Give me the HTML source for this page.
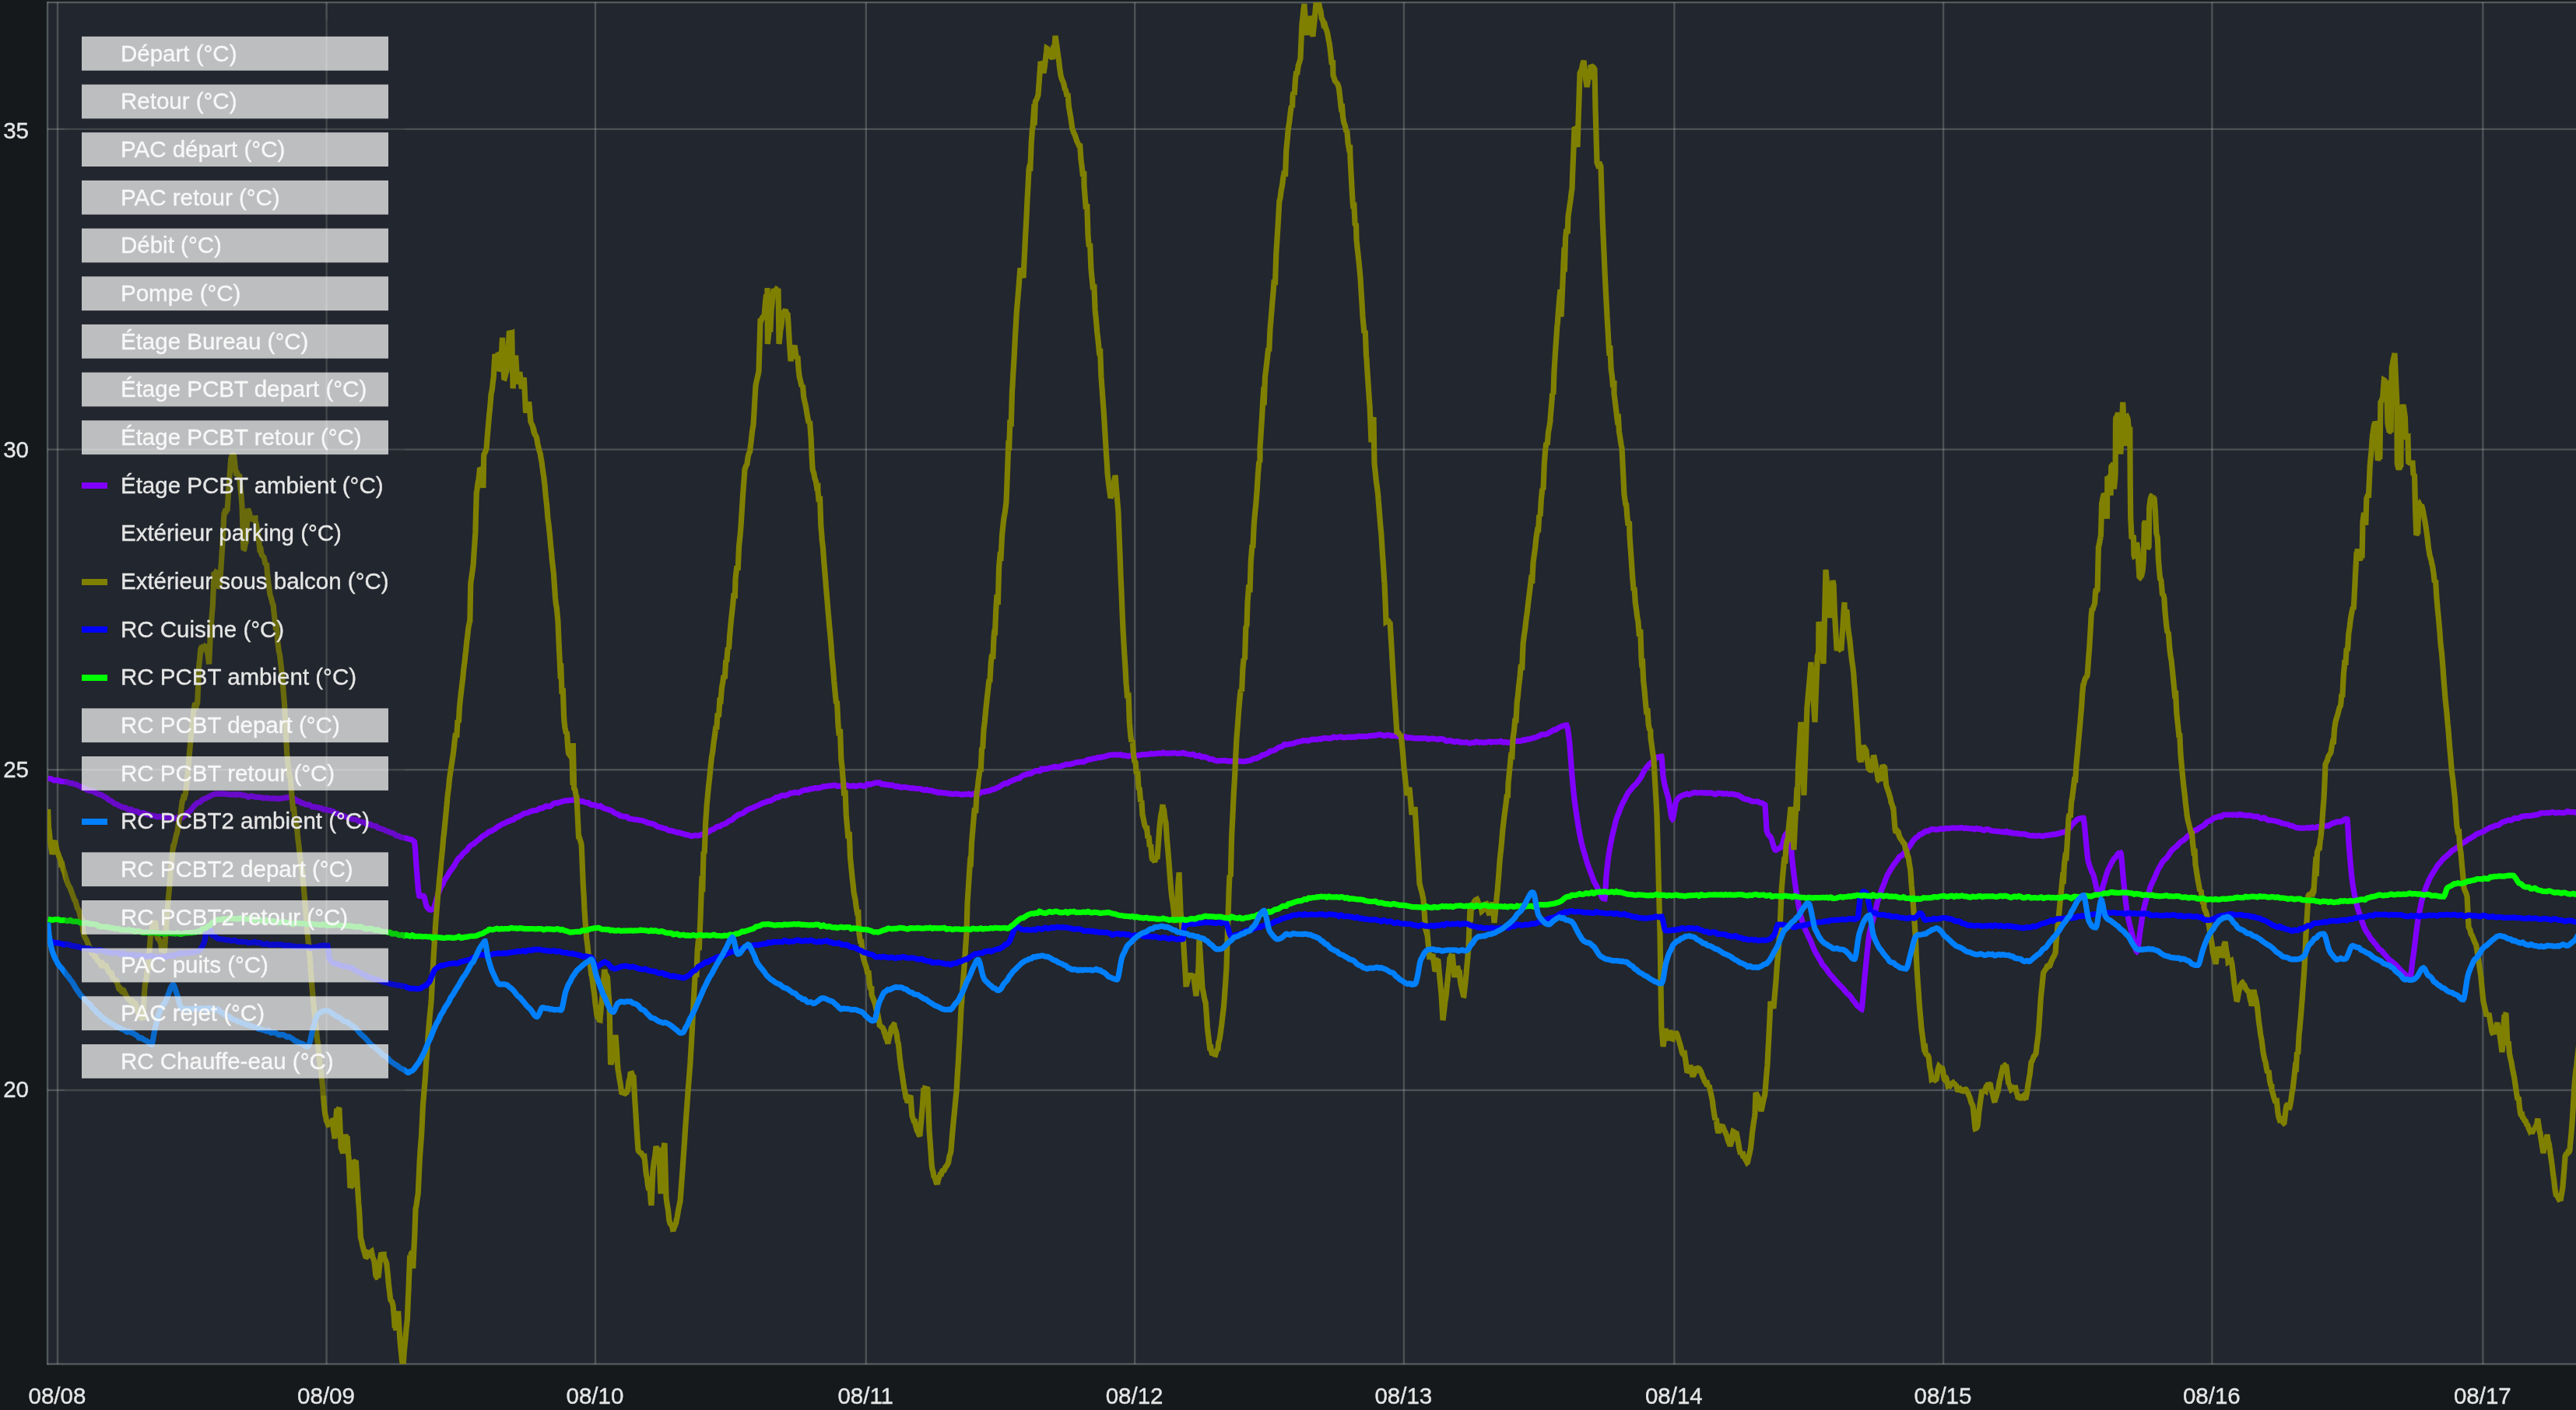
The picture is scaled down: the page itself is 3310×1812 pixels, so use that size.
<!DOCTYPE html><html><head><meta charset="utf-8"><title>chart</title><style>
html,body{margin:0;padding:0;background:#15191c;}
body{width:3310px;height:1812px;overflow:hidden;position:relative;font-family:"Liberation Sans",sans-serif;}
svg{position:absolute;left:0;top:0;display:block;will-change:transform}
text{font-family:"Liberation Sans",sans-serif;font-size:29.5px;fill:#e6e6e6;stroke:#e6e6e6;stroke-width:0.35px}
.c{fill:none;stroke-width:7.2;stroke-linejoin:miter;stroke-miterlimit:2;stroke-linecap:butt}
.g{stroke:rgba(200,212,205,0.25);stroke-width:2.4;fill:none}
.b{stroke:rgba(200,212,205,0.31);stroke-width:2.4;fill:none}
</style></head><body>
<svg width="3310" height="1812" viewBox="0 0 3310 1812">
<defs><clipPath id="cp"><rect x="61" y="3" width="3249" height="1750"/></clipPath></defs>
<rect x="61" y="3" width="3249" height="1750" fill="#22262e"/>
<path class="g" d="M74.0 3 V1753"/>
<path class="g" d="M419.6 3 V1753"/>
<path class="g" d="M765.0 3 V1753"/>
<path class="g" d="M1112.8 3 V1753"/>
<path class="g" d="M1458.2 3 V1753"/>
<path class="g" d="M1803.9 3 V1753"/>
<path class="g" d="M2151.4 3 V1753"/>
<path class="g" d="M2497.1 3 V1753"/>
<path class="g" d="M2842.4 3 V1753"/>
<path class="g" d="M3190.4 3 V1753"/>
<path class="g" d="M61 165.9 H3310"/>
<path class="g" d="M61 577.6 H3310"/>
<path class="g" d="M61 989.3 H3310"/>
<path class="g" d="M61 1401.0 H3310"/>
<path class="b" d="M61 2 V1754"/>
<path class="b" d="M61 3 H3310"/>
<path class="b" d="M61 1753 H3310"/>
<g clip-path="url(#cp)">
<path class="c" stroke="#8000ff" d="M61.6 1000.2 L62.9 1000.4 L64.2 1000.5 L65.5 1000.9 L66.8 1001.5 L68.1 1002.1 L69.4 1002.8 L70.7 1002.8 L72.0 1002.5 L73.3 1002.5 L74.0 1002.7 L74.6 1002.8 L75.9 1003.2 L77.2 1003.8 L78.5 1004.1 L79.8 1004.3 L81.1 1004.5 L82.4 1004.7 L83.7 1004.7 L85.0 1004.6 L86.3 1005.0 L87.6 1005.5 L88.9 1006.1 L90.2 1006.6 L91.0 1006.7 L91.5 1006.6 L92.8 1006.4 L94.1 1006.9 L95.4 1007.7 L96.7 1008.0 L98.0 1008.1 L99.3 1008.7 L100.6 1009.5 L101.9 1010.0 L103.2 1010.5 L104.5 1011.3 L105.5 1012.1 L105.8 1012.3 L107.1 1012.8 L108.4 1013.0 L109.7 1013.7 L111.0 1014.7 L112.3 1015.3 L113.6 1015.7 L114.9 1016.1 L116.2 1016.5 L117.5 1016.5 L118.8 1016.3 L120.1 1016.9 L121.4 1018.0 L122.7 1018.8 L124.0 1019.5 L125.3 1020.1 L126.6 1020.7 L127.9 1021.0 L129.2 1021.1 L129.6 1021.1 L130.5 1021.7 L131.8 1022.7 L133.1 1023.4 L134.4 1023.9 L135.7 1024.7 L137.0 1025.5 L138.3 1026.7 L139.6 1028.0 L140.9 1028.6 L142.2 1028.9 L143.5 1029.7 L144.8 1030.7 L146.1 1031.8 L147.4 1032.8 L148.7 1033.4 L150.0 1033.6 L151.3 1034.3 L152.6 1035.1 L153.9 1035.8 L155.2 1036.4 L156.0 1036.8 L156.5 1037.0 L157.8 1037.4 L159.1 1037.6 L160.4 1037.7 L161.7 1038.3 L163.0 1039.1 L164.3 1039.9 L165.6 1040.7 L166.9 1040.6 L168.2 1040.1 L169.5 1040.7 L170.8 1041.8 L172.1 1042.2 L173.4 1042.4 L174.7 1042.5 L176.0 1042.6 L177.3 1043.4 L178.6 1044.6 L179.9 1044.9 L180.0 1044.9 L181.2 1044.9 L182.5 1044.7 L183.8 1044.5 L185.1 1044.9 L186.4 1045.7 L187.7 1046.2 L189.0 1046.7 L190.3 1047.0 L191.6 1047.0 L192.9 1047.5 L194.2 1048.0 L195.5 1048.2 L196.8 1048.3 L198.1 1048.6 L199.4 1049.0 L199.5 1049.0 L200.7 1049.4 L202.0 1049.9 L203.3 1049.7 L204.6 1049.2 L205.9 1049.4 L207.2 1049.8 L208.5 1049.9 L209.8 1049.9 L211.1 1050.0 L212.4 1050.3 L213.7 1050.2 L214.0 1050.1 L215.0 1049.9 L216.3 1049.9 L217.6 1050.2 L218.9 1050.4 L220.2 1050.5 L221.5 1050.9 L222.8 1051.2 L224.1 1051.4 L225.4 1051.5 L226.7 1051.1 L228.0 1050.4 L229.3 1050.3 L230.6 1050.5 L231.9 1050.8 L233.0 1051.2 L233.2 1051.2 L234.5 1050.5 L235.8 1049.0 L237.1 1048.0 L238.4 1047.2 L239.7 1046.0 L241.0 1044.6 L242.3 1043.6 L243.0 1043.1 L243.6 1042.8 L244.9 1041.4 L246.2 1039.9 L247.5 1038.1 L248.8 1036.4 L250.1 1034.9 L251.4 1033.7 L252.5 1032.8 L252.7 1032.7 L254.0 1031.7 L255.3 1031.2 L256.6 1030.9 L257.9 1029.8 L259.2 1028.4 L260.5 1027.5 L261.8 1026.9 L263.1 1026.4 L264.4 1025.9 L265.7 1025.3 L267.0 1024.6 L267.0 1024.6 L268.3 1023.9 L269.6 1023.3 L270.9 1022.6 L272.2 1021.7 L273.5 1021.3 L274.8 1021.1 L276.1 1020.7 L277.4 1020.2 L278.7 1020.2 L280.0 1020.4 L281.3 1020.4 L281.5 1020.4 L282.6 1020.2 L283.9 1020.1 L285.2 1019.9 L286.5 1020.1 L287.8 1020.4 L289.1 1020.3 L290.4 1020.1 L291.7 1020.4 L293.0 1021.0 L294.3 1021.0 L295.6 1020.8 L296.9 1021.0 L298.2 1021.3 L299.5 1021.1 L300.8 1020.7 L302.1 1021.0 L303.0 1021.4 L303.4 1021.6 L304.7 1021.4 L306.0 1020.9 L307.3 1020.8 L308.6 1020.8 L309.9 1021.3 L311.2 1021.9 L312.5 1022.1 L313.8 1022.1 L315.1 1022.4 L316.4 1022.8 L317.7 1023.5 L319.0 1024.3 L320.3 1023.9 L321.6 1023.2 L322.9 1023.0 L324.2 1023.2 L325.5 1023.6 L326.8 1023.9 L327.0 1024.0 L328.1 1024.2 L329.4 1024.4 L330.7 1024.4 L332.0 1024.4 L333.3 1024.5 L334.6 1024.6 L335.9 1025.0 L337.2 1025.4 L338.5 1025.6 L339.8 1025.7 L341.1 1025.5 L342.4 1025.2 L343.7 1025.3 L345.0 1025.7 L346.3 1026.0 L347.6 1026.1 L348.9 1026.0 L350.2 1025.7 L351.5 1025.9 L352.8 1026.3 L353.8 1026.3 L354.1 1026.2 L355.4 1025.9 L356.7 1026.1 L358.0 1026.6 L359.3 1026.5 L360.6 1026.1 L361.9 1025.9 L363.2 1025.8 L364.5 1025.5 L365.8 1025.2 L367.1 1025.2 L368.4 1025.2 L369.7 1024.8 L370.7 1024.4 L371.0 1024.3 L372.3 1024.4 L373.6 1024.9 L374.9 1025.7 L376.2 1026.6 L377.5 1026.8 L378.8 1026.7 L380.1 1027.7 L381.4 1029.3 L382.7 1029.7 L384.0 1029.5 L385.3 1030.4 L386.6 1031.7 L387.5 1032.1 L387.9 1032.1 L389.2 1032.0 L390.5 1032.6 L391.8 1033.5 L393.1 1033.9 L394.4 1034.1 L395.7 1034.0 L397.0 1033.9 L398.3 1034.7 L399.6 1035.9 L400.9 1036.6 L402.2 1037.0 L403.5 1037.0 L404.8 1036.9 L406.1 1037.1 L406.8 1037.3 L407.4 1037.4 L408.7 1037.8 L410.0 1038.2 L411.3 1038.4 L412.6 1038.5 L413.9 1039.2 L415.2 1040.1 L416.5 1040.3 L417.8 1040.2 L419.1 1040.5 L420.4 1041.0 L421.7 1041.2 L423.0 1041.4 L424.3 1041.7 L425.6 1042.2 L426.0 1042.3 L426.9 1042.5 L428.2 1042.7 L429.5 1043.7 L430.8 1044.9 L432.1 1045.4 L433.4 1045.5 L434.7 1046.1 L436.0 1047.0 L437.3 1047.4 L438.6 1047.7 L439.9 1048.0 L441.2 1048.3 L442.5 1048.9 L443.8 1049.5 L445.1 1050.0 L446.4 1050.4 L447.7 1051.0 L449.0 1051.6 L450.0 1052.0 L450.3 1052.0 L451.6 1052.3 L452.9 1052.6 L454.2 1053.0 L455.5 1053.2 L456.8 1053.2 L457.0 1053.2 L458.1 1053.6 L459.4 1054.2 L460.7 1055.2 L462.0 1056.3 L463.3 1056.5 L464.6 1056.2 L465.9 1056.3 L467.2 1056.6 L468.5 1057.3 L469.8 1058.1 L471.1 1058.9 L472.4 1059.6 L473.7 1059.6 L475.0 1059.1 L476.3 1059.6 L477.6 1060.4 L478.9 1060.9 L480.2 1061.2 L481.5 1061.4 L482.8 1061.5 L484.1 1062.4 L485.4 1063.6 L486.7 1064.2 L487.0 1064.2 L488.0 1064.4 L489.3 1064.9 L490.6 1065.4 L491.9 1065.8 L493.2 1066.1 L494.5 1066.8 L495.8 1067.7 L497.1 1068.1 L498.4 1068.4 L499.7 1069.0 L501.0 1069.6 L502.3 1070.0 L503.6 1070.3 L504.9 1070.8 L506.2 1071.3 L507.5 1072.4 L508.8 1073.7 L510.1 1074.1 L511.4 1074.1 L512.7 1074.6 L514.0 1075.3 L515.3 1075.8 L516.0 1076.1 L516.6 1076.2 L517.9 1076.5 L519.2 1076.7 L520.5 1076.9 L521.8 1077.1 L523.1 1077.6 L524.4 1078.1 L525.7 1078.4 L527.0 1078.5 L528.3 1078.9 L529.6 1079.6 L530.9 1080.5 L532.2 1081.5 L532.5 1081.8 L533.5 1090.3 L534.8 1110.2 L535.0 1112.7 L536.1 1126.9 L537.4 1143.3 L538.7 1151.1 L538.7 1151.1 L540.0 1151.5 L541.3 1151.4 L542.6 1151.3 L543.9 1151.3 L544.3 1151.4 L545.2 1153.0 L546.5 1158.5 L547.8 1163.8 L548.0 1164.3 L549.1 1166.1 L550.4 1167.8 L551.7 1168.9 L553.0 1169.3 L553.5 1169.2 L554.3 1169.2 L555.6 1168.6 L556.9 1167.4 L557.2 1167.1 L558.2 1165.2 L559.5 1161.0 L560.8 1156.0 L562.1 1151.2 L562.7 1149.5 L563.4 1147.8 L564.7 1144.5 L566.0 1141.2 L567.3 1138.8 L568.6 1136.9 L569.9 1134.1 L571.2 1130.9 L572.5 1128.8 L573.8 1127.2 L573.8 1127.2 L575.1 1125.1 L576.4 1122.8 L577.7 1120.7 L579.0 1118.8 L580.3 1117.0 L581.6 1115.3 L582.9 1113.4 L584.2 1111.4 L585.5 1109.0 L586.8 1106.5 L588.1 1104.5 L588.6 1103.8 L589.4 1102.8 L590.7 1101.7 L592.0 1101.0 L593.3 1099.3 L594.6 1097.4 L595.9 1096.0 L597.2 1095.0 L598.5 1093.9 L599.8 1092.9 L601.1 1091.1 L602.4 1089.2 L603.7 1087.6 L605.0 1086.3 L606.3 1085.6 L607.6 1085.2 L608.9 1084.2 L610.2 1083.1 L610.7 1082.6 L611.5 1081.9 L612.8 1080.8 L614.1 1079.8 L615.4 1078.9 L616.7 1077.7 L618.0 1076.5 L619.3 1075.3 L620.6 1074.2 L621.9 1073.5 L623.2 1073.0 L624.5 1072.1 L625.8 1070.9 L627.1 1069.9 L628.4 1068.8 L629.7 1068.4 L631.0 1068.2 L632.3 1067.5 L632.8 1067.1 L633.6 1066.5 L634.9 1065.8 L636.2 1065.1 L637.5 1064.1 L638.8 1063.0 L640.1 1062.2 L641.4 1061.5 L642.7 1060.8 L644.0 1059.9 L645.3 1059.2 L646.6 1058.6 L647.9 1058.1 L649.2 1057.7 L650.5 1057.0 L651.8 1056.0 L653.1 1055.5 L654.4 1055.2 L655.7 1054.7 L657.0 1054.0 L658.3 1053.7 L658.7 1053.7 L659.6 1053.6 L660.9 1052.5 L662.2 1050.8 L663.5 1050.3 L664.8 1050.4 L666.1 1049.8 L667.4 1048.9 L668.7 1048.2 L670.0 1047.6 L671.3 1046.8 L672.6 1045.7 L673.9 1045.3 L675.2 1045.0 L676.5 1044.8 L677.8 1044.7 L679.1 1044.1 L680.4 1043.4 L681.7 1042.9 L683.0 1042.5 L684.3 1042.0 L684.5 1042.0 L685.6 1041.5 L686.9 1041.5 L688.2 1041.6 L689.5 1041.2 L690.8 1040.6 L692.1 1039.7 L693.4 1038.8 L694.7 1038.6 L696.0 1038.8 L697.3 1038.4 L698.6 1037.6 L699.9 1036.9 L700.0 1036.8 L701.2 1036.1 L702.5 1036.0 L703.8 1036.3 L705.1 1036.3 L706.4 1036.3 L707.7 1035.5 L709.0 1034.5 L710.3 1033.5 L711.6 1032.6 L712.9 1032.0 L714.2 1031.7 L715.0 1031.6 L715.5 1031.7 L716.8 1032.0 L718.1 1031.6 L719.4 1031.0 L720.7 1030.5 L722.0 1030.1 L723.3 1029.7 L724.6 1029.4 L725.9 1029.1 L727.2 1028.9 L728.5 1028.8 L729.8 1028.8 L731.1 1028.7 L732.4 1028.5 L733.7 1028.3 L735.0 1028.2 L735.0 1028.2 L736.3 1027.9 L737.6 1027.6 L738.9 1027.9 L740.2 1028.6 L741.5 1028.7 L742.8 1028.6 L744.1 1029.1 L745.4 1030.0 L746.7 1030.0 L748.0 1029.6 L749.3 1030.0 L750.6 1030.7 L751.9 1031.1 L753.2 1031.5 L754.5 1031.6 L755.0 1031.6 L755.8 1031.5 L757.1 1032.4 L758.4 1033.6 L759.7 1034.2 L761.0 1034.5 L762.3 1034.5 L763.6 1034.3 L764.9 1034.8 L766.2 1035.5 L767.5 1036.0 L768.8 1036.3 L770.1 1036.1 L771.4 1035.6 L772.7 1036.4 L774.0 1037.7 L775.3 1038.4 L776.6 1038.8 L777.9 1039.3 L779.2 1039.8 L780.5 1040.1 L781.8 1040.2 L783.1 1040.8 L784.4 1041.5 L785.0 1041.8 L785.7 1042.1 L787.0 1042.7 L788.3 1043.7 L789.6 1044.7 L790.9 1045.3 L792.2 1045.8 L793.5 1046.3 L794.8 1046.8 L796.1 1047.7 L797.4 1048.8 L798.7 1049.0 L800.0 1048.9 L800.0 1048.9 L801.3 1049.1 L802.6 1049.5 L803.9 1049.6 L805.2 1049.5 L806.5 1050.4 L807.8 1051.8 L809.1 1052.2 L810.4 1052.3 L811.7 1052.5 L813.0 1052.8 L814.3 1053.0 L815.6 1053.2 L816.9 1053.3 L818.2 1053.4 L819.5 1053.6 L820.8 1053.9 L822.1 1054.1 L823.4 1054.2 L824.7 1054.5 L826.0 1054.8 L827.3 1055.2 L828.6 1055.6 L829.9 1056.3 L830.0 1056.4 L831.2 1057.1 L832.5 1057.5 L833.8 1057.6 L835.1 1057.9 L836.4 1058.2 L837.7 1058.5 L839.0 1058.8 L840.3 1059.3 L841.6 1059.8 L842.9 1060.8 L844.2 1062.0 L845.5 1062.5 L846.8 1062.7 L848.1 1063.1 L849.4 1063.4 L850.7 1063.8 L852.0 1064.2 L853.3 1064.5 L854.6 1064.7 L855.9 1065.3 L857.2 1066.1 L858.5 1066.7 L859.8 1067.4 L860.0 1067.5 L861.1 1067.6 L862.4 1067.5 L863.7 1067.8 L865.0 1068.2 L866.3 1068.6 L867.6 1069.0 L868.9 1069.4 L870.2 1069.9 L871.5 1069.9 L872.8 1069.8 L874.1 1070.2 L875.4 1071.0 L876.7 1071.3 L878.0 1071.4 L879.3 1072.0 L880.6 1072.8 L881.9 1072.9 L883.2 1072.6 L884.5 1073.0 L885.8 1073.6 L887.1 1074.1 L888.4 1074.5 L889.7 1074.4 L891.0 1073.9 L892.3 1073.7 L893.6 1073.7 L894.0 1073.6 L894.9 1073.8 L896.2 1073.9 L897.5 1073.8 L898.8 1073.5 L900.1 1073.0 L901.4 1072.3 L902.7 1072.1 L904.0 1072.1 L905.3 1072.0 L906.6 1071.9 L907.9 1071.0 L909.2 1069.7 L910.5 1068.9 L911.8 1068.2 L913.1 1067.4 L914.4 1066.4 L915.7 1065.9 L917.0 1065.6 L918.3 1064.8 L919.6 1063.6 L920.9 1062.8 L922.2 1062.2 L923.5 1062.1 L924.0 1062.1 L924.8 1062.2 L926.1 1061.3 L927.4 1060.0 L928.7 1059.5 L930.0 1059.4 L931.3 1058.9 L932.6 1058.3 L933.9 1057.4 L935.2 1056.2 L936.5 1055.4 L937.8 1054.7 L939.1 1054.2 L940.4 1053.8 L941.7 1052.7 L943.0 1051.2 L944.3 1050.2 L945.6 1049.2 L946.9 1048.3 L948.2 1047.2 L949.5 1046.7 L950.8 1046.3 L952.1 1046.0 L953.4 1045.7 L954.7 1045.0 L956.0 1044.2 L957.3 1043.0 L958.6 1041.8 L959.0 1041.4 L959.9 1041.0 L961.2 1040.4 L962.5 1039.9 L963.8 1039.3 L965.1 1038.9 L966.4 1038.5 L967.7 1037.9 L969.0 1037.1 L970.3 1036.5 L971.6 1036.1 L972.9 1035.5 L974.2 1035.0 L975.5 1034.3 L976.8 1033.5 L978.1 1032.9 L979.4 1032.4 L980.7 1031.9 L982.0 1031.5 L983.3 1030.9 L984.6 1030.3 L985.9 1029.8 L987.2 1029.5 L988.5 1029.3 L989.8 1029.2 L991.1 1028.6 L992.4 1027.7 L993.7 1027.0 L995.0 1026.4 L996.3 1025.6 L997.6 1024.6 L998.9 1024.5 L999.0 1024.5 L1000.2 1024.7 L1001.5 1024.0 L1002.8 1022.9 L1004.1 1022.4 L1005.4 1022.1 L1006.7 1022.3 L1008.0 1022.6 L1009.3 1022.4 L1010.6 1022.0 L1011.9 1021.4 L1013.2 1020.8 L1014.5 1020.0 L1015.8 1019.2 L1017.1 1019.0 L1018.4 1019.1 L1019.7 1018.8 L1021.0 1018.4 L1022.3 1018.3 L1023.6 1018.4 L1024.9 1018.6 L1026.2 1018.8 L1027.5 1018.2 L1028.8 1017.3 L1030.1 1016.6 L1031.4 1016.0 L1032.7 1015.5 L1034.0 1015.2 L1035.3 1015.1 L1036.6 1015.1 L1037.9 1015.0 L1038.0 1014.9 L1039.2 1014.7 L1040.5 1014.2 L1041.8 1013.6 L1043.1 1013.5 L1044.4 1013.6 L1045.7 1013.1 L1047.0 1012.5 L1048.3 1012.5 L1049.6 1012.9 L1050.9 1012.8 L1052.2 1012.6 L1053.5 1012.3 L1054.8 1012.0 L1056.1 1011.5 L1057.4 1010.8 L1058.7 1010.7 L1060.0 1010.8 L1061.3 1010.6 L1062.6 1010.2 L1063.9 1010.0 L1065.2 1009.9 L1066.5 1009.8 L1067.8 1009.8 L1068.0 1009.8 L1069.1 1009.6 L1070.4 1009.3 L1071.7 1009.2 L1073.0 1009.1 L1074.3 1009.6 L1075.6 1010.3 L1076.9 1010.3 L1078.2 1010.0 L1079.5 1010.0 L1080.8 1010.1 L1082.1 1010.3 L1083.4 1010.5 L1084.7 1010.0 L1086.0 1009.2 L1087.3 1009.2 L1088.6 1009.4 L1089.9 1009.7 L1091.2 1010.0 L1092.5 1010.2 L1093.8 1010.2 L1095.1 1010.1 L1096.4 1009.8 L1097.7 1010.1 L1099.0 1010.5 L1100.3 1010.4 L1101.6 1010.2 L1102.9 1009.8 L1104.2 1009.4 L1105.5 1009.3 L1106.8 1009.4 L1108.0 1009.8 L1108.1 1009.8 L1109.4 1010.2 L1110.7 1010.1 L1112.0 1009.7 L1113.3 1008.9 L1114.6 1007.7 L1115.9 1007.7 L1117.2 1008.3 L1118.5 1008.0 L1119.8 1007.3 L1121.1 1007.0 L1122.4 1007.0 L1123.7 1006.5 L1125.0 1005.9 L1125.0 1005.9 L1126.3 1005.8 L1127.6 1005.9 L1128.9 1005.9 L1130.2 1005.8 L1131.5 1006.7 L1132.8 1008.0 L1134.1 1008.0 L1135.4 1007.5 L1136.7 1007.9 L1138.0 1008.7 L1139.3 1008.7 L1140.6 1008.3 L1141.9 1008.6 L1143.2 1009.1 L1144.5 1009.1 L1145.8 1008.8 L1147.1 1009.1 L1148.0 1009.5 L1148.4 1009.7 L1149.7 1010.3 L1151.0 1010.9 L1152.3 1010.7 L1153.6 1010.3 L1154.9 1010.7 L1156.2 1011.6 L1157.5 1011.8 L1158.8 1011.8 L1160.1 1011.6 L1161.4 1011.3 L1162.7 1011.5 L1164.0 1011.8 L1165.3 1012.0 L1166.6 1012.2 L1167.9 1012.4 L1169.2 1012.7 L1170.5 1012.8 L1171.8 1012.8 L1173.1 1012.9 L1174.4 1012.9 L1175.7 1013.2 L1177.0 1013.5 L1178.3 1013.5 L1179.6 1013.5 L1180.9 1013.5 L1182.2 1013.6 L1183.5 1014.0 L1184.8 1014.6 L1186.1 1015.0 L1187.0 1015.4 L1187.4 1015.5 L1188.7 1015.3 L1190.0 1014.7 L1191.3 1015.0 L1192.6 1015.7 L1193.9 1015.9 L1195.2 1015.9 L1196.5 1016.0 L1197.8 1016.1 L1199.1 1016.7 L1200.4 1017.5 L1201.7 1017.6 L1203.0 1017.4 L1204.3 1017.9 L1205.6 1018.7 L1206.9 1018.6 L1208.2 1018.2 L1209.5 1018.4 L1210.8 1018.9 L1212.1 1019.1 L1213.4 1019.1 L1214.7 1019.1 L1216.0 1019.1 L1217.3 1019.4 L1218.6 1020.0 L1219.9 1020.1 L1221.2 1019.9 L1222.0 1020.0 L1222.5 1020.1 L1223.8 1020.4 L1225.1 1020.4 L1226.4 1020.3 L1227.7 1020.1 L1229.0 1019.9 L1230.3 1020.0 L1231.6 1020.4 L1232.9 1020.6 L1234.2 1020.7 L1235.5 1021.0 L1236.8 1021.3 L1238.1 1021.0 L1239.4 1020.5 L1240.7 1020.5 L1242.0 1020.8 L1243.3 1020.6 L1244.6 1020.1 L1245.9 1020.5 L1247.0 1021.1 L1247.2 1021.2 L1248.5 1021.0 L1249.8 1020.4 L1251.1 1020.0 L1252.4 1019.6 L1253.7 1019.8 L1255.0 1020.1 L1256.3 1020.2 L1257.6 1020.3 L1258.9 1019.6 L1260.2 1018.5 L1261.5 1018.0 L1262.8 1017.8 L1264.1 1017.6 L1265.4 1017.4 L1266.7 1017.0 L1268.0 1016.5 L1269.3 1016.4 L1270.6 1016.5 L1271.9 1016.0 L1272.0 1016.0 L1273.2 1015.3 L1274.5 1014.8 L1275.8 1014.3 L1277.1 1014.1 L1278.4 1014.0 L1279.7 1013.3 L1281.0 1012.3 L1282.3 1011.8 L1283.6 1011.6 L1284.9 1010.7 L1286.2 1009.7 L1287.5 1008.8 L1288.8 1008.1 L1290.1 1007.3 L1291.4 1006.5 L1292.7 1006.5 L1294.0 1007.0 L1295.3 1006.2 L1296.6 1005.0 L1297.9 1004.3 L1299.2 1003.9 L1300.5 1003.3 L1301.0 1003.1 L1301.8 1002.7 L1303.1 1002.2 L1304.4 1001.7 L1305.7 1001.1 L1307.0 1000.6 L1308.3 1000.4 L1309.6 1000.4 L1310.9 999.4 L1312.2 998.0 L1313.5 997.1 L1314.8 996.4 L1316.1 996.0 L1317.4 995.6 L1318.7 995.1 L1320.0 994.5 L1321.3 994.4 L1322.6 994.6 L1323.9 994.3 L1325.2 993.8 L1326.5 993.0 L1327.8 992.0 L1329.1 991.4 L1330.4 990.8 L1331.7 990.6 L1333.0 990.5 L1334.3 990.6 L1335.6 990.8 L1336.0 990.8 L1336.9 989.7 L1338.2 988.1 L1339.5 988.1 L1340.8 988.8 L1342.1 988.5 L1343.4 987.8 L1344.7 987.8 L1346.0 988.1 L1347.3 987.6 L1348.6 986.8 L1349.9 986.5 L1351.2 986.5 L1352.5 986.1 L1353.8 985.5 L1355.1 985.2 L1356.4 985.1 L1357.7 985.4 L1359.0 985.9 L1360.3 985.8 L1361.6 985.4 L1362.9 984.8 L1364.2 984.2 L1365.5 983.8 L1366.8 983.4 L1368.1 982.9 L1369.4 982.3 L1370.7 982.2 L1371.0 982.3 L1372.0 982.4 L1373.3 982.3 L1374.6 982.2 L1375.9 981.9 L1377.2 981.6 L1378.5 981.3 L1379.8 980.9 L1381.1 980.4 L1382.4 979.8 L1383.7 979.6 L1385.0 979.6 L1386.3 979.4 L1387.6 979.1 L1388.9 979.1 L1390.2 979.1 L1391.5 979.1 L1392.8 978.9 L1394.1 978.3 L1395.4 977.4 L1396.7 976.8 L1398.0 976.3 L1399.3 976.1 L1400.6 976.0 L1401.9 975.7 L1403.2 975.2 L1404.5 974.9 L1405.8 974.6 L1406.0 974.6 L1407.1 974.5 L1408.4 974.4 L1409.7 974.0 L1411.0 973.4 L1412.3 973.4 L1413.6 973.6 L1414.9 973.3 L1416.2 972.8 L1417.5 972.5 L1418.8 972.4 L1420.1 972.0 L1421.4 971.6 L1422.7 971.2 L1424.0 970.8 L1425.3 970.5 L1426.6 970.2 L1427.9 970.2 L1429.2 970.2 L1430.5 970.1 L1431.8 969.9 L1433.1 969.9 L1434.4 970.1 L1435.7 970.1 L1436.0 970.1 L1437.0 970.0 L1438.3 969.9 L1439.6 969.6 L1440.9 970.0 L1442.2 970.7 L1443.5 970.9 L1444.8 970.7 L1446.1 971.0 L1447.4 971.4 L1448.7 971.6 L1450.0 971.8 L1450.0 971.8 L1451.3 971.4 L1452.6 970.9 L1453.9 971.1 L1455.2 971.6 L1456.5 971.7 L1457.8 971.6 L1459.1 971.4 L1460.4 971.1 L1461.7 970.9 L1463.0 970.6 L1464.3 970.4 L1465.6 970.3 L1466.9 970.0 L1468.2 969.6 L1469.5 969.6 L1470.0 969.6 L1470.8 969.7 L1472.1 969.6 L1473.4 969.4 L1474.7 969.3 L1476.0 969.4 L1477.3 969.0 L1478.6 968.5 L1479.9 968.6 L1481.2 968.9 L1482.5 968.8 L1483.8 968.7 L1485.1 968.5 L1486.4 968.3 L1487.7 968.1 L1489.0 968.0 L1490.3 968.1 L1491.6 968.3 L1492.9 967.9 L1494.2 967.2 L1495.0 967.2 L1495.5 967.4 L1496.8 968.1 L1498.1 968.2 L1499.4 968.2 L1500.7 968.2 L1502.0 968.2 L1503.3 968.2 L1504.6 968.2 L1505.9 968.0 L1507.2 967.7 L1508.5 967.7 L1509.8 967.8 L1511.1 968.0 L1512.4 968.3 L1513.7 968.3 L1515.0 968.3 L1516.3 968.2 L1517.6 968.1 L1518.9 967.8 L1520.0 967.3 L1520.2 967.3 L1521.5 967.6 L1522.8 968.3 L1524.1 968.7 L1525.4 969.1 L1526.7 969.3 L1528.0 969.5 L1529.3 969.6 L1530.6 969.7 L1531.9 969.5 L1533.2 969.3 L1534.5 970.0 L1535.8 971.1 L1537.1 971.5 L1538.4 971.5 L1539.7 971.2 L1541.0 970.8 L1542.3 971.5 L1543.6 972.7 L1544.9 972.8 L1545.0 972.8 L1546.2 972.5 L1547.5 972.6 L1548.8 973.0 L1550.1 973.4 L1551.4 973.9 L1552.7 974.6 L1554.0 975.5 L1555.3 975.6 L1556.6 975.4 L1557.9 975.7 L1559.2 976.1 L1560.5 976.8 L1561.8 977.5 L1563.1 977.8 L1564.4 978.0 L1565.7 977.8 L1567.0 977.5 L1568.3 977.5 L1569.6 977.6 L1570.9 977.5 L1572.2 977.3 L1573.5 977.3 L1574.8 977.5 L1575.0 977.6 L1576.1 977.8 L1577.4 978.2 L1578.7 978.2 L1580.0 978.2 L1581.3 978.2 L1582.6 978.1 L1583.9 978.2 L1585.2 978.5 L1586.5 978.2 L1587.8 977.7 L1589.1 977.7 L1590.4 977.9 L1591.7 978.1 L1593.0 978.4 L1594.3 978.4 L1595.6 978.4 L1596.9 978.5 L1598.2 978.6 L1599.5 978.5 L1600.0 978.4 L1600.8 978.3 L1602.1 978.0 L1603.4 977.6 L1604.7 977.5 L1606.0 977.4 L1607.3 976.9 L1608.6 976.1 L1609.9 975.4 L1611.2 974.8 L1612.5 974.7 L1613.8 974.8 L1615.1 974.4 L1616.4 973.6 L1617.7 973.1 L1619.0 972.6 L1620.3 971.7 L1621.6 970.5 L1622.9 970.1 L1624.2 970.0 L1625.0 969.8 L1625.5 969.5 L1626.8 968.9 L1628.1 968.3 L1629.4 967.6 L1630.7 966.6 L1632.0 965.5 L1633.3 965.1 L1634.6 965.0 L1635.9 964.7 L1637.2 964.4 L1638.5 963.7 L1639.8 962.9 L1641.1 961.9 L1642.4 961.0 L1643.7 960.4 L1645.0 959.9 L1646.3 959.6 L1647.6 959.3 L1648.9 958.1 L1650.0 956.8 L1650.2 956.6 L1651.5 956.4 L1652.8 956.8 L1654.1 956.8 L1655.4 956.6 L1656.7 956.3 L1658.0 955.9 L1659.3 955.8 L1660.6 955.8 L1661.9 955.4 L1663.2 954.9 L1664.5 954.4 L1665.8 953.8 L1667.1 953.4 L1668.4 953.2 L1669.7 953.0 L1671.0 952.9 L1672.3 952.5 L1673.6 951.9 L1674.0 951.7 L1674.9 951.6 L1676.2 951.6 L1677.5 951.7 L1678.8 951.8 L1680.1 951.9 L1681.4 952.1 L1682.7 951.6 L1684.0 950.8 L1685.3 950.4 L1686.6 950.3 L1687.9 950.2 L1689.2 950.2 L1690.5 950.3 L1691.8 950.5 L1693.1 950.2 L1694.4 949.6 L1695.7 949.7 L1697.0 950.0 L1698.3 949.5 L1699.6 948.7 L1700.9 948.5 L1702.2 948.7 L1703.5 948.6 L1704.8 948.5 L1706.1 948.6 L1707.4 948.8 L1708.7 948.9 L1710.0 948.9 L1711.3 948.3 L1712.6 947.4 L1713.9 947.2 L1714.0 947.2 L1715.2 947.3 L1716.5 947.6 L1717.8 947.9 L1719.1 947.7 L1720.4 947.3 L1721.7 947.0 L1723.0 946.7 L1724.3 947.1 L1725.6 947.8 L1726.9 947.9 L1728.2 947.7 L1729.5 947.6 L1730.8 947.5 L1732.1 947.3 L1733.4 946.9 L1734.7 947.1 L1736.0 947.5 L1737.3 947.4 L1738.6 946.9 L1739.9 947.1 L1741.2 947.4 L1742.5 947.1 L1743.8 946.4 L1745.1 946.2 L1746.4 946.2 L1747.7 946.3 L1749.0 946.6 L1750.3 946.4 L1751.6 946.1 L1752.9 946.2 L1754.2 946.6 L1755.5 946.5 L1756.8 946.3 L1758.1 946.0 L1759.0 945.7 L1759.4 945.5 L1760.7 945.5 L1762.0 945.6 L1763.3 945.5 L1764.6 945.1 L1765.9 945.2 L1767.2 945.3 L1768.5 944.9 L1769.8 944.3 L1771.1 944.0 L1772.4 943.9 L1773.7 944.2 L1775.0 944.6 L1776.0 944.9 L1776.3 944.9 L1777.6 945.3 L1778.9 945.4 L1780.2 945.4 L1781.5 945.0 L1782.8 944.6 L1784.1 944.6 L1785.4 944.8 L1786.7 945.2 L1788.0 945.8 L1789.3 945.8 L1790.6 945.5 L1791.9 945.3 L1793.2 945.3 L1794.5 945.7 L1795.8 946.2 L1797.1 946.6 L1798.4 946.9 L1799.7 946.9 L1801.0 946.7 L1802.3 946.6 L1803.6 946.5 L1804.9 946.7 L1806.2 946.9 L1807.5 947.5 L1808.8 948.2 L1809.0 948.3 L1810.1 948.2 L1811.4 947.8 L1812.7 947.9 L1814.0 948.2 L1815.3 948.4 L1816.6 948.6 L1817.9 948.8 L1819.2 948.9 L1820.5 948.8 L1821.8 948.6 L1823.1 948.8 L1824.4 949.1 L1825.7 948.9 L1827.0 948.6 L1828.3 948.6 L1829.6 948.8 L1830.9 948.8 L1832.2 948.6 L1833.5 949.1 L1834.8 949.8 L1836.1 949.8 L1837.4 949.5 L1838.7 949.3 L1840.0 949.2 L1841.3 949.2 L1842.6 949.4 L1843.9 949.6 L1845.2 949.7 L1846.5 950.0 L1847.8 950.3 L1848.0 950.4 L1849.1 950.0 L1850.4 949.4 L1851.7 949.5 L1853.0 949.8 L1854.3 950.1 L1855.6 950.4 L1856.9 951.2 L1858.2 952.3 L1859.5 952.4 L1860.8 952.1 L1862.1 951.9 L1863.4 951.7 L1864.7 952.0 L1866.0 952.4 L1867.3 953.0 L1868.6 953.5 L1869.9 953.3 L1871.2 952.8 L1872.5 952.7 L1873.8 952.9 L1875.1 953.3 L1876.4 953.9 L1877.7 954.1 L1879.0 954.0 L1880.3 954.0 L1881.6 954.2 L1882.9 954.0 L1884.2 953.7 L1885.5 954.2 L1886.8 954.9 L1888.0 955.1 L1888.1 955.1 L1889.4 955.0 L1890.7 954.8 L1892.0 954.4 L1893.3 954.4 L1894.6 954.4 L1895.9 953.8 L1897.2 953.0 L1898.5 953.3 L1899.8 954.1 L1901.1 954.2 L1902.4 953.9 L1903.7 954.0 L1905.0 954.1 L1906.3 954.2 L1907.6 954.3 L1908.9 954.1 L1910.2 953.8 L1911.5 953.4 L1912.8 953.0 L1914.1 953.2 L1915.4 953.8 L1916.7 953.8 L1918.0 953.4 L1919.3 953.4 L1920.6 953.5 L1921.9 953.4 L1923.2 953.3 L1924.5 953.3 L1925.8 953.4 L1927.1 953.0 L1928.4 952.4 L1929.7 952.9 L1931.0 953.9 L1932.3 954.0 L1933.6 953.7 L1934.9 953.7 L1936.2 954.0 L1937.5 954.2 L1938.8 954.4 L1940.1 954.0 L1941.4 953.4 L1942.7 952.8 L1944.0 952.2 L1945.3 952.2 L1946.6 952.4 L1947.9 952.4 L1948.0 952.4 L1949.2 952.2 L1950.5 952.3 L1951.8 952.3 L1953.1 952.4 L1954.4 952.3 L1955.7 951.7 L1957.0 950.9 L1958.3 950.9 L1959.6 951.3 L1960.9 950.8 L1962.2 949.9 L1963.5 949.8 L1964.8 950.0 L1966.1 949.7 L1967.4 949.2 L1968.7 948.8 L1970.0 948.4 L1971.3 948.1 L1972.0 947.9 L1972.6 947.8 L1973.9 947.3 L1975.2 946.7 L1976.5 946.2 L1977.8 945.7 L1979.1 945.0 L1980.4 944.2 L1981.7 943.9 L1983.0 943.8 L1984.3 943.8 L1985.6 943.8 L1986.9 943.4 L1988.2 942.9 L1989.5 942.2 L1990.8 941.4 L1992.1 940.7 L1993.4 939.9 L1994.7 939.1 L1996.0 938.1 L1997.0 937.9 L1997.3 937.9 L1998.6 938.0 L1999.9 937.3 L2001.2 936.2 L2002.5 935.4 L2003.8 934.8 L2005.1 934.1 L2006.4 933.4 L2007.7 933.0 L2009.0 932.7 L2010.3 932.3 L2011.6 931.9 L2012.9 931.8 L2013.0 931.8 L2014.2 935.4 L2015.5 944.0 L2016.0 947.6 L2016.8 954.9 L2018.1 971.8 L2019.4 989.8 L2020.0 996.9 L2020.7 1004.5 L2022.0 1018.1 L2023.3 1029.6 L2024.6 1039.3 L2025.0 1042.0 L2025.9 1048.1 L2027.2 1056.5 L2028.5 1064.4 L2029.8 1071.8 L2031.1 1078.3 L2032.0 1082.4 L2032.4 1084.1 L2033.7 1089.1 L2035.0 1093.5 L2036.3 1098.1 L2037.6 1102.7 L2038.9 1107.1 L2040.2 1111.3 L2041.5 1115.0 L2042.0 1116.3 L2042.8 1118.4 L2044.1 1121.8 L2045.4 1125.2 L2046.7 1128.7 L2048.0 1132.3 L2049.3 1134.9 L2050.6 1137.1 L2051.9 1139.7 L2053.2 1142.5 L2054.0 1144.0 L2054.5 1144.9 L2055.8 1147.2 L2057.1 1150.2 L2058.4 1153.2 L2059.7 1154.6 L2061.0 1154.8 L2062.0 1155.0 L2062.3 1153.7 L2063.6 1131.4 L2064.0 1125.6 L2064.9 1116.5 L2066.2 1105.2 L2067.5 1096.0 L2068.8 1088.4 L2069.0 1087.3 L2070.1 1081.6 L2071.4 1075.2 L2072.7 1069.5 L2074.0 1064.4 L2075.3 1058.9 L2076.6 1053.6 L2077.9 1049.7 L2079.0 1047.1 L2079.2 1046.7 L2080.5 1043.2 L2081.8 1039.7 L2083.1 1036.4 L2084.4 1033.5 L2085.7 1031.0 L2087.0 1028.8 L2088.3 1026.2 L2089.6 1023.5 L2090.9 1021.0 L2092.0 1018.9 L2092.2 1018.6 L2093.5 1016.9 L2094.8 1015.7 L2096.1 1014.0 L2097.4 1012.1 L2098.7 1010.7 L2100.0 1009.4 L2101.3 1008.2 L2102.6 1006.9 L2103.9 1005.3 L2104.0 1005.2 L2105.2 1003.5 L2106.5 1001.8 L2107.8 1000.1 L2109.1 997.8 L2110.4 995.1 L2111.7 992.5 L2113.0 990.0 L2114.3 988.1 L2115.6 986.5 L2116.9 984.8 L2118.2 983.3 L2119.0 982.4 L2119.5 981.9 L2120.8 980.6 L2122.1 979.6 L2123.4 978.9 L2124.7 977.6 L2126.0 976.2 L2127.3 974.7 L2128.6 973.4 L2129.9 973.0 L2131.2 973.1 L2132.5 972.7 L2133.8 972.1 L2135.0 972.0 L2135.1 972.2 L2136.4 989.7 L2137.0 997.2 L2137.7 1001.7 L2139.0 1008.3 L2140.3 1013.5 L2141.6 1018.2 L2142.9 1022.7 L2144.0 1027.1 L2144.2 1028.0 L2145.5 1036.1 L2146.8 1044.9 L2148.1 1051.1 L2149.0 1052.4 L2149.4 1052.0 L2150.7 1046.6 L2152.0 1038.3 L2153.3 1031.1 L2154.0 1029.2 L2154.6 1028.5 L2155.9 1026.6 L2157.2 1024.8 L2158.5 1023.8 L2159.8 1023.2 L2161.1 1022.6 L2162.4 1021.9 L2163.7 1021.5 L2165.0 1021.3 L2166.0 1020.9 L2166.3 1020.7 L2167.6 1020.0 L2168.9 1020.3 L2170.2 1021.0 L2171.5 1020.8 L2172.8 1020.1 L2174.1 1019.5 L2175.4 1019.0 L2176.7 1018.6 L2178.0 1018.4 L2179.3 1018.5 L2180.6 1018.9 L2181.9 1019.0 L2183.2 1019.0 L2184.5 1018.8 L2185.8 1018.6 L2186.0 1018.6 L2187.1 1018.7 L2188.4 1019.0 L2189.7 1018.9 L2191.0 1018.7 L2192.3 1018.9 L2193.6 1019.3 L2194.9 1019.2 L2196.2 1018.8 L2197.5 1018.9 L2198.8 1019.1 L2200.1 1019.4 L2201.4 1019.8 L2202.7 1020.3 L2204.0 1020.8 L2205.3 1020.3 L2206.6 1019.3 L2207.9 1019.1 L2209.2 1019.4 L2210.5 1019.4 L2211.8 1019.4 L2213.1 1019.8 L2214.4 1020.3 L2215.7 1020.2 L2217.0 1019.7 L2218.3 1019.8 L2219.6 1020.1 L2220.9 1020.3 L2222.2 1020.6 L2223.5 1020.5 L2224.8 1020.4 L2226.0 1020.4 L2226.1 1020.4 L2227.4 1020.6 L2228.7 1021.0 L2230.0 1021.5 L2231.3 1021.6 L2232.6 1021.6 L2233.9 1022.1 L2235.2 1022.9 L2236.5 1023.7 L2237.8 1024.6 L2239.1 1025.4 L2240.4 1026.2 L2241.7 1026.8 L2243.0 1027.2 L2244.3 1027.3 L2245.0 1027.3 L2245.6 1027.3 L2246.9 1027.8 L2248.2 1028.4 L2249.5 1029.1 L2250.8 1029.7 L2252.1 1029.9 L2253.4 1030.0 L2254.7 1030.0 L2256.0 1030.0 L2257.3 1030.0 L2258.6 1030.1 L2259.9 1030.6 L2261.2 1031.5 L2262.5 1031.8 L2263.8 1032.1 L2265.1 1032.5 L2266.4 1033.2 L2267.7 1034.1 L2268.0 1034.4 L2269.0 1049.8 L2270.0 1066.8 L2270.3 1068.0 L2271.6 1071.7 L2272.9 1073.5 L2274.2 1074.5 L2275.5 1076.4 L2276.0 1077.4 L2276.8 1079.9 L2278.1 1084.6 L2279.4 1089.0 L2280.7 1091.9 L2281.0 1092.1 L2282.0 1092.4 L2283.3 1091.9 L2284.6 1090.9 L2285.9 1090.1 L2287.2 1089.4 L2288.0 1089.1 L2288.5 1088.9 L2289.8 1086.7 L2291.1 1082.4 L2292.4 1077.5 L2293.7 1073.6 L2295.0 1071.8 L2295.0 1071.8 L2296.3 1072.1 L2297.6 1073.3 L2298.9 1075.1 L2300.0 1077.1 L2300.2 1077.8 L2301.5 1089.3 L2302.8 1104.8 L2303.0 1106.7 L2304.1 1116.1 L2305.4 1126.7 L2306.7 1136.5 L2308.0 1145.1 L2308.0 1145.1 L2309.3 1153.1 L2310.6 1160.9 L2311.9 1167.9 L2313.2 1174.0 L2314.5 1179.3 L2315.0 1181.0 L2315.8 1183.7 L2317.1 1187.8 L2318.4 1191.7 L2319.7 1194.8 L2321.0 1197.5 L2322.3 1200.4 L2323.6 1203.4 L2324.9 1205.9 L2325.0 1206.0 L2326.2 1208.2 L2327.5 1211.3 L2328.8 1214.7 L2330.1 1218.0 L2331.4 1221.1 L2332.7 1223.6 L2334.0 1225.8 L2335.3 1228.1 L2336.6 1230.4 L2337.9 1232.6 L2339.2 1234.8 L2340.0 1236.2 L2340.5 1237.2 L2341.8 1239.7 L2343.1 1241.2 L2344.4 1242.3 L2345.7 1244.0 L2347.0 1245.9 L2348.3 1247.8 L2349.6 1249.6 L2350.9 1251.4 L2352.2 1253.0 L2353.5 1254.4 L2354.8 1255.6 L2355.0 1255.8 L2356.1 1257.2 L2357.4 1259.0 L2358.7 1260.4 L2360.0 1261.7 L2361.3 1263.2 L2362.6 1264.7 L2363.9 1266.1 L2365.2 1267.4 L2366.5 1268.6 L2367.8 1269.7 L2369.1 1271.2 L2370.4 1272.9 L2371.7 1274.5 L2373.0 1276.2 L2374.3 1277.3 L2375.6 1278.1 L2376.9 1279.5 L2377.0 1279.6 L2378.2 1281.2 L2379.5 1283.1 L2380.8 1285.2 L2382.1 1286.7 L2383.4 1288.0 L2384.7 1289.9 L2386.0 1291.9 L2387.3 1293.2 L2388.6 1294.0 L2389.9 1295.2 L2391.2 1296.4 L2392.0 1296.8 L2392.5 1295.3 L2393.8 1281.5 L2395.0 1266.3 L2395.1 1265.3 L2396.4 1252.2 L2397.7 1239.0 L2399.0 1226.1 L2399.0 1226.1 L2400.3 1213.6 L2401.6 1202.8 L2402.0 1200.4 L2402.9 1195.9 L2404.2 1190.6 L2405.5 1186.2 L2406.8 1181.8 L2407.0 1181.1 L2408.1 1177.1 L2409.4 1172.4 L2410.7 1166.7 L2412.0 1160.8 L2413.3 1156.2 L2414.6 1152.6 L2415.0 1151.6 L2415.9 1148.8 L2417.2 1144.8 L2418.5 1141.4 L2419.8 1138.4 L2421.1 1135.0 L2422.4 1131.5 L2423.7 1128.2 L2425.0 1125.1 L2426.3 1122.5 L2427.6 1120.3 L2428.9 1118.1 L2430.0 1116.4 L2430.2 1116.1 L2431.5 1114.0 L2432.8 1111.9 L2434.1 1110.1 L2435.4 1108.6 L2436.7 1106.8 L2438.0 1105.0 L2439.3 1103.1 L2440.6 1101.2 L2441.9 1100.3 L2443.2 1099.8 L2444.5 1098.6 L2445.8 1097.2 L2447.1 1095.6 L2448.4 1094.0 L2449.7 1092.4 L2450.0 1092.1 L2451.0 1090.8 L2452.3 1089.3 L2453.6 1087.8 L2454.9 1085.8 L2456.2 1083.6 L2457.5 1081.6 L2458.8 1079.8 L2460.1 1078.3 L2461.4 1077.0 L2462.7 1076.0 L2464.0 1075.3 L2465.0 1074.4 L2465.3 1074.0 L2466.6 1072.4 L2467.9 1071.9 L2469.2 1071.9 L2470.5 1071.1 L2471.8 1069.8 L2473.1 1068.9 L2474.4 1068.2 L2475.7 1068.0 L2477.0 1068.2 L2478.3 1067.7 L2479.6 1066.9 L2480.9 1066.2 L2482.2 1065.6 L2483.5 1065.5 L2484.0 1065.5 L2484.8 1065.6 L2486.1 1065.9 L2487.4 1066.1 L2488.7 1066.2 L2490.0 1066.1 L2491.3 1065.7 L2492.6 1065.1 L2493.9 1065.1 L2495.2 1065.2 L2496.5 1065.3 L2497.8 1065.3 L2499.1 1064.9 L2500.4 1064.4 L2501.7 1064.5 L2503.0 1064.7 L2504.3 1064.6 L2505.6 1064.4 L2506.9 1064.2 L2508.2 1064.0 L2509.5 1064.0 L2510.8 1063.9 L2512.1 1064.0 L2513.4 1064.1 L2514.7 1064.1 L2516.0 1064.1 L2517.3 1064.0 L2518.6 1063.8 L2519.9 1063.7 L2521.2 1063.7 L2522.5 1064.1 L2523.8 1064.5 L2524.0 1064.6 L2525.1 1064.5 L2526.4 1064.2 L2527.7 1064.3 L2529.0 1064.6 L2530.3 1064.7 L2531.6 1064.9 L2532.9 1064.9 L2534.2 1064.8 L2535.5 1065.2 L2536.8 1065.8 L2538.1 1065.4 L2539.4 1064.6 L2540.7 1064.8 L2542.0 1065.4 L2543.3 1065.4 L2544.6 1065.2 L2545.9 1065.7 L2547.2 1066.5 L2548.5 1066.9 L2549.8 1067.0 L2551.1 1066.4 L2552.4 1065.5 L2553.7 1065.5 L2555.0 1066.0 L2556.3 1066.6 L2557.6 1067.2 L2558.9 1067.6 L2560.2 1067.8 L2561.5 1068.0 L2562.8 1068.1 L2564.1 1068.1 L2565.4 1068.0 L2566.7 1068.2 L2568.0 1068.5 L2569.3 1068.8 L2570.6 1069.0 L2571.9 1069.0 L2573.2 1068.9 L2574.0 1069.1 L2574.5 1069.2 L2575.8 1069.7 L2577.1 1069.3 L2578.4 1068.4 L2579.7 1068.9 L2581.0 1069.9 L2582.3 1070.0 L2583.6 1069.7 L2584.9 1070.1 L2586.2 1070.9 L2587.5 1071.0 L2588.8 1070.9 L2590.1 1070.8 L2591.4 1070.8 L2592.7 1071.2 L2594.0 1071.7 L2595.3 1071.8 L2596.6 1071.6 L2597.9 1071.6 L2599.2 1071.8 L2600.5 1071.8 L2601.8 1071.8 L2603.1 1072.2 L2604.4 1072.8 L2605.7 1073.2 L2607.0 1073.5 L2608.3 1073.8 L2609.6 1074.0 L2610.9 1074.0 L2612.2 1073.7 L2613.5 1073.9 L2614.8 1074.4 L2616.1 1074.3 L2617.4 1074.0 L2618.7 1074.0 L2620.0 1073.9 L2621.0 1074.0 L2621.3 1074.1 L2622.6 1074.3 L2623.9 1074.4 L2625.2 1074.5 L2626.5 1074.2 L2627.8 1073.7 L2629.1 1073.5 L2630.4 1073.4 L2631.7 1073.3 L2633.0 1073.1 L2634.3 1073.0 L2635.6 1072.9 L2636.9 1072.5 L2638.2 1072.0 L2639.5 1072.1 L2640.8 1072.4 L2642.1 1072.1 L2643.4 1071.4 L2644.7 1071.1 L2646.0 1071.1 L2647.3 1070.6 L2648.6 1069.9 L2649.9 1069.6 L2651.2 1069.6 L2652.5 1069.4 L2653.0 1069.2 L2653.8 1068.9 L2655.1 1067.9 L2656.4 1066.5 L2657.7 1065.6 L2659.0 1064.8 L2660.3 1063.0 L2661.6 1060.8 L2662.9 1059.3 L2664.2 1058.1 L2665.5 1056.7 L2666.8 1055.4 L2668.0 1054.3 L2668.1 1054.2 L2669.4 1053.1 L2670.7 1052.4 L2672.0 1051.9 L2673.3 1051.6 L2674.6 1051.5 L2675.9 1051.3 L2677.0 1051.1 L2677.2 1051.3 L2678.5 1060.6 L2679.8 1075.1 L2680.0 1077.0 L2681.1 1088.6 L2682.4 1101.9 L2683.0 1105.8 L2683.7 1108.6 L2685.0 1112.7 L2686.3 1116.3 L2687.6 1119.8 L2688.9 1122.5 L2690.0 1124.9 L2690.2 1125.5 L2691.5 1130.5 L2692.8 1136.6 L2694.1 1141.9 L2695.4 1146.2 L2696.7 1149.3 L2698.0 1150.6 L2698.0 1150.6 L2699.3 1148.9 L2700.6 1144.8 L2701.9 1139.8 L2703.0 1136.1 L2703.2 1135.5 L2704.5 1131.2 L2705.8 1126.6 L2707.1 1122.4 L2708.4 1118.6 L2709.7 1115.7 L2710.0 1115.1 L2711.0 1113.4 L2712.3 1110.8 L2713.6 1108.0 L2714.9 1105.8 L2716.2 1103.8 L2717.5 1102.4 L2718.8 1101.3 L2720.1 1099.4 L2721.4 1097.3 L2722.7 1096.4 L2724.0 1096.4 L2725.0 1096.1 L2725.3 1096.6 L2726.6 1108.1 L2727.9 1124.5 L2728.0 1125.6 L2729.2 1137.9 L2730.5 1150.8 L2731.8 1162.3 L2733.0 1170.9 L2733.1 1171.5 L2734.4 1178.5 L2735.7 1184.6 L2737.0 1190.0 L2738.3 1195.1 L2739.6 1200.4 L2740.0 1202.1 L2740.9 1205.6 L2742.2 1211.4 L2743.5 1217.2 L2744.8 1221.6 L2746.0 1222.9 L2746.1 1222.8 L2747.4 1216.9 L2748.7 1206.2 L2750.0 1196.2 L2750.0 1196.2 L2751.3 1187.7 L2752.6 1178.9 L2753.9 1171.4 L2755.0 1166.3 L2755.2 1165.6 L2756.5 1160.5 L2757.8 1155.7 L2759.1 1151.9 L2760.4 1148.7 L2761.7 1144.5 L2763.0 1140.1 L2764.3 1136.9 L2765.0 1135.4 L2765.6 1134.2 L2766.9 1131.5 L2768.2 1128.8 L2769.5 1125.7 L2770.8 1122.5 L2772.1 1119.5 L2773.4 1116.8 L2774.7 1114.5 L2776.0 1112.4 L2777.0 1110.7 L2777.3 1110.1 L2778.6 1107.8 L2779.9 1106.2 L2781.2 1104.8 L2782.5 1103.7 L2783.8 1102.7 L2785.1 1101.0 L2786.4 1099.0 L2787.7 1096.9 L2789.0 1094.8 L2790.3 1093.2 L2791.6 1091.9 L2792.9 1090.7 L2794.2 1089.5 L2795.5 1088.5 L2796.8 1087.7 L2797.0 1087.5 L2798.1 1086.2 L2799.4 1084.4 L2800.7 1083.1 L2802.0 1082.0 L2803.3 1081.2 L2804.6 1080.5 L2805.9 1079.6 L2807.2 1078.5 L2808.5 1077.2 L2809.8 1075.9 L2811.1 1074.6 L2812.4 1073.4 L2813.7 1072.2 L2815.0 1071.2 L2816.3 1070.3 L2817.6 1069.6 L2818.9 1068.5 L2820.2 1067.1 L2821.5 1066.6 L2822.0 1066.6 L2822.8 1066.6 L2824.1 1065.6 L2825.4 1064.3 L2826.7 1063.4 L2828.0 1062.7 L2829.3 1062.1 L2830.6 1061.6 L2831.9 1060.6 L2833.2 1059.4 L2834.5 1057.9 L2835.8 1056.3 L2837.1 1055.7 L2838.4 1055.4 L2839.7 1054.9 L2841.0 1054.2 L2842.3 1053.2 L2843.6 1052.0 L2844.9 1051.2 L2846.2 1050.7 L2847.0 1050.5 L2847.5 1050.5 L2848.8 1050.3 L2850.1 1049.7 L2851.4 1048.9 L2852.7 1049.0 L2854.0 1049.6 L2855.3 1048.7 L2856.6 1047.3 L2857.9 1046.9 L2859.2 1047.0 L2860.5 1047.1 L2861.8 1047.1 L2863.1 1047.1 L2864.4 1047.0 L2865.7 1047.0 L2867.0 1047.1 L2867.0 1047.1 L2868.3 1047.1 L2869.6 1047.2 L2870.9 1047.1 L2872.2 1047.0 L2873.5 1047.3 L2874.8 1047.7 L2876.1 1047.2 L2877.4 1046.3 L2878.7 1046.5 L2880.0 1047.3 L2881.3 1047.4 L2882.6 1047.3 L2883.9 1047.5 L2885.2 1047.9 L2886.5 1048.1 L2887.8 1048.2 L2889.1 1048.1 L2890.4 1047.9 L2891.7 1048.0 L2893.0 1048.2 L2894.3 1048.6 L2895.6 1049.2 L2896.9 1049.4 L2897.0 1049.4 L2898.2 1049.4 L2899.5 1049.3 L2900.8 1049.2 L2902.1 1049.9 L2903.4 1051.0 L2904.7 1051.6 L2906.0 1051.9 L2907.3 1051.5 L2908.6 1050.7 L2909.9 1051.1 L2911.2 1051.9 L2912.5 1052.9 L2913.8 1053.9 L2915.1 1054.2 L2916.4 1054.0 L2917.7 1054.1 L2919.0 1054.3 L2920.3 1054.5 L2921.6 1054.8 L2922.9 1055.0 L2924.2 1055.3 L2925.5 1055.6 L2926.0 1055.8 L2926.8 1056.0 L2928.1 1056.3 L2929.4 1056.6 L2930.7 1057.2 L2932.0 1058.0 L2933.3 1058.3 L2934.6 1058.4 L2935.9 1058.7 L2937.2 1059.1 L2938.5 1059.3 L2939.8 1059.5 L2941.1 1060.1 L2942.4 1060.8 L2943.7 1061.2 L2945.0 1061.3 L2946.3 1061.7 L2947.6 1062.2 L2948.9 1062.9 L2950.2 1063.5 L2951.5 1063.8 L2952.8 1063.8 L2954.1 1063.9 L2955.4 1064.1 L2956.7 1064.2 L2958.0 1064.2 L2959.0 1064.2 L2959.3 1064.2 L2960.6 1064.1 L2961.9 1064.0 L2963.2 1063.9 L2964.5 1063.8 L2965.8 1063.7 L2967.1 1063.8 L2968.4 1064.1 L2969.7 1063.7 L2971.0 1063.0 L2972.3 1063.3 L2973.6 1063.9 L2974.9 1063.7 L2976.2 1063.2 L2977.5 1062.8 L2978.8 1062.4 L2980.1 1062.3 L2981.4 1062.2 L2982.7 1062.1 L2984.0 1061.9 L2985.3 1061.9 L2986.0 1061.9 L2986.6 1061.9 L2987.9 1061.6 L2989.2 1061.1 L2990.5 1061.1 L2991.8 1061.3 L2993.1 1060.7 L2994.4 1059.7 L2995.7 1058.8 L2997.0 1057.9 L2998.3 1057.6 L2999.6 1057.6 L3000.9 1057.0 L3002.2 1056.2 L3003.5 1056.0 L3004.8 1056.2 L3006.0 1056.2 L3006.1 1056.2 L3007.4 1056.1 L3008.7 1055.6 L3010.0 1054.9 L3011.3 1054.0 L3012.6 1053.0 L3013.9 1052.6 L3015.2 1052.5 L3016.0 1052.8 L3016.5 1056.4 L3017.8 1080.0 L3018.0 1082.9 L3019.1 1096.7 L3020.4 1112.1 L3021.7 1125.7 L3023.0 1136.0 L3023.0 1136.0 L3024.3 1144.0 L3025.6 1150.9 L3026.9 1157.0 L3028.2 1162.5 L3029.5 1167.1 L3030.8 1171.2 L3031.0 1171.8 L3032.1 1175.2 L3033.4 1179.1 L3034.7 1183.0 L3036.0 1186.8 L3037.3 1190.3 L3038.6 1193.5 L3039.9 1195.9 L3040.0 1196.1 L3041.2 1197.9 L3042.5 1199.9 L3043.8 1201.8 L3045.1 1204.0 L3046.4 1206.1 L3047.7 1207.8 L3049.0 1209.1 L3050.3 1210.8 L3051.6 1212.6 L3052.9 1214.2 L3054.2 1215.7 L3055.5 1217.6 L3056.8 1219.7 L3058.1 1220.6 L3059.4 1221.1 L3060.0 1221.5 L3060.7 1222.4 L3062.0 1224.1 L3063.3 1225.6 L3064.6 1227.0 L3065.9 1228.5 L3067.2 1230.0 L3068.5 1231.5 L3069.8 1233.0 L3071.1 1234.0 L3072.4 1234.8 L3073.7 1235.9 L3075.0 1237.0 L3076.3 1238.0 L3077.6 1239.0 L3078.9 1240.3 L3080.2 1241.7 L3081.0 1242.6 L3081.5 1243.2 L3082.8 1244.9 L3084.1 1246.3 L3085.4 1247.5 L3086.7 1248.7 L3088.0 1249.8 L3089.3 1251.1 L3090.6 1252.5 L3091.9 1253.7 L3093.2 1254.7 L3094.5 1255.6 L3095.8 1256.1 L3097.0 1256.1 L3097.1 1256.0 L3098.4 1248.7 L3099.7 1237.0 L3100.0 1234.7 L3101.0 1227.9 L3102.0 1220.6 L3102.3 1218.3 L3103.6 1207.6 L3104.9 1196.9 L3106.2 1186.9 L3107.5 1178.7 L3108.0 1176.2 L3108.8 1172.6 L3110.1 1165.9 L3111.4 1159.0 L3112.7 1153.9 L3114.0 1149.7 L3115.3 1145.8 L3116.6 1142.2 L3117.0 1141.1 L3117.9 1138.7 L3119.2 1135.4 L3120.5 1132.3 L3121.8 1129.4 L3123.1 1127.0 L3124.4 1124.8 L3125.7 1122.6 L3127.0 1120.5 L3128.3 1118.5 L3129.6 1116.5 L3130.0 1116.0 L3130.9 1114.3 L3132.2 1112.0 L3133.5 1110.5 L3134.8 1109.3 L3136.1 1107.8 L3137.4 1106.0 L3138.7 1104.5 L3140.0 1103.2 L3141.3 1102.0 L3142.6 1100.9 L3143.9 1099.8 L3145.2 1098.6 L3146.5 1097.5 L3147.8 1096.4 L3149.1 1095.0 L3150.0 1094.0 L3150.4 1093.5 L3151.7 1092.6 L3153.0 1092.0 L3154.3 1091.1 L3155.6 1090.2 L3156.9 1089.3 L3158.2 1088.3 L3159.5 1087.5 L3160.8 1086.6 L3162.1 1085.5 L3163.4 1084.2 L3164.7 1083.2 L3166.0 1082.3 L3167.3 1081.7 L3168.6 1081.2 L3169.9 1080.1 L3171.2 1078.6 L3172.5 1078.0 L3173.8 1077.7 L3175.0 1077.0 L3175.1 1076.9 L3176.4 1075.9 L3177.7 1075.1 L3179.0 1074.4 L3180.3 1073.4 L3181.6 1072.3 L3182.9 1071.6 L3184.2 1071.1 L3185.5 1070.6 L3186.8 1070.2 L3188.1 1069.7 L3189.4 1069.3 L3190.7 1068.8 L3192.0 1068.1 L3193.3 1067.2 L3194.6 1066.3 L3195.9 1065.5 L3197.2 1064.9 L3198.5 1064.1 L3199.8 1063.3 L3201.1 1063.0 L3202.4 1062.8 L3203.7 1062.2 L3204.0 1062.1 L3205.0 1061.5 L3206.3 1061.1 L3207.6 1060.8 L3208.9 1060.6 L3210.2 1060.5 L3211.5 1059.7 L3212.8 1058.6 L3214.1 1057.7 L3215.4 1056.7 L3216.7 1056.2 L3218.0 1055.9 L3219.3 1055.4 L3220.6 1054.8 L3221.9 1054.3 L3223.2 1053.9 L3224.5 1054.0 L3225.8 1054.3 L3227.1 1053.9 L3228.4 1053.2 L3229.7 1052.3 L3231.0 1051.4 L3232.3 1051.3 L3233.6 1051.6 L3234.9 1051.6 L3236.2 1051.4 L3237.5 1050.8 L3238.8 1050.0 L3240.1 1049.5 L3241.4 1049.1 L3242.7 1048.9 L3244.0 1048.8 L3244.0 1048.8 L3245.3 1048.7 L3246.6 1048.6 L3247.9 1048.5 L3249.2 1048.4 L3250.5 1048.3 L3251.8 1048.3 L3253.1 1048.1 L3254.4 1047.9 L3255.7 1047.6 L3257.0 1047.4 L3258.3 1047.2 L3259.6 1047.1 L3260.9 1046.7 L3262.2 1046.3 L3263.5 1045.6 L3264.8 1044.8 L3266.1 1044.7 L3267.4 1044.9 L3268.7 1045.0 L3270.0 1045.0 L3271.3 1044.7 L3272.6 1044.4 L3273.9 1044.5 L3275.2 1044.8 L3276.5 1044.5 L3277.8 1044.1 L3279.1 1043.8 L3280.4 1043.6 L3281.7 1044.0 L3283.0 1044.7 L3284.0 1044.8 L3284.3 1044.7 L3285.6 1044.5 L3286.9 1044.3 L3288.2 1044.2 L3289.5 1044.3 L3290.8 1044.5 L3292.1 1044.6 L3293.4 1044.6 L3294.7 1044.5 L3296.0 1044.3 L3297.3 1043.6 L3298.6 1042.8 L3299.9 1042.9 L3301.2 1043.4 L3302.5 1043.6 L3303.8 1043.7 L3305.1 1043.6 L3306.4 1043.5 L3307.7 1043.7 L3309.0 1044.0 L3310.3 1044.3 L3311.6 1044.6 L3312.9 1044.4 L3314.0 1043.9"/>
<path class="c" stroke="#808000" d="M61.6 1040.0 L61.6 1040.0 L62.5 1064.0 L62.9 1065.9 L64.2 1078.7 L64.5 1081.0 L65.5 1088.3 L66.8 1095.8 L67.0 1098.0 L68.1 1093.6 L69.4 1085.8 L70.5 1081.0 L70.7 1080.7 L72.0 1087.6 L73.3 1093.9 L74.0 1096.0 L74.6 1096.7 L75.9 1101.0 L77.2 1103.7 L77.7 1105.0 L78.5 1110.8 L79.8 1110.5 L81.0 1115.0 L81.1 1117.0 L82.4 1119.8 L83.7 1124.3 L85.0 1129.9 L85.0 1129.0 L86.3 1133.3 L87.6 1137.0 L88.9 1139.1 L90.2 1141.3 L91.0 1144.0 L91.5 1144.5 L92.8 1148.8 L94.1 1151.9 L95.4 1155.9 L96.7 1157.8 L97.0 1158.0 L98.0 1162.3 L99.3 1166.7 L100.6 1169.0 L101.9 1170.9 L102.0 1173.0 L103.2 1177.4 L104.5 1184.7 L105.8 1184.2 L106.7 1197.0 L107.1 1198.0 L108.4 1203.3 L109.7 1205.7 L111.0 1207.6 L111.5 1209.0 L112.3 1210.7 L113.6 1214.2 L114.9 1217.4 L116.2 1219.7 L117.5 1223.5 L117.5 1223.5 L118.8 1227.1 L120.1 1224.8 L121.4 1228.8 L122.7 1229.0 L124.0 1232.0 L125.3 1234.4 L126.6 1235.0 L127.0 1235.6 L127.9 1237.2 L129.2 1235.4 L130.5 1239.6 L131.8 1238.5 L133.1 1241.0 L134.4 1241.4 L135.7 1239.1 L136.8 1243.0 L137.0 1242.4 L138.3 1245.5 L139.6 1248.9 L140.9 1249.3 L142.2 1251.2 L143.5 1251.1 L144.8 1256.4 L146.1 1258.7 L146.4 1257.0 L147.4 1258.6 L148.7 1260.3 L150.0 1260.7 L151.3 1265.7 L152.6 1269.9 L153.9 1269.6 L155.2 1272.3 L156.0 1272.0 L156.5 1273.3 L157.8 1273.0 L159.1 1277.4 L160.4 1276.0 L161.7 1278.8 L163.0 1281.0 L164.3 1283.3 L165.6 1284.4 L165.7 1284.0 L166.9 1285.5 L168.2 1285.2 L169.5 1285.7 L170.8 1288.4 L172.1 1288.5 L173.4 1288.9 L174.0 1291.0 L174.7 1291.9 L176.0 1297.2 L177.3 1300.0 L178.6 1305.0 L179.0 1308.0 L179.9 1306.0 L181.2 1308.2 L182.5 1308.5 L183.8 1310.4 L183.8 1308.0 L185.1 1283.2 L186.0 1269.0 L186.4 1265.8 L187.7 1259.9 L189.0 1250.7 L190.0 1245.0 L190.3 1240.9 L191.6 1227.4 L192.9 1209.0 L193.5 1202.0 L194.2 1197.6 L195.5 1191.8 L196.8 1188.3 L197.0 1187.0 L198.1 1186.5 L199.4 1183.4 L199.5 1185.0 L200.7 1192.9 L202.0 1204.6 L202.0 1204.0 L203.3 1206.8 L204.6 1207.4 L205.9 1211.0 L206.7 1211.5 L207.2 1216.8 L208.0 1223.5 L208.5 1221.0 L209.8 1221.8 L211.1 1221.8 L211.5 1221.0 L212.4 1207.4 L213.7 1186.8 L214.0 1185.0 L215.0 1171.6 L216.3 1155.8 L216.4 1153.6 L217.6 1141.0 L218.8 1124.7 L218.9 1121.1 L220.2 1113.8 L221.5 1096.2 L222.4 1088.5 L222.8 1088.6 L224.1 1083.7 L225.4 1078.1 L226.7 1072.0 L227.2 1071.6 L228.0 1068.0 L229.3 1059.3 L230.6 1050.1 L230.8 1052.0 L231.9 1048.1 L233.2 1036.8 L234.4 1028.0 L234.5 1030.0 L235.8 1024.2 L237.1 1024.5 L238.0 1021.0 L238.4 1019.7 L239.7 1009.1 L240.6 1000.0 L241.0 995.5 L242.3 979.7 L243.6 966.6 L243.7 965.7 L244.9 951.0 L246.2 938.5 L246.8 934.5 L247.5 928.4 L248.8 915.5 L250.0 906.0 L250.1 905.7 L251.4 904.7 L252.7 906.1 L253.7 903.0 L254.0 897.2 L255.3 863.8 L255.6 856.5 L256.6 847.6 L257.7 834.7 L257.9 834.2 L259.2 835.2 L260.5 832.1 L261.8 832.7 L263.1 830.9 L264.4 832.1 L265.5 831.5 L265.7 834.8 L267.0 840.9 L268.3 850.9 L268.7 853.4 L269.6 831.7 L270.2 819.0 L270.9 808.5 L272.2 791.4 L273.3 778.5 L273.5 775.2 L274.8 743.4 L274.9 738.0 L276.1 737.8 L277.4 735.4 L278.7 736.3 L279.6 734.8 L280.0 738.4 L281.3 752.6 L281.8 756.6 L282.6 747.3 L283.6 734.8 L283.9 730.4 L285.2 710.5 L285.8 700.4 L286.5 686.9 L287.8 663.2 L288.0 660.0 L289.1 657.1 L290.4 657.5 L291.7 655.3 L292.0 656.8 L293.0 641.7 L294.3 621.3 L294.3 622.4 L295.6 604.6 L296.8 588.0 L296.9 588.5 L298.2 585.2 L299.5 584.8 L300.5 585.0 L300.8 586.5 L302.1 599.8 L303.0 606.8 L303.4 608.2 L304.7 608.1 L306.0 611.6 L307.3 609.3 L307.7 611.5 L308.6 623.7 L309.9 636.2 L310.8 647.4 L311.2 654.8 L312.5 696.4 L313.0 706.7 L313.8 706.1 L315.1 698.9 L316.0 697.3 L316.4 690.8 L317.7 668.5 L318.6 653.6 L319.0 655.3 L320.3 658.6 L321.6 664.8 L321.7 666.0 L322.9 666.6 L324.2 666.3 L325.5 667.4 L326.8 666.1 L328.0 666.0 L328.1 669.4 L329.4 673.9 L330.7 683.2 L331.0 684.8 L332.0 690.3 L333.3 701.3 L334.2 709.8 L334.6 702.4 L335.9 712.0 L337.2 714.4 L338.5 715.4 L338.9 716.0 L339.8 719.0 L341.1 725.7 L342.4 723.6 L343.6 738.0 L343.7 738.8 L345.0 750.0 L346.3 759.0 L346.7 762.9 L347.6 766.2 L348.9 770.1 L350.2 775.8 L351.4 778.5 L351.5 782.7 L352.8 793.6 L354.1 805.6 L354.5 809.7 L355.4 800.9 L356.7 824.3 L358.0 834.7 L359.2 840.9 L359.3 840.6 L360.6 851.0 L361.9 862.2 L362.3 865.9 L363.2 876.2 L364.5 893.1 L365.4 903.0 L365.8 910.4 L367.0 934.5 L367.1 936.3 L368.4 962.2 L368.5 965.7 L369.7 979.7 L371.0 991.3 L371.0 990.7 L372.3 998.3 L373.2 1000.0 L373.6 1005.8 L374.9 1022.5 L376.2 1036.3 L376.7 1042.7 L377.5 1036.7 L378.8 1052.0 L380.1 1052.3 L381.4 1063.6 L381.5 1064.0 L382.7 1076.9 L384.0 1087.1 L385.0 1095.7 L385.3 1098.9 L386.6 1109.4 L387.9 1117.0 L388.8 1124.7 L389.2 1129.9 L390.5 1143.4 L391.8 1158.8 L391.9 1160.8 L393.1 1175.0 L394.4 1191.8 L394.8 1197.0 L395.7 1206.2 L397.0 1219.6 L397.2 1221.0 L398.3 1232.6 L399.6 1252.4 L399.6 1250.0 L400.9 1268.2 L402.0 1281.0 L402.2 1283.9 L403.5 1295.9 L404.4 1305.5 L404.8 1309.0 L406.0 1320.0 L406.1 1321.8 L406.3 1323.3 L407.4 1333.7 L408.7 1342.9 L410.0 1357.6 L410.0 1356.7 L411.3 1371.1 L412.6 1376.1 L413.9 1390.4 L414.0 1390.0 L415.2 1405.3 L416.5 1420.7 L416.7 1423.3 L417.8 1432.1 L419.1 1437.3 L419.3 1440.0 L420.4 1442.0 L421.7 1445.8 L423.0 1446.0 L423.3 1446.7 L424.3 1444.5 L425.6 1443.0 L426.9 1440.1 L427.3 1440.0 L428.2 1449.7 L429.5 1457.9 L430.0 1463.3 L430.8 1453.0 L432.1 1432.0 L432.7 1425.0 L433.4 1426.2 L434.7 1425.9 L436.0 1423.5 L436.0 1426.7 L437.3 1455.0 L438.3 1476.7 L438.6 1476.0 L439.9 1479.5 L440.7 1481.7 L441.2 1479.4 L442.5 1465.3 L443.3 1460.0 L443.8 1458.7 L445.1 1461.8 L446.0 1460.0 L446.4 1465.4 L447.7 1484.1 L448.3 1490.0 L449.0 1505.5 L450.0 1526.7 L450.3 1525.2 L451.6 1524.6 L452.7 1523.3 L452.9 1522.2 L454.2 1504.9 L455.0 1493.3 L455.5 1493.0 L456.8 1492.1 L457.3 1491.7 L458.1 1504.2 L459.3 1523.3 L459.4 1524.0 L460.7 1545.2 L461.7 1556.7 L462.0 1563.0 L463.3 1588.6 L463.3 1590.0 L464.6 1594.5 L465.9 1601.1 L466.7 1603.3 L467.2 1606.1 L468.5 1610.4 L469.8 1615.1 L470.0 1616.7 L471.1 1615.6 L472.4 1612.2 L473.3 1613.3 L473.7 1611.2 L475.0 1612.2 L476.3 1609.0 L477.3 1608.3 L477.6 1609.8 L478.9 1615.3 L480.2 1619.1 L480.7 1620.0 L481.5 1626.2 L482.8 1638.8 L483.3 1640.0 L484.1 1641.3 L485.4 1640.9 L486.0 1641.7 L486.7 1636.0 L488.0 1623.3 L488.3 1620.0 L489.3 1613.1 L490.0 1610.0 L490.6 1611.0 L491.9 1612.7 L493.2 1612.4 L493.3 1615.0 L494.5 1617.7 L495.8 1620.8 L496.7 1623.3 L497.1 1626.9 L498.4 1638.7 L499.3 1650.0 L499.7 1652.9 L501.0 1664.1 L501.7 1670.0 L502.3 1671.3 L503.6 1672.5 L504.9 1677.3 L505.0 1676.7 L506.2 1690.9 L507.3 1706.7 L507.5 1706.4 L508.8 1708.3 L509.3 1706.7 L510.1 1698.6 L511.4 1687.1 L511.7 1685.0 L512.7 1703.0 L514.0 1722.8 L514.0 1723.3 L515.3 1735.8 L516.6 1749.3 L516.7 1750.0 L517.9 1752.6 L518.3 1751.7 L519.2 1738.3 L520.5 1724.6 L520.7 1723.3 L521.8 1710.8 L523.1 1697.4 L523.3 1696.7 L524.4 1669.8 L525.0 1656.7 L525.7 1637.8 L526.7 1613.3 L527.0 1613.5 L528.3 1611.2 L529.3 1611.7 L529.6 1615.8 L530.7 1630.0 L530.9 1626.5 L532.2 1599.1 L532.7 1590.0 L533.5 1567.6 L534.0 1553.3 L534.8 1550.5 L536.1 1541.0 L537.3 1533.3 L537.4 1530.4 L538.7 1502.9 L539.3 1490.0 L540.0 1479.2 L541.3 1462.6 L541.7 1456.7 L542.6 1439.0 L543.3 1423.3 L543.9 1414.9 L545.2 1399.6 L546.0 1390.0 L546.5 1384.1 L547.8 1363.3 L548.3 1356.7 L549.1 1345.8 L550.4 1326.2 L550.7 1323.3 L551.7 1311.6 L553.0 1298.0 L553.8 1290.0 L554.3 1283.5 L555.6 1256.8 L556.5 1241.0 L556.9 1233.7 L558.2 1212.0 L559.5 1190.8 L559.8 1186.0 L560.8 1174.0 L562.1 1156.9 L562.7 1149.0 L563.4 1144.5 L564.7 1129.3 L566.0 1117.7 L566.4 1112.0 L567.3 1103.3 L568.6 1090.7 L569.9 1075.3 L570.1 1075.0 L571.2 1063.8 L572.5 1050.9 L573.8 1037.7 L573.8 1038.0 L575.1 1022.6 L576.4 1013.3 L577.5 1001.4 L577.7 999.6 L579.0 990.8 L580.3 982.3 L581.6 973.6 L581.9 971.9 L582.9 964.4 L584.2 952.0 L585.5 942.1 L585.6 942.4 L586.8 947.8 L588.1 925.1 L589.4 928.6 L590.4 909.2 L590.7 906.5 L592.0 893.8 L593.3 883.1 L594.1 876.0 L594.6 872.9 L595.9 858.5 L597.2 849.9 L597.8 842.7 L598.5 837.4 L599.8 824.2 L601.1 814.0 L601.5 809.5 L602.4 804.0 L603.7 798.3 L603.8 800.0 L604.7 751.8 L605.0 748.0 L606.3 739.3 L607.6 729.6 L608.1 726.2 L608.9 713.4 L610.2 694.4 L610.9 683.7 L611.5 659.2 L612.3 632.6 L612.8 630.3 L614.1 620.3 L615.2 615.6 L615.4 612.8 L616.6 601.4 L616.7 601.5 L618.0 608.3 L619.3 615.8 L620.6 624.0 L620.9 627.0 L621.7 584.4 L621.9 583.9 L623.2 581.4 L624.5 578.1 L625.1 575.9 L625.8 566.2 L627.1 550.6 L627.9 541.8 L628.4 535.3 L629.7 523.0 L630.8 510.6 L631.0 506.7 L632.3 500.8 L633.6 489.0 L634.2 485.1 L634.9 471.9 L635.9 455.3 L636.2 455.9 L637.5 457.3 L638.7 456.7 L638.8 458.1 L640.1 471.9 L640.7 476.6 L641.4 475.3 L642.7 474.0 L643.5 470.9 L644.0 463.2 L645.3 437.6 L645.5 434.0 L646.6 461.5 L647.8 487.9 L647.9 487.8 L649.2 483.4 L650.5 477.8 L651.2 476.6 L651.8 466.7 L653.1 447.1 L654.3 427.0 L654.4 425.4 L655.7 428.1 L657.0 428.1 L657.7 427.8 L658.3 458.8 L659.1 499.3 L659.6 490.6 L660.9 477.3 L662.2 462.3 L662.6 456.7 L663.5 470.9 L664.8 493.7 L664.8 493.6 L666.1 483.8 L667.4 480.4 L667.7 478.0 L668.7 484.8 L670.0 496.5 L670.5 499.3 L671.3 493.0 L672.6 489.5 L673.3 485.1 L673.9 496.7 L675.2 523.6 L675.6 530.5 L676.5 526.2 L677.8 521.9 L679.1 520.8 L679.6 516.3 L680.4 524.6 L681.7 539.8 L681.8 541.8 L683.0 544.6 L684.3 547.2 L685.6 553.3 L686.1 553.2 L686.9 557.9 L688.2 559.3 L689.5 562.4 L690.4 567.4 L690.8 570.4 L692.1 575.6 L693.4 580.5 L694.6 584.4 L694.7 586.5 L696.0 593.3 L697.3 603.4 L697.4 604.3 L698.6 612.0 L699.9 622.2 L700.3 627.0 L701.2 637.3 L702.5 648.4 L703.1 655.3 L703.8 664.9 L705.1 675.0 L706.0 683.7 L706.4 687.0 L707.7 701.9 L708.8 712.1 L709.0 716.3 L710.3 727.8 L711.6 738.9 L711.6 740.4 L712.9 759.3 L713.6 768.8 L714.2 774.9 L715.5 782.4 L715.5 783.0 L716.8 796.8 L717.0 800.0 L717.7 816.9 L718.1 826.6 L719.4 853.3 L720.3 872.3 L720.7 852.3 L722.0 891.9 L723.3 884.0 L724.6 921.8 L725.1 927.6 L725.9 934.9 L727.2 941.2 L728.5 942.3 L729.8 962.3 L730.6 968.2 L731.1 969.2 L732.4 970.9 L733.7 970.1 L735.0 970.8 L735.0 971.9 L736.1 1008.8 L736.3 955.1 L737.6 1013.4 L738.9 1014.8 L740.2 1022.6 L740.9 1023.5 L741.5 1034.6 L742.8 1060.9 L743.5 1075.2 L744.1 1075.3 L745.4 1079.3 L746.7 1083.4 L747.2 1086.3 L748.0 1105.6 L749.0 1130.6 L749.3 1136.9 L750.6 1158.9 L750.9 1167.5 L751.9 1182.6 L753.2 1198.7 L753.5 1204.4 L754.5 1211.1 L755.8 1223.6 L757.1 1233.0 L757.2 1233.9 L758.4 1239.7 L759.7 1252.1 L760.1 1252.4 L761.0 1257.6 L762.3 1268.0 L763.6 1277.0 L763.8 1278.2 L764.9 1289.4 L766.2 1298.3 L766.8 1304.0 L767.5 1306.4 L768.8 1306.4 L770.1 1310.8 L771.0 1311.0 L771.4 1305.7 L772.7 1291.9 L774.0 1280.3 L774.0 1278.0 L775.3 1263.0 L776.6 1247.3 L776.7 1246.0 L777.9 1251.9 L779.2 1253.2 L780.4 1256.0 L780.5 1256.3 L781.8 1275.2 L783.0 1290.0 L783.1 1293.6 L784.4 1361.4 L784.5 1365.0 L785.7 1365.1 L787.0 1361.5 L788.0 1361.0 L788.3 1357.1 L789.6 1344.7 L790.9 1331.1 L791.0 1330.0 L792.2 1346.4 L793.5 1367.3 L794.0 1374.0 L794.8 1378.6 L796.1 1387.1 L797.4 1394.3 L798.7 1403.9 L799.0 1406.0 L800.0 1404.9 L801.3 1403.6 L802.6 1403.4 L803.9 1404.8 L805.0 1404.0 L805.2 1401.9 L806.5 1402.9 L807.8 1390.6 L809.1 1386.2 L810.0 1380.0 L810.4 1379.8 L811.7 1379.5 L813.0 1382.7 L814.0 1382.0 L814.3 1387.6 L815.6 1411.3 L816.0 1417.0 L816.9 1430.7 L818.2 1452.0 L819.5 1471.4 L820.0 1478.0 L820.8 1479.7 L822.1 1480.7 L823.4 1481.9 L824.0 1482.0 L824.7 1483.2 L826.0 1484.8 L827.3 1487.3 L828.0 1487.0 L828.6 1491.6 L829.9 1505.5 L831.0 1513.0 L831.2 1512.3 L832.5 1523.2 L833.8 1529.5 L835.1 1528.1 L836.4 1545.4 L837.0 1549.0 L837.7 1531.7 L839.0 1503.1 L839.0 1504.0 L840.3 1493.5 L841.6 1486.4 L842.9 1474.0 L843.0 1473.0 L844.2 1476.8 L845.5 1477.4 L846.8 1482.0 L847.0 1482.0 L848.1 1511.4 L849.0 1534.0 L849.4 1528.7 L850.7 1501.4 L852.0 1478.7 L852.0 1478.0 L853.3 1472.5 L854.0 1469.0 L854.6 1488.8 L855.9 1535.5 L856.0 1539.0 L857.2 1547.7 L858.5 1555.0 L859.8 1568.2 L860.0 1569.0 L861.1 1572.3 L862.4 1574.2 L863.7 1576.3 L865.0 1582.8 L865.0 1581.0 L866.3 1577.4 L867.6 1574.4 L868.9 1571.0 L869.0 1569.0 L870.2 1563.7 L871.5 1555.9 L872.8 1549.2 L874.0 1543.0 L874.1 1543.0 L875.4 1524.9 L876.7 1507.7 L877.0 1504.0 L878.0 1489.0 L879.3 1470.7 L880.0 1460.0 L880.6 1450.3 L881.9 1432.2 L883.0 1417.0 L883.2 1414.3 L884.5 1396.8 L885.8 1380.5 L887.0 1365.0 L887.1 1362.4 L888.4 1341.3 L889.7 1316.2 L890.0 1309.0 L891.0 1291.9 L892.3 1268.3 L893.0 1256.0 L893.6 1249.7 L894.9 1255.7 L896.2 1220.2 L897.5 1207.3 L898.0 1200.0 L898.3 1221.0 L898.8 1208.1 L900.1 1177.3 L901.4 1140.3 L902.0 1126.0 L902.7 1146.5 L904.0 1096.3 L905.3 1095.0 L906.6 1057.8 L907.9 1039.6 L908.0 1037.0 L909.2 1023.7 L910.5 1010.3 L911.8 998.9 L913.1 985.2 L914.0 977.0 L914.4 973.2 L915.7 966.3 L917.0 954.7 L918.3 945.9 L919.6 935.5 L920.9 935.1 L922.0 918.0 L922.2 916.8 L923.5 921.3 L924.8 900.5 L926.1 900.8 L927.4 884.3 L928.7 876.8 L930.0 867.8 L930.0 868.0 L931.3 872.3 L932.6 850.1 L933.9 848.8 L935.2 832.3 L936.5 834.0 L937.8 814.4 L938.0 813.0 L939.1 800.7 L940.4 788.7 L941.7 776.6 L943.0 762.3 L944.3 769.2 L945.0 744.0 L945.6 738.5 L946.9 727.3 L948.2 732.8 L949.5 702.8 L950.8 689.8 L951.0 689.0 L952.1 675.0 L953.4 654.6 L954.0 645.0 L954.7 633.9 L956.0 617.0 L957.0 603.0 L957.3 602.4 L958.6 598.5 L959.9 596.4 L961.2 586.8 L962.5 582.1 L963.8 580.0 L964.0 576.0 L965.1 567.9 L966.4 555.5 L967.7 547.4 L968.0 546.0 L969.0 529.5 L970.3 506.2 L971.0 496.0 L971.6 492.1 L972.9 486.5 L974.2 481.2 L975.0 477.0 L975.5 460.6 L976.8 417.4 L977.0 412.0 L978.1 411.6 L979.4 408.4 L980.7 406.8 L981.0 407.0 L982.0 407.0 L983.3 390.0 L984.6 378.4 L985.9 384.5 L986.0 370.0 L986.3 442.0 L987.2 433.8 L988.5 422.3 L989.8 426.6 L991.1 398.4 L992.4 386.8 L993.7 373.5 L994.0 372.0 L995.0 373.0 L996.3 373.7 L997.6 371.8 L998.9 372.7 L1000.0 371.0 L1000.2 384.5 L1001.0 442.0 L1001.5 437.8 L1002.8 425.0 L1004.1 417.5 L1005.4 403.4 L1006.0 400.0 L1006.7 400.7 L1008.0 399.9 L1009.3 398.3 L1010.6 402.5 L1011.9 402.2 L1012.0 402.0 L1013.2 420.0 L1014.5 443.3 L1015.8 461.1 L1016.0 464.0 L1017.1 458.7 L1018.4 453.2 L1019.7 449.7 L1021.0 443.5 L1021.0 444.0 L1022.3 453.0 L1023.6 460.6 L1024.9 457.6 L1026.2 475.9 L1027.5 486.2 L1028.0 487.0 L1028.8 490.6 L1030.1 496.8 L1031.4 494.7 L1032.7 509.9 L1034.0 516.3 L1035.3 521.7 L1036.0 526.0 L1036.6 529.6 L1037.9 537.2 L1039.2 543.9 L1040.5 541.0 L1041.8 559.8 L1042.0 561.0 L1043.1 585.2 L1044.0 601.0 L1044.4 604.6 L1045.7 607.8 L1047.0 615.1 L1048.3 618.3 L1049.6 626.3 L1050.9 625.7 L1051.0 631.0 L1052.2 644.9 L1053.5 637.6 L1054.8 675.1 L1056.0 689.0 L1056.1 692.7 L1057.4 703.2 L1058.7 721.2 L1060.0 736.6 L1061.0 749.0 L1061.3 753.3 L1062.6 767.8 L1063.9 783.8 L1065.2 798.7 L1066.0 808.0 L1066.5 812.7 L1067.8 827.3 L1069.1 845.3 L1070.4 858.4 L1071.7 875.1 L1072.0 878.0 L1073.0 889.2 L1074.3 902.2 L1075.6 903.0 L1076.9 931.1 L1078.0 943.0 L1078.2 945.5 L1079.5 936.8 L1080.8 975.2 L1082.1 986.8 L1083.4 1003.4 L1084.0 1012.0 L1084.7 1022.6 L1086.0 1015.3 L1087.3 1047.7 L1088.6 1062.3 L1089.9 1077.5 L1090.0 1077.0 L1091.2 1068.8 L1092.5 1101.6 L1093.8 1114.8 L1095.1 1128.1 L1096.4 1139.2 L1097.0 1146.0 L1097.7 1150.0 L1099.0 1156.1 L1100.3 1166.0 L1101.6 1173.4 L1102.9 1173.2 L1103.0 1181.0 L1104.0 1200.0 L1104.2 1201.2 L1105.5 1209.7 L1106.8 1209.9 L1108.1 1224.6 L1109.0 1230.0 L1109.4 1231.2 L1110.7 1235.9 L1112.0 1239.8 L1113.3 1243.5 L1114.6 1250.1 L1115.0 1252.0 L1115.9 1247.3 L1117.2 1263.4 L1118.5 1271.9 L1119.8 1267.4 L1120.0 1278.0 L1121.1 1281.3 L1122.4 1284.3 L1123.7 1288.2 L1125.0 1291.6 L1125.0 1293.0 L1126.3 1298.7 L1127.6 1302.7 L1128.9 1309.1 L1130.0 1315.0 L1130.2 1317.6 L1131.5 1318.5 L1132.8 1319.8 L1134.1 1320.6 L1135.4 1323.2 L1136.0 1326.0 L1136.7 1326.1 L1138.0 1332.9 L1139.3 1335.0 L1140.6 1339.9 L1141.0 1341.0 L1141.9 1336.0 L1143.2 1330.7 L1144.5 1326.1 L1145.0 1322.0 L1145.8 1320.2 L1147.1 1319.0 L1148.4 1316.8 L1149.0 1317.0 L1149.7 1321.1 L1151.0 1324.4 L1152.3 1329.8 L1153.6 1340.3 L1154.0 1339.0 L1154.9 1345.7 L1156.2 1359.4 L1157.5 1369.9 L1158.0 1374.0 L1158.8 1377.9 L1160.1 1387.3 L1161.4 1395.8 L1162.0 1400.0 L1162.7 1402.1 L1164.0 1410.8 L1165.3 1411.7 L1166.0 1417.0 L1166.6 1416.1 L1167.9 1413.1 L1169.2 1409.1 L1170.0 1408.0 L1170.5 1414.7 L1171.8 1432.5 L1172.0 1434.0 L1173.1 1437.4 L1174.4 1441.1 L1175.7 1441.2 L1177.0 1448.8 L1177.0 1447.0 L1178.3 1453.1 L1179.6 1454.9 L1180.9 1458.4 L1182.0 1460.0 L1182.2 1456.0 L1183.5 1442.9 L1184.8 1427.3 L1185.0 1426.0 L1186.1 1409.9 L1187.0 1398.0 L1187.4 1408.9 L1188.7 1398.7 L1190.0 1399.0 L1191.3 1397.4 L1192.0 1400.0 L1192.6 1415.4 L1193.9 1449.5 L1194.0 1452.0 L1195.2 1468.4 L1196.5 1487.0 L1197.0 1495.0 L1197.8 1502.1 L1199.1 1506.1 L1200.0 1513.0 L1200.4 1512.4 L1201.7 1515.0 L1203.0 1519.7 L1204.0 1520.0 L1204.3 1521.8 L1205.6 1516.4 L1206.9 1511.9 L1208.0 1510.0 L1208.2 1509.2 L1209.5 1509.0 L1210.8 1504.7 L1212.0 1504.0 L1212.1 1505.6 L1213.4 1503.6 L1214.7 1500.0 L1216.0 1498.8 L1217.3 1496.9 L1218.0 1495.0 L1218.6 1494.3 L1219.9 1485.7 L1221.2 1482.8 L1222.0 1478.0 L1222.5 1471.7 L1223.8 1456.1 L1225.0 1443.0 L1225.1 1442.1 L1226.4 1429.1 L1227.7 1415.5 L1229.0 1402.1 L1229.0 1404.0 L1230.3 1380.3 L1231.6 1360.7 L1232.0 1352.0 L1232.9 1337.6 L1234.2 1311.7 L1235.0 1296.0 L1235.5 1290.8 L1236.8 1271.4 L1238.0 1256.0 L1238.1 1254.5 L1239.4 1236.7 L1240.7 1216.9 L1242.0 1198.8 L1242.0 1200.0 L1243.0 1161.0 L1243.3 1156.6 L1244.6 1136.6 L1245.9 1116.2 L1247.0 1101.0 L1247.2 1114.0 L1248.5 1083.3 L1249.8 1068.0 L1251.1 1052.8 L1252.0 1042.0 L1252.4 1038.2 L1253.7 1044.7 L1255.0 1019.5 L1256.3 1011.3 L1257.6 999.5 L1258.0 997.0 L1258.9 988.4 L1260.2 991.9 L1261.5 962.6 L1262.8 960.2 L1264.0 938.0 L1264.1 937.1 L1265.4 926.6 L1266.7 912.2 L1268.0 900.0 L1269.3 888.5 L1270.6 876.3 L1271.0 873.0 L1271.9 876.9 L1273.2 852.9 L1274.5 841.0 L1275.8 846.9 L1277.1 817.2 L1278.0 809.0 L1278.4 816.5 L1279.7 784.9 L1281.0 764.2 L1282.3 777.1 L1283.6 729.7 L1284.0 724.0 L1284.9 714.5 L1286.2 715.2 L1287.5 689.0 L1288.8 675.3 L1289.0 674.0 L1290.1 664.9 L1291.4 658.0 L1292.7 647.2 L1293.0 645.0 L1294.0 619.8 L1295.3 584.1 L1296.0 566.0 L1296.6 579.5 L1297.9 539.4 L1299.2 548.3 L1300.5 503.0 L1301.0 496.0 L1301.8 480.6 L1303.1 459.8 L1304.4 433.8 L1305.7 411.8 L1306.0 405.0 L1307.0 392.5 L1308.3 377.9 L1309.6 361.6 L1310.9 344.6 L1311.0 345.0 L1312.2 349.1 L1313.5 353.0 L1314.8 356.1 L1315.0 357.0 L1316.1 333.9 L1317.4 307.9 L1318.7 283.5 L1319.0 278.0 L1320.0 256.3 L1321.3 233.1 L1322.0 218.0 L1322.6 214.9 L1323.9 215.4 L1325.2 183.4 L1326.5 165.3 L1327.0 164.0 L1327.8 151.3 L1329.0 134.0 L1329.1 161.1 L1330.4 130.6 L1331.7 128.3 L1333.0 125.1 L1334.0 122.0 L1334.3 118.0 L1335.6 99.9 L1336.9 82.2 L1337.0 79.0 L1338.2 82.2 L1339.5 87.8 L1340.8 91.6 L1341.0 94.0 L1342.1 87.1 L1343.4 76.4 L1344.7 65.3 L1345.0 62.0 L1346.0 62.6 L1347.3 66.8 L1348.6 68.9 L1349.9 71.9 L1351.0 74.0 L1351.2 72.7 L1352.5 76.0 L1353.8 58.3 L1355.1 59.4 L1356.0 46.0 L1356.4 48.8 L1357.7 57.5 L1359.0 66.9 L1360.0 74.0 L1360.3 75.8 L1361.6 87.2 L1362.9 95.9 L1363.0 97.0 L1364.2 101.1 L1365.5 104.3 L1366.8 107.1 L1368.1 114.0 L1369.4 115.7 L1370.7 121.9 L1371.0 122.0 L1372.0 119.8 L1373.3 136.5 L1374.6 144.0 L1375.9 151.4 L1377.2 160.7 L1378.0 166.0 L1378.5 166.8 L1379.8 171.0 L1381.1 173.0 L1382.4 177.2 L1383.7 181.3 L1385.0 183.9 L1386.3 186.7 L1387.0 189.0 L1387.6 184.5 L1388.9 204.5 L1390.2 214.8 L1391.5 226.5 L1392.8 220.1 L1393.0 238.0 L1394.1 252.3 L1395.4 268.8 L1396.7 262.0 L1398.0 303.0 L1398.0 303.0 L1399.3 317.2 L1400.6 313.0 L1401.9 345.1 L1403.0 357.0 L1403.2 358.1 L1404.5 372.2 L1405.8 365.4 L1407.1 398.0 L1408.0 407.0 L1408.4 410.7 L1409.7 426.4 L1411.0 437.3 L1412.3 451.2 L1413.0 457.0 L1413.6 447.8 L1414.9 483.2 L1416.2 501.5 L1417.5 519.5 L1418.0 526.0 L1418.8 538.2 L1420.1 559.6 L1421.4 581.8 L1422.7 601.1 L1423.0 608.0 L1424.0 616.8 L1425.3 627.4 L1426.6 636.9 L1427.0 640.0 L1427.9 637.7 L1429.2 627.9 L1430.5 623.6 L1431.8 617.9 L1433.0 611.0 L1433.1 611.4 L1434.4 627.4 L1435.7 643.1 L1437.0 659.1 L1437.0 660.0 L1438.3 694.1 L1439.6 726.7 L1440.0 739.0 L1440.9 758.7 L1442.2 791.0 L1443.0 809.0 L1443.5 817.5 L1444.8 840.5 L1446.1 860.2 L1447.0 878.0 L1447.4 882.0 L1448.7 897.1 L1450.0 890.0 L1451.3 928.2 L1452.6 943.3 L1453.0 948.0 L1453.9 953.1 L1455.2 950.9 L1456.5 970.0 L1457.8 978.7 L1459.1 979.8 L1460.0 992.0 L1460.4 994.7 L1461.7 990.6 L1463.0 1012.6 L1464.3 1013.9 L1465.6 1030.5 L1466.9 1028.6 L1468.0 1047.0 L1468.2 1047.9 L1469.5 1053.4 L1470.8 1060.6 L1472.1 1063.2 L1473.4 1061.4 L1474.7 1075.7 L1475.0 1077.0 L1476.0 1073.9 L1477.3 1088.1 L1478.6 1085.3 L1479.9 1100.7 L1481.0 1106.0 L1481.2 1100.0 L1482.5 1105.5 L1483.8 1107.4 L1485.1 1103.4 L1486.4 1101.5 L1487.0 1104.0 L1487.7 1094.3 L1489.0 1075.6 L1490.0 1062.0 L1490.3 1059.4 L1491.6 1048.2 L1492.9 1042.2 L1494.0 1034.0 L1494.2 1037.2 L1495.5 1040.3 L1496.8 1051.5 L1498.0 1057.0 L1498.1 1057.6 L1499.4 1078.0 L1500.7 1092.6 L1501.0 1096.0 L1502.0 1108.3 L1503.3 1126.1 L1504.6 1141.6 L1505.0 1146.0 L1505.9 1154.1 L1507.2 1161.5 L1508.5 1173.6 L1509.8 1184.8 L1510.0 1186.0 L1511.1 1170.1 L1512.4 1177.2 L1513.7 1137.9 L1515.0 1122.3 L1515.0 1121.0 L1516.3 1152.9 L1517.0 1171.0 L1517.6 1178.3 L1518.9 1193.1 L1520.2 1205.7 L1521.0 1216.0 L1521.5 1224.8 L1522.8 1245.5 L1524.0 1267.0 L1524.1 1267.2 L1525.4 1262.8 L1526.7 1257.3 L1528.0 1255.1 L1529.0 1252.0 L1529.3 1251.3 L1530.6 1254.1 L1531.9 1254.2 L1533.2 1254.4 L1534.0 1256.0 L1534.5 1261.1 L1535.8 1271.3 L1537.0 1280.0 L1537.1 1278.1 L1538.4 1264.1 L1539.7 1246.3 L1540.0 1243.0 L1541.0 1205.6 L1541.0 1206.0 L1542.3 1226.9 L1543.6 1246.7 L1544.9 1267.9 L1545.0 1270.0 L1546.2 1274.9 L1547.5 1282.5 L1548.8 1287.9 L1549.0 1287.0 L1550.1 1301.0 L1551.4 1320.1 L1552.0 1326.0 L1552.7 1331.5 L1554.0 1342.5 L1555.0 1350.0 L1555.3 1342.6 L1556.6 1351.3 L1557.9 1355.3 L1559.2 1353.8 L1560.5 1353.1 L1561.0 1355.0 L1561.8 1355.2 L1563.1 1350.8 L1564.4 1348.7 L1565.0 1348.0 L1565.7 1339.9 L1567.0 1336.2 L1568.3 1327.5 L1569.0 1322.0 L1569.6 1317.7 L1570.9 1306.5 L1572.2 1296.0 L1573.0 1287.0 L1573.5 1279.6 L1574.8 1261.7 L1576.0 1243.0 L1576.1 1238.9 L1577.4 1197.3 L1578.7 1157.0 L1579.0 1146.0 L1580.0 1124.6 L1581.3 1126.5 L1582.6 1074.7 L1583.9 1049.5 L1584.0 1047.0 L1585.2 1021.4 L1586.5 999.6 L1587.8 972.0 L1589.0 948.0 L1589.1 947.5 L1590.4 931.3 L1591.7 912.8 L1593.0 897.6 L1593.0 898.0 L1594.3 886.0 L1595.6 888.6 L1596.9 859.0 L1598.0 848.0 L1598.2 846.4 L1599.5 847.4 L1600.8 806.6 L1602.1 803.0 L1603.0 774.0 L1603.4 769.1 L1604.7 751.5 L1606.0 761.2 L1607.3 721.0 L1608.6 705.2 L1609.0 700.0 L1609.9 704.2 L1611.2 675.8 L1612.5 659.8 L1613.8 647.7 L1614.0 645.0 L1615.1 631.1 L1616.4 610.1 L1617.7 594.5 L1619.0 592.1 L1619.0 576.0 L1620.3 555.5 L1621.6 535.9 L1622.9 512.6 L1624.0 497.0 L1624.2 520.6 L1625.5 484.5 L1626.8 474.3 L1628.1 463.2 L1629.4 450.8 L1630.0 447.0 L1630.7 451.6 L1632.0 423.0 L1633.3 408.0 L1634.6 392.0 L1635.0 387.0 L1635.9 377.3 L1637.2 359.4 L1638.5 366.2 L1639.8 325.6 L1640.0 323.0 L1641.1 305.7 L1642.4 284.9 L1643.7 261.5 L1644.0 258.0 L1645.0 254.8 L1646.3 244.4 L1647.6 238.1 L1648.9 227.5 L1650.0 223.0 L1650.2 219.4 L1651.5 226.9 L1652.8 192.8 L1654.1 179.7 L1655.0 169.0 L1655.4 165.2 L1656.7 157.1 L1658.0 145.7 L1659.3 136.1 L1660.6 138.2 L1661.0 124.0 L1661.9 118.2 L1663.2 122.1 L1664.5 101.6 L1665.8 91.6 L1666.0 92.0 L1667.1 92.2 L1668.4 83.4 L1669.7 79.9 L1671.0 75.3 L1671.0 74.0 L1672.3 45.0 L1673.0 30.0 L1673.6 25.8 L1674.9 12.4 L1676.0 5.0 L1676.2 10.4 L1677.5 26.4 L1678.8 42.1 L1679.0 45.0 L1680.1 37.3 L1681.4 31.7 L1682.7 21.5 L1683.0 22.0 L1684.0 27.3 L1685.3 37.3 L1686.6 44.6 L1687.0 47.0 L1687.9 37.0 L1689.2 25.0 L1690.5 9.0 L1691.0 5.0 L1691.8 5.5 L1693.1 4.9 L1694.4 4.8 L1695.0 6.0 L1695.7 9.9 L1697.0 14.3 L1698.3 24.0 L1699.0 25.0 L1699.6 25.7 L1700.9 31.9 L1702.2 31.4 L1703.5 36.5 L1704.0 37.0 L1704.8 39.2 L1706.1 44.8 L1707.4 52.5 L1708.0 55.0 L1708.7 59.4 L1710.0 70.8 L1711.3 83.2 L1712.6 77.4 L1713.0 97.0 L1713.9 98.9 L1715.2 103.7 L1716.5 105.2 L1717.8 106.8 L1719.1 108.8 L1720.0 112.0 L1720.4 113.2 L1721.7 124.0 L1723.0 136.7 L1724.0 144.0 L1724.3 133.2 L1725.6 150.7 L1726.9 158.0 L1728.2 160.8 L1729.5 167.5 L1730.0 169.0 L1730.8 167.5 L1732.1 183.7 L1733.4 191.4 L1734.7 190.9 L1735.0 204.0 L1736.0 222.0 L1737.3 245.8 L1738.0 258.0 L1738.6 264.3 L1739.9 264.1 L1741.2 290.0 L1742.5 286.8 L1743.0 308.0 L1743.8 315.8 L1745.1 327.8 L1746.4 339.8 L1747.7 353.9 L1748.0 357.0 L1749.0 373.8 L1750.3 394.5 L1751.0 407.0 L1751.6 413.3 L1752.9 427.9 L1754.2 424.7 L1755.5 456.5 L1756.0 462.0 L1756.8 475.2 L1758.1 494.6 L1759.4 513.9 L1760.0 521.0 L1760.7 535.8 L1762.0 568.4 L1762.0 566.0 L1763.3 553.1 L1764.6 539.7 L1765.0 536.0 L1765.9 589.7 L1766.0 596.0 L1767.2 606.6 L1768.5 619.5 L1769.8 628.2 L1771.0 640.0 L1771.1 642.2 L1772.4 658.0 L1773.7 674.4 L1775.0 687.7 L1775.0 689.0 L1776.3 709.8 L1777.6 728.6 L1778.9 749.6 L1779.0 749.0 L1780.2 777.5 L1781.0 799.0 L1781.5 798.7 L1782.8 797.1 L1784.1 798.1 L1785.4 800.4 L1786.0 799.0 L1786.7 809.9 L1788.0 830.8 L1789.0 848.0 L1789.3 854.0 L1790.6 875.9 L1791.9 897.5 L1792.0 898.0 L1793.2 915.1 L1794.5 935.4 L1795.0 943.0 L1795.8 942.2 L1797.1 942.1 L1798.4 944.0 L1799.7 944.9 L1800.0 943.0 L1801.0 952.6 L1802.3 965.2 L1803.6 980.9 L1804.0 987.0 L1804.9 993.7 L1806.2 1006.1 L1807.5 1018.4 L1808.0 1022.0 L1808.8 1019.2 L1810.1 1014.2 L1811.0 1012.0 L1811.4 1016.9 L1812.7 1030.7 L1814.0 1046.9 L1814.0 1047.0 L1815.3 1043.0 L1816.6 1043.7 L1817.9 1038.2 L1818.0 1037.0 L1819.2 1056.0 L1820.5 1077.5 L1821.0 1087.0 L1821.8 1099.5 L1823.1 1119.3 L1824.0 1136.0 L1824.4 1136.7 L1825.7 1142.3 L1827.0 1146.4 L1828.3 1153.1 L1829.0 1156.0 L1829.6 1163.7 L1830.9 1182.7 L1832.0 1196.0 L1832.2 1195.6 L1833.5 1200.3 L1834.0 1200.0 L1834.8 1209.1 L1836.1 1223.1 L1837.0 1233.0 L1837.4 1229.9 L1838.7 1228.5 L1840.0 1228.6 L1841.0 1226.0 L1841.3 1229.9 L1842.6 1238.0 L1843.9 1248.2 L1844.0 1248.0 L1845.2 1243.6 L1846.5 1239.4 L1847.8 1234.9 L1848.0 1235.0 L1849.1 1248.0 L1850.4 1261.2 L1851.7 1274.5 L1852.0 1278.0 L1853.0 1294.1 L1854.0 1311.0 L1854.3 1309.3 L1855.6 1298.6 L1856.9 1286.8 L1857.0 1287.0 L1858.2 1278.7 L1859.5 1265.6 L1860.0 1261.0 L1860.8 1252.7 L1862.1 1241.1 L1863.0 1230.0 L1863.4 1230.7 L1864.7 1227.6 L1866.0 1226.6 L1866.0 1226.0 L1867.3 1237.7 L1868.6 1251.2 L1869.0 1256.0 L1869.9 1250.4 L1871.2 1250.3 L1872.5 1242.3 L1873.0 1243.0 L1873.8 1248.0 L1875.1 1246.5 L1876.4 1260.7 L1877.7 1267.8 L1878.0 1269.0 L1879.0 1273.1 L1880.3 1278.8 L1881.0 1279.0 L1881.6 1274.0 L1882.9 1263.0 L1884.0 1252.0 L1884.2 1248.9 L1885.5 1235.4 L1886.8 1219.5 L1887.0 1217.0 L1888.1 1188.4 L1889.0 1166.0 L1889.4 1184.6 L1890.7 1163.9 L1892.0 1162.5 L1893.3 1161.1 L1894.6 1158.4 L1895.9 1156.5 L1897.0 1156.0 L1897.2 1157.3 L1898.5 1157.2 L1899.8 1161.3 L1901.1 1166.6 L1902.4 1164.3 L1903.7 1169.5 L1904.0 1171.0 L1905.0 1170.2 L1906.3 1165.2 L1907.6 1168.1 L1908.9 1159.7 L1910.0 1161.0 L1910.2 1163.5 L1911.5 1168.5 L1912.8 1172.6 L1914.0 1176.0 L1914.1 1175.3 L1915.4 1170.5 L1916.7 1163.4 L1918.0 1160.0 L1918.0 1159.0 L1919.3 1175.2 L1920.0 1186.0 L1920.6 1179.7 L1921.9 1168.2 L1923.2 1152.7 L1924.0 1146.0 L1924.5 1139.4 L1925.8 1124.1 L1927.1 1106.4 L1928.0 1097.0 L1928.4 1094.4 L1929.7 1080.4 L1931.0 1065.2 L1932.0 1057.0 L1932.3 1053.6 L1933.6 1043.8 L1934.9 1034.0 L1936.2 1023.2 L1937.5 1022.7 L1938.0 1007.0 L1938.8 999.0 L1940.1 985.4 L1941.4 972.4 L1942.0 967.0 L1942.7 976.1 L1944.0 949.4 L1945.3 940.5 L1946.6 926.8 L1947.0 923.0 L1947.9 929.1 L1949.2 903.2 L1950.5 893.3 L1951.8 878.8 L1952.0 878.0 L1953.1 868.6 L1954.4 853.7 L1955.7 861.0 L1957.0 828.0 L1957.0 828.0 L1958.3 817.3 L1959.6 808.8 L1960.9 796.9 L1962.0 789.0 L1962.2 788.2 L1963.5 776.5 L1964.8 765.6 L1966.1 755.2 L1967.4 744.0 L1968.0 739.0 L1968.7 749.9 L1970.0 723.4 L1971.3 713.4 L1972.6 704.3 L1973.0 700.0 L1973.9 691.2 L1975.2 683.0 L1976.5 683.9 L1977.8 661.6 L1979.1 663.2 L1980.4 640.8 L1981.0 636.0 L1981.7 627.9 L1983.0 629.4 L1984.3 596.4 L1985.6 578.6 L1986.0 576.0 L1986.9 568.8 L1988.2 571.6 L1989.5 555.6 L1990.8 548.3 L1992.0 541.0 L1992.1 537.2 L1993.4 522.1 L1994.7 505.8 L1996.0 506.7 L1997.0 477.0 L1997.3 472.5 L1998.6 451.3 L1999.9 432.9 L2001.0 417.0 L2001.2 417.2 L2002.5 398.9 L2003.8 383.5 L2005.0 372.0 L2005.1 375.8 L2006.0 407.0 L2006.4 398.8 L2007.7 369.7 L2009.0 338.9 L2010.0 318.0 L2010.3 349.4 L2011.6 305.2 L2012.9 294.1 L2014.2 300.3 L2015.0 278.0 L2015.5 274.5 L2016.8 265.4 L2018.1 256.4 L2019.4 245.5 L2020.0 243.0 L2020.7 222.7 L2022.0 191.3 L2023.0 164.0 L2023.3 164.2 L2024.6 173.6 L2025.9 182.0 L2027.0 189.0 L2027.2 182.1 L2028.5 141.0 L2029.8 102.0 L2030.0 94.0 L2031.1 91.5 L2032.4 89.1 L2033.7 82.2 L2035.0 78.0 L2035.0 78.0 L2036.3 89.9 L2037.6 102.3 L2038.9 109.7 L2039.0 112.0 L2040.2 105.1 L2041.5 98.2 L2042.8 102.0 L2044.0 84.0 L2044.1 84.1 L2045.4 85.5 L2046.7 85.9 L2048.0 87.2 L2049.0 89.0 L2049.3 103.8 L2050.0 139.0 L2050.6 159.8 L2051.9 204.1 L2052.0 209.0 L2053.2 212.1 L2054.5 211.3 L2055.8 211.1 L2057.0 214.0 L2057.1 218.5 L2058.4 257.9 L2059.0 278.0 L2059.7 294.9 L2061.0 324.6 L2062.0 348.0 L2062.3 354.2 L2063.6 379.7 L2064.9 404.3 L2065.0 407.0 L2066.2 427.0 L2067.5 451.1 L2068.0 457.0 L2068.8 444.1 L2070.1 474.1 L2071.4 483.5 L2072.7 498.0 L2074.0 489.1 L2074.0 506.0 L2075.3 516.4 L2076.6 526.9 L2077.9 538.0 L2079.0 546.0 L2079.2 531.9 L2080.5 555.0 L2081.8 563.0 L2083.1 571.6 L2084.0 576.0 L2084.4 582.8 L2085.7 609.2 L2087.0 636.4 L2087.0 636.0 L2088.3 644.4 L2089.0 650.0 L2089.6 646.4 L2090.9 664.8 L2092.2 675.5 L2093.5 669.9 L2094.0 689.0 L2094.8 700.2 L2096.1 718.3 L2097.4 737.8 L2098.7 754.2 L2099.0 759.0 L2100.0 754.7 L2101.3 774.3 L2102.6 783.6 L2103.9 794.0 L2105.0 799.0 L2105.2 803.6 L2106.5 817.6 L2107.8 808.9 L2109.1 847.4 L2110.0 858.0 L2110.4 846.4 L2111.7 875.0 L2113.0 886.6 L2114.3 901.8 L2115.6 915.2 L2116.0 918.0 L2116.9 910.2 L2118.2 931.2 L2119.5 937.3 L2120.8 939.0 L2121.0 948.0 L2122.1 956.0 L2123.4 965.5 L2124.7 974.3 L2125.0 977.0 L2126.0 994.5 L2127.3 1017.3 L2128.6 1039.6 L2129.0 1047.0 L2129.9 1079.5 L2131.0 1121.0 L2131.2 1131.5 L2132.5 1180.5 L2133.0 1200.0 L2133.8 1251.3 L2134.0 1265.0 L2135.0 1322.0 L2135.1 1321.6 L2136.4 1337.2 L2137.0 1345.0 L2137.7 1340.5 L2139.0 1330.6 L2140.0 1322.0 L2140.3 1323.2 L2141.6 1330.1 L2142.9 1336.1 L2143.0 1337.0 L2144.2 1330.5 L2145.5 1327.7 L2146.0 1324.0 L2146.8 1327.4 L2148.1 1334.7 L2149.0 1335.0 L2149.4 1333.2 L2150.7 1331.0 L2152.0 1329.3 L2153.0 1326.0 L2153.3 1326.5 L2154.6 1328.5 L2155.9 1332.4 L2157.2 1337.0 L2158.0 1339.0 L2158.5 1341.3 L2159.8 1345.6 L2161.1 1351.8 L2162.0 1354.0 L2162.4 1354.4 L2163.7 1351.0 L2164.0 1350.0 L2165.0 1357.0 L2166.3 1365.8 L2167.6 1375.9 L2168.0 1378.0 L2168.9 1377.1 L2170.2 1373.1 L2171.5 1370.7 L2172.0 1369.0 L2172.8 1372.6 L2174.1 1377.8 L2175.0 1384.0 L2175.4 1381.8 L2176.7 1380.5 L2178.0 1376.7 L2179.3 1374.7 L2180.0 1371.0 L2180.6 1371.7 L2181.9 1373.9 L2183.2 1375.8 L2184.5 1376.7 L2185.0 1376.0 L2185.8 1377.3 L2187.1 1381.2 L2188.4 1385.0 L2189.7 1387.0 L2190.0 1389.0 L2191.0 1390.6 L2192.3 1392.5 L2193.6 1392.0 L2194.9 1396.3 L2196.0 1395.0 L2196.2 1395.6 L2197.5 1401.5 L2198.8 1407.3 L2200.0 1413.0 L2200.1 1412.9 L2201.4 1423.3 L2202.7 1431.9 L2203.0 1434.0 L2204.0 1439.1 L2205.3 1437.2 L2206.6 1449.8 L2207.9 1455.5 L2208.0 1456.0 L2209.2 1452.3 L2210.5 1451.6 L2211.8 1447.6 L2213.0 1445.0 L2213.1 1447.2 L2214.4 1449.4 L2215.7 1452.8 L2217.0 1455.3 L2218.3 1458.5 L2219.0 1460.0 L2219.6 1462.7 L2220.9 1467.3 L2222.2 1469.5 L2223.0 1473.0 L2223.5 1471.2 L2224.8 1467.6 L2226.1 1458.2 L2227.0 1454.0 L2227.4 1454.2 L2228.7 1455.2 L2230.0 1455.9 L2231.3 1460.6 L2232.0 1460.0 L2232.6 1463.1 L2233.9 1469.9 L2235.2 1478.2 L2236.0 1480.0 L2236.5 1483.5 L2237.8 1480.7 L2239.1 1484.4 L2240.0 1484.0 L2240.4 1485.5 L2241.7 1487.9 L2243.0 1490.6 L2244.3 1492.6 L2245.0 1494.0 L2245.6 1493.5 L2246.9 1487.1 L2248.2 1481.6 L2249.0 1478.0 L2249.5 1475.2 L2250.8 1463.5 L2252.0 1452.0 L2252.1 1451.8 L2253.4 1442.1 L2254.7 1434.3 L2255.0 1430.0 L2256.0 1404.6 L2256.0 1404.0 L2257.3 1406.8 L2258.6 1408.8 L2259.9 1412.4 L2260.0 1413.0 L2261.2 1417.7 L2262.5 1425.6 L2263.0 1428.0 L2263.8 1424.5 L2265.1 1417.9 L2266.4 1411.9 L2267.7 1407.0 L2268.0 1404.0 L2269.0 1391.5 L2270.3 1375.7 L2271.0 1369.0 L2271.6 1356.0 L2272.9 1331.9 L2273.0 1330.0 L2274.2 1305.4 L2275.0 1287.0 L2275.5 1289.5 L2276.8 1291.3 L2278.1 1292.5 L2279.0 1296.0 L2279.4 1290.5 L2280.7 1275.1 L2282.0 1260.8 L2282.0 1261.0 L2283.3 1242.0 L2284.6 1227.3 L2285.0 1222.0 L2285.9 1211.1 L2287.0 1196.0 L2287.2 1190.8 L2288.5 1159.1 L2289.0 1146.0 L2289.8 1135.9 L2291.1 1120.6 L2292.4 1107.0 L2293.0 1101.0 L2293.7 1109.9 L2295.0 1087.4 L2296.3 1080.0 L2297.6 1079.3 L2298.0 1067.0 L2298.9 1058.0 L2300.2 1045.6 L2301.0 1037.0 L2301.5 1043.3 L2302.8 1062.7 L2304.1 1078.7 L2305.0 1092.0 L2305.4 1082.9 L2306.7 1056.3 L2308.0 1032.3 L2309.0 1012.0 L2309.3 1042.1 L2310.6 985.1 L2311.9 965.0 L2313.2 940.6 L2314.0 928.0 L2314.5 941.2 L2315.8 972.0 L2317.1 1001.3 L2318.0 1022.0 L2318.4 1008.5 L2319.7 972.8 L2321.0 937.2 L2322.0 908.0 L2322.3 906.4 L2323.6 890.6 L2324.9 876.5 L2326.2 861.4 L2327.0 851.0 L2327.5 857.9 L2328.8 877.4 L2330.1 897.5 L2331.4 920.4 L2332.0 928.0 L2332.7 908.7 L2334.0 875.6 L2335.3 843.2 L2336.6 838.8 L2337.0 799.0 L2337.9 807.1 L2339.2 817.9 L2340.5 830.9 L2341.8 841.2 L2343.0 853.0 L2343.1 848.5 L2344.4 798.4 L2345.7 742.9 L2346.0 732.0 L2347.0 743.3 L2348.3 759.7 L2349.6 777.3 L2350.9 790.6 L2351.0 794.0 L2352.2 779.6 L2353.5 764.0 L2354.8 748.3 L2355.0 746.0 L2356.1 751.2 L2357.4 787.8 L2358.7 809.8 L2360.0 833.0 L2360.0 833.0 L2361.3 833.1 L2362.6 832.8 L2363.9 834.2 L2365.2 833.0 L2366.0 833.0 L2366.5 825.8 L2367.8 806.4 L2369.1 786.1 L2370.0 774.0 L2370.4 792.3 L2371.7 785.9 L2373.0 783.8 L2374.3 804.1 L2375.0 809.0 L2375.6 814.3 L2376.9 822.9 L2378.2 836.0 L2379.5 848.2 L2380.8 857.2 L2382.0 868.0 L2382.1 872.0 L2383.4 886.3 L2384.7 905.7 L2386.0 925.0 L2386.2 926.8 L2387.3 943.8 L2388.6 966.6 L2389.1 975.0 L2389.9 975.9 L2391.2 978.9 L2391.9 976.4 L2392.5 970.5 L2393.8 961.1 L2394.2 958.0 L2395.1 960.3 L2396.4 961.8 L2397.6 963.7 L2397.7 963.0 L2399.0 974.1 L2400.3 983.0 L2401.0 987.8 L2401.6 988.5 L2402.9 989.6 L2404.2 989.7 L2404.7 988.6 L2405.5 984.0 L2406.8 975.6 L2407.5 970.8 L2408.1 972.2 L2409.4 979.3 L2410.3 983.5 L2410.7 986.3 L2412.0 993.8 L2413.2 1001.9 L2413.3 1002.0 L2414.6 1000.9 L2415.9 1003.7 L2416.0 1001.9 L2417.2 996.9 L2418.5 985.6 L2418.9 983.5 L2419.8 984.9 L2421.1 985.5 L2421.7 986.4 L2422.4 995.8 L2423.7 1009.5 L2423.7 1009.0 L2425.0 1013.1 L2426.3 1016.7 L2427.4 1020.4 L2427.6 1021.4 L2428.9 1025.3 L2430.2 1032.5 L2430.2 1031.7 L2431.5 1034.8 L2432.8 1040.2 L2433.0 1040.2 L2434.1 1054.4 L2435.0 1065.7 L2435.4 1067.3 L2436.7 1067.0 L2438.0 1069.3 L2438.7 1068.6 L2439.3 1069.3 L2440.6 1075.0 L2441.5 1077.0 L2441.9 1077.3 L2443.2 1079.5 L2444.5 1081.1 L2445.8 1083.9 L2445.8 1082.8 L2447.1 1084.3 L2448.4 1091.1 L2448.6 1091.3 L2449.7 1092.8 L2451.0 1099.9 L2451.5 1100.0 L2452.3 1102.4 L2453.6 1111.4 L2454.9 1118.4 L2455.0 1121.0 L2456.2 1138.0 L2457.5 1150.7 L2458.8 1168.6 L2459.0 1171.0 L2460.1 1186.3 L2461.0 1200.0 L2461.4 1206.4 L2462.7 1236.1 L2463.0 1243.0 L2464.0 1258.5 L2465.3 1276.5 L2466.0 1287.0 L2466.6 1295.1 L2467.9 1308.7 L2469.0 1322.0 L2469.2 1323.5 L2470.5 1332.8 L2471.8 1343.4 L2473.0 1352.0 L2473.1 1341.0 L2474.4 1353.7 L2475.7 1355.5 L2477.0 1356.1 L2478.0 1358.0 L2478.3 1359.3 L2479.6 1371.4 L2480.9 1377.7 L2482.0 1387.0 L2482.2 1386.9 L2483.5 1386.5 L2484.8 1389.3 L2486.1 1384.2 L2487.4 1387.4 L2488.0 1387.0 L2488.7 1384.1 L2490.0 1375.0 L2491.0 1371.0 L2491.3 1370.2 L2492.6 1371.5 L2493.9 1373.0 L2495.0 1371.0 L2495.2 1370.8 L2496.5 1375.9 L2497.8 1384.8 L2499.0 1389.0 L2499.1 1381.8 L2500.4 1390.7 L2501.7 1389.6 L2503.0 1395.5 L2504.0 1395.0 L2504.3 1394.6 L2505.6 1395.4 L2506.9 1393.3 L2508.2 1392.1 L2509.5 1391.3 L2510.8 1392.9 L2511.0 1391.0 L2512.1 1395.2 L2513.4 1393.8 L2514.7 1398.2 L2515.0 1400.0 L2516.0 1402.4 L2517.3 1400.2 L2518.6 1399.4 L2519.9 1401.4 L2521.2 1401.6 L2522.0 1402.0 L2522.5 1401.6 L2523.8 1400.5 L2525.1 1400.1 L2526.0 1400.0 L2526.4 1400.3 L2527.7 1403.8 L2529.0 1405.0 L2530.0 1408.0 L2530.3 1408.4 L2531.6 1412.0 L2532.9 1417.1 L2534.2 1419.4 L2535.0 1421.0 L2535.5 1425.7 L2536.8 1439.0 L2538.0 1450.0 L2538.1 1450.4 L2539.4 1449.9 L2540.7 1447.9 L2541.0 1447.0 L2542.0 1438.7 L2543.0 1426.0 L2543.3 1425.7 L2544.6 1415.6 L2545.9 1406.7 L2547.0 1400.0 L2547.2 1401.2 L2548.5 1401.4 L2549.8 1401.3 L2551.0 1402.0 L2551.1 1400.0 L2552.4 1396.0 L2553.7 1395.0 L2555.0 1391.9 L2555.0 1391.0 L2556.3 1394.6 L2557.6 1394.7 L2558.0 1397.0 L2558.9 1401.7 L2560.2 1404.7 L2561.5 1410.8 L2562.8 1415.7 L2563.0 1416.0 L2564.1 1411.7 L2565.4 1408.1 L2566.7 1402.4 L2567.0 1404.0 L2568.0 1397.4 L2569.3 1389.2 L2570.6 1384.7 L2571.0 1382.0 L2571.9 1378.2 L2573.2 1373.6 L2574.0 1369.0 L2574.5 1369.7 L2575.8 1369.1 L2577.1 1371.0 L2578.0 1371.0 L2578.4 1373.5 L2579.7 1384.2 L2581.0 1393.4 L2581.0 1393.0 L2582.3 1394.8 L2583.6 1399.1 L2584.0 1400.0 L2584.9 1399.2 L2586.2 1397.4 L2587.5 1397.6 L2588.8 1397.3 L2589.0 1395.0 L2590.1 1399.2 L2591.4 1404.8 L2592.7 1408.0 L2593.0 1412.0 L2594.0 1411.3 L2595.3 1410.3 L2596.6 1407.6 L2597.9 1409.9 L2599.0 1409.0 L2599.2 1409.9 L2600.5 1409.6 L2601.8 1411.4 L2603.0 1413.0 L2603.1 1411.2 L2604.4 1405.5 L2605.7 1395.0 L2606.0 1395.0 L2607.0 1387.1 L2608.3 1380.1 L2609.6 1368.1 L2610.0 1365.0 L2610.9 1363.9 L2612.2 1360.8 L2613.5 1357.2 L2614.8 1356.2 L2616.0 1354.0 L2616.1 1353.7 L2617.4 1341.6 L2618.7 1332.8 L2619.0 1330.0 L2620.0 1317.2 L2621.3 1298.3 L2622.0 1287.0 L2622.6 1279.3 L2623.9 1267.3 L2625.2 1253.9 L2626.0 1248.0 L2626.5 1248.7 L2627.8 1246.5 L2629.1 1245.0 L2630.0 1243.0 L2630.4 1241.7 L2631.7 1240.8 L2633.0 1241.6 L2634.0 1241.0 L2634.3 1240.3 L2635.6 1235.6 L2636.9 1233.2 L2638.0 1230.0 L2638.2 1230.5 L2639.5 1228.3 L2640.8 1225.0 L2641.0 1226.0 L2642.1 1210.3 L2643.4 1196.9 L2644.0 1190.0 L2644.7 1183.5 L2646.0 1170.7 L2646.0 1171.0 L2647.3 1157.2 L2648.6 1144.9 L2649.9 1130.8 L2651.0 1121.0 L2651.2 1136.4 L2652.5 1110.8 L2653.8 1100.4 L2655.1 1101.0 L2656.0 1087.0 L2656.4 1080.0 L2657.7 1057.5 L2658.0 1052.0 L2659.0 1045.8 L2660.3 1050.7 L2661.6 1030.4 L2662.9 1024.3 L2663.0 1022.0 L2664.2 1013.3 L2665.5 1002.0 L2666.8 1002.1 L2668.0 982.0 L2668.1 980.9 L2669.4 967.4 L2670.7 953.0 L2672.0 938.5 L2673.0 928.0 L2673.3 923.1 L2674.6 909.2 L2675.9 889.2 L2677.0 878.0 L2677.2 880.5 L2678.5 874.6 L2679.8 871.0 L2681.1 869.8 L2682.0 868.0 L2682.4 864.2 L2683.7 845.1 L2685.0 828.7 L2685.0 828.0 L2686.3 805.7 L2687.2 790.0 L2687.6 786.5 L2688.3 781.5 L2688.9 784.5 L2690.2 779.0 L2691.5 776.6 L2691.5 777.2 L2692.6 760.2 L2692.8 759.4 L2694.1 759.4 L2695.1 758.1 L2695.4 745.8 L2696.4 702.8 L2696.7 702.4 L2698.0 696.1 L2699.3 688.7 L2699.4 690.0 L2700.6 648.0 L2700.6 647.4 L2701.9 640.8 L2702.8 636.8 L2703.2 636.7 L2704.5 636.3 L2705.7 638.9 L2705.8 639.8 L2707.1 660.8 L2707.4 666.6 L2707.9 615.5 L2708.4 615.5 L2709.7 613.8 L2710.6 615.5 L2711.0 621.2 L2712.1 636.8 L2712.3 626.3 L2712.8 599.6 L2713.6 598.6 L2714.9 599.6 L2715.5 600.6 L2716.2 621.1 L2716.4 628.3 L2717.5 617.0 L2718.1 609.1 L2718.5 541.1 L2718.8 537.0 L2720.1 535.2 L2721.3 531.5 L2721.4 530.0 L2722.7 537.4 L2723.4 541.1 L2724.0 559.1 L2724.9 583.6 L2725.3 573.3 L2726.6 543.3 L2727.7 517.0 L2727.9 520.1 L2729.2 550.4 L2730.4 573.0 L2730.5 571.7 L2731.8 540.6 L2731.9 536.8 L2733.1 535.8 L2734.0 537.9 L2734.4 540.8 L2735.1 549.6 L2735.7 551.6 L2736.8 551.7 L2737.0 584.5 L2737.2 617.7 L2737.7 664.5 L2738.3 676.9 L2738.9 690.0 L2739.6 690.4 L2740.9 688.5 L2741.5 690.0 L2741.9 713.4 L2742.2 714.3 L2743.5 713.4 L2744.0 713.4 L2744.8 704.1 L2745.3 697.4 L2746.1 700.6 L2746.8 704.9 L2747.4 715.9 L2747.9 724.0 L2748.7 736.8 L2748.9 741.1 L2750.0 742.2 L2751.1 741.1 L2751.3 741.6 L2752.6 736.1 L2753.2 732.6 L2753.9 725.1 L2754.3 719.8 L2755.2 678.4 L2755.3 673.0 L2756.5 669.8 L2757.4 673.0 L2757.8 680.9 L2758.5 692.1 L2759.1 698.8 L2759.6 704.9 L2760.4 703.9 L2761.1 702.8 L2761.7 651.4 L2761.7 651.7 L2763.0 642.1 L2763.8 638.9 L2764.3 637.9 L2765.6 638.3 L2766.0 637.2 L2766.9 640.6 L2768.1 641.1 L2768.2 641.6 L2769.5 657.8 L2769.6 660.2 L2770.8 685.5 L2770.9 685.7 L2772.1 690.1 L2772.3 692.1 L2773.4 718.0 L2773.8 724.0 L2774.7 734.2 L2775.5 743.2 L2776.0 743.4 L2777.2 747.4 L2777.3 749.7 L2778.6 765.4 L2778.7 764.5 L2779.9 765.1 L2780.9 768.7 L2781.2 775.1 L2782.3 790.0 L2782.5 791.4 L2783.8 804.6 L2785.0 813.0 L2785.1 811.8 L2786.4 814.0 L2787.7 831.9 L2789.0 843.1 L2790.0 848.0 L2790.3 850.7 L2791.6 863.6 L2792.9 876.7 L2794.2 890.2 L2795.0 898.0 L2795.5 887.5 L2796.8 916.0 L2798.1 928.4 L2799.4 940.5 L2800.0 948.0 L2800.7 942.1 L2802.0 969.6 L2803.3 984.4 L2804.6 997.6 L2805.0 1002.0 L2805.9 1010.7 L2807.2 1020.8 L2808.5 1033.6 L2809.8 1044.2 L2810.0 1047.0 L2811.1 1053.0 L2812.4 1058.3 L2813.7 1063.5 L2815.0 1068.7 L2816.0 1072.0 L2816.3 1068.1 L2817.6 1084.5 L2818.9 1095.4 L2820.2 1095.0 L2821.0 1111.0 L2821.5 1114.0 L2822.8 1122.2 L2824.1 1130.8 L2825.4 1137.3 L2826.0 1141.0 L2826.7 1145.1 L2828.0 1143.7 L2829.3 1154.7 L2830.6 1161.5 L2831.9 1159.2 L2832.0 1166.0 L2833.2 1169.6 L2834.5 1171.6 L2835.8 1176.9 L2837.0 1181.0 L2837.1 1183.0 L2838.4 1188.9 L2839.7 1198.2 L2840.0 1200.0 L2841.0 1206.8 L2842.3 1214.1 L2843.0 1222.0 L2843.6 1224.9 L2844.9 1230.6 L2846.2 1234.3 L2847.0 1239.0 L2847.5 1236.0 L2848.8 1224.8 L2850.0 1217.0 L2850.1 1217.3 L2851.4 1219.8 L2852.7 1226.8 L2854.0 1225.5 L2855.0 1230.0 L2855.3 1229.5 L2856.6 1223.6 L2857.9 1213.8 L2859.0 1211.0 L2859.2 1210.1 L2860.5 1220.7 L2861.8 1227.2 L2863.0 1235.0 L2863.1 1236.4 L2864.4 1235.7 L2865.7 1235.9 L2867.0 1234.9 L2868.0 1239.0 L2868.3 1241.8 L2869.6 1251.8 L2870.9 1264.5 L2871.0 1265.0 L2872.2 1274.1 L2873.5 1281.7 L2874.0 1287.0 L2874.8 1285.1 L2876.1 1277.8 L2877.0 1272.0 L2877.4 1272.1 L2878.7 1266.8 L2880.0 1264.8 L2881.0 1263.0 L2881.3 1262.8 L2882.6 1264.9 L2883.9 1266.0 L2885.0 1269.0 L2885.2 1269.8 L2886.5 1271.4 L2887.8 1273.4 L2889.1 1274.1 L2890.0 1276.0 L2890.4 1279.8 L2891.7 1285.9 L2893.0 1289.7 L2893.0 1293.0 L2894.3 1283.1 L2895.6 1274.7 L2896.0 1272.0 L2896.9 1277.4 L2898.2 1282.1 L2899.5 1288.3 L2900.0 1291.0 L2900.8 1297.1 L2902.1 1310.0 L2903.0 1317.0 L2903.4 1319.1 L2904.7 1329.6 L2906.0 1336.0 L2907.3 1346.3 L2908.0 1352.0 L2908.6 1355.0 L2909.9 1361.5 L2911.2 1365.7 L2912.5 1373.5 L2913.8 1378.8 L2914.0 1378.0 L2915.1 1375.6 L2916.4 1388.6 L2917.7 1394.4 L2919.0 1395.4 L2919.0 1400.0 L2920.3 1404.4 L2921.6 1409.6 L2922.9 1413.9 L2924.0 1417.0 L2924.2 1415.9 L2925.5 1415.4 L2926.8 1428.8 L2928.1 1436.3 L2929.0 1438.0 L2929.4 1439.4 L2930.7 1439.0 L2932.0 1438.3 L2933.3 1441.8 L2934.6 1443.3 L2935.0 1443.0 L2935.9 1436.3 L2937.2 1425.4 L2938.0 1421.0 L2938.5 1420.3 L2939.8 1420.4 L2941.1 1422.8 L2942.0 1423.0 L2942.4 1421.7 L2943.7 1414.5 L2945.0 1404.9 L2946.0 1400.0 L2946.3 1397.7 L2947.6 1386.7 L2948.9 1374.0 L2950.0 1365.0 L2950.2 1377.6 L2951.5 1352.1 L2952.8 1354.9 L2954.1 1329.7 L2955.0 1322.0 L2955.4 1316.8 L2956.7 1302.2 L2958.0 1284.9 L2958.0 1287.0 L2959.3 1267.9 L2960.6 1250.3 L2961.0 1243.0 L2961.9 1226.2 L2963.0 1200.0 L2963.2 1198.2 L2964.5 1176.3 L2965.8 1154.3 L2966.0 1151.0 L2967.1 1149.5 L2968.4 1149.1 L2969.7 1149.1 L2971.0 1146.5 L2972.3 1147.6 L2973.0 1146.0 L2973.6 1135.8 L2974.9 1115.4 L2976.0 1101.0 L2976.2 1126.0 L2977.5 1095.0 L2978.8 1091.2 L2980.1 1092.4 L2981.4 1079.4 L2982.0 1077.0 L2982.7 1069.6 L2984.0 1053.5 L2985.3 1035.1 L2986.0 1027.0 L2986.6 1015.1 L2987.9 984.7 L2988.0 982.0 L2989.2 979.4 L2990.5 977.2 L2991.8 972.1 L2993.1 970.1 L2994.4 968.2 L2995.0 967.0 L2995.7 962.0 L2997.0 955.2 L2998.3 956.3 L2999.6 937.1 L3000.9 928.2 L3001.0 928.0 L3002.2 923.3 L3003.5 919.5 L3004.8 914.1 L3006.1 909.2 L3007.4 907.1 L3008.0 903.0 L3008.7 894.1 L3010.0 893.6 L3011.3 866.7 L3012.6 853.9 L3013.0 848.0 L3013.9 854.8 L3015.2 832.6 L3016.5 836.4 L3017.8 814.4 L3019.1 806.3 L3020.0 799.0 L3020.4 795.2 L3021.7 787.6 L3023.0 782.0 L3024.3 781.2 L3025.0 769.0 L3025.6 757.3 L3026.9 730.0 L3027.0 730.0 L3028.1 708.7 L3028.2 709.1 L3029.5 706.6 L3030.8 710.0 L3031.3 706.6 L3032.1 714.8 L3032.3 717.2 L3033.4 717.4 L3034.7 715.8 L3035.1 717.2 L3036.0 669.8 L3036.0 670.4 L3037.3 660.7 L3037.7 659.8 L3038.6 667.4 L3039.8 674.7 L3039.9 671.1 L3040.9 638.5 L3041.2 638.9 L3042.5 636.4 L3043.6 636.4 L3043.8 631.0 L3045.1 601.7 L3045.1 600.2 L3046.4 585.8 L3047.2 578.9 L3047.7 569.7 L3048.7 557.7 L3049.0 556.6 L3050.3 547.8 L3051.5 542.8 L3051.6 542.3 L3052.9 544.6 L3053.6 543.8 L3054.2 561.1 L3055.1 589.6 L3055.5 590.7 L3056.8 588.8 L3057.9 589.6 L3058.1 576.5 L3058.9 515.1 L3059.4 516.3 L3060.7 513.1 L3061.5 513.0 L3062.0 505.9 L3063.2 489.6 L3063.3 488.6 L3064.6 489.4 L3065.9 490.1 L3066.4 488.5 L3067.2 515.7 L3067.9 542.8 L3068.5 547.5 L3069.8 552.7 L3070.0 555.5 L3071.1 554.5 L3072.1 555.5 L3072.4 533.7 L3073.4 470.4 L3073.7 471.6 L3075.0 463.2 L3076.3 457.5 L3077.0 454.0 L3077.6 466.3 L3078.9 496.7 L3079.8 515.1 L3080.2 577.3 L3080.3 596.0 L3081.3 600.2 L3081.5 600.2 L3082.8 602.8 L3084.1 599.7 L3084.9 600.2 L3085.4 536.4 L3085.5 523.6 L3086.7 523.5 L3088.0 520.8 L3088.3 521.5 L3089.3 528.6 L3090.4 536.4 L3090.6 543.2 L3091.3 561.9 L3091.9 562.1 L3093.2 562.3 L3094.0 561.9 L3094.5 584.3 L3094.7 593.8 L3095.8 594.7 L3097.1 594.9 L3097.2 594.9 L3098.4 595.2 L3099.7 592.7 L3099.8 591.7 L3101.0 609.1 L3101.1 610.9 L3102.3 609.6 L3102.6 613.0 L3103.6 654.3 L3103.6 653.4 L3104.7 686.4 L3104.9 687.3 L3106.2 685.3 L3106.8 686.4 L3107.5 660.3 L3107.9 649.1 L3108.8 647.7 L3110.1 650.2 L3111.1 649.1 L3111.4 648.7 L3112.7 653.4 L3113.2 655.5 L3114.0 659.8 L3115.3 667.7 L3115.3 666.2 L3116.6 674.0 L3117.4 678.9 L3117.9 682.7 L3119.2 692.2 L3119.6 696.0 L3120.5 704.3 L3121.7 710.9 L3121.8 712.6 L3123.1 717.1 L3124.4 721.5 L3124.5 723.6 L3125.7 727.8 L3126.0 730.0 L3127.0 736.9 L3128.3 748.4 L3129.6 745.5 L3130.9 768.2 L3131.0 769.0 L3132.2 782.8 L3133.5 795.5 L3134.8 810.4 L3135.0 813.0 L3136.1 828.2 L3137.4 838.6 L3138.7 854.1 L3139.0 858.0 L3140.0 872.6 L3141.3 888.5 L3142.0 898.0 L3142.6 903.0 L3143.9 915.4 L3145.2 930.6 L3146.0 938.0 L3146.5 945.3 L3147.8 961.7 L3149.1 976.0 L3150.0 987.0 L3150.4 991.8 L3151.7 1000.6 L3153.0 1013.5 L3154.0 1022.0 L3154.3 1025.2 L3155.6 1043.5 L3156.9 1061.6 L3157.0 1062.0 L3158.2 1069.0 L3159.5 1068.9 L3160.8 1087.8 L3162.0 1096.0 L3162.1 1095.9 L3163.4 1111.5 L3164.7 1124.6 L3166.0 1141.0 L3166.0 1141.0 L3167.3 1144.6 L3168.6 1147.3 L3169.9 1151.4 L3170.0 1151.0 L3171.2 1174.6 L3172.0 1191.0 L3172.5 1192.5 L3173.8 1194.7 L3175.0 1200.0 L3175.1 1200.3 L3176.4 1202.0 L3177.7 1205.3 L3179.0 1208.6 L3180.3 1211.7 L3181.0 1213.0 L3181.6 1214.3 L3182.9 1221.6 L3184.2 1230.2 L3185.0 1235.0 L3185.5 1239.1 L3186.8 1248.0 L3188.0 1256.0 L3188.1 1258.1 L3189.4 1272.0 L3190.7 1284.5 L3191.0 1287.0 L3192.0 1291.7 L3193.3 1296.7 L3194.6 1303.0 L3195.0 1306.0 L3195.9 1304.2 L3197.2 1303.4 L3198.0 1302.0 L3198.5 1305.3 L3199.8 1312.8 L3201.1 1320.4 L3202.0 1326.0 L3202.4 1326.8 L3203.7 1326.2 L3205.0 1326.4 L3206.0 1326.0 L3206.3 1325.3 L3207.6 1319.5 L3208.9 1314.1 L3209.0 1315.0 L3210.2 1321.6 L3211.5 1328.0 L3212.0 1330.0 L3212.8 1335.6 L3214.1 1344.9 L3215.0 1352.0 L3215.4 1348.3 L3216.7 1323.9 L3218.0 1303.7 L3218.0 1304.0 L3219.3 1303.0 L3220.0 1302.0 L3220.6 1312.9 L3221.9 1341.1 L3222.0 1343.0 L3223.2 1338.4 L3224.5 1354.0 L3225.8 1360.4 L3227.0 1365.0 L3227.1 1365.7 L3228.4 1373.9 L3229.7 1379.7 L3231.0 1386.5 L3231.0 1387.0 L3232.3 1395.6 L3233.6 1405.0 L3234.9 1412.7 L3235.0 1413.0 L3236.2 1409.6 L3237.5 1423.5 L3238.8 1431.8 L3240.0 1434.0 L3240.1 1428.8 L3241.4 1436.1 L3242.7 1437.0 L3244.0 1440.3 L3245.3 1440.8 L3246.0 1443.0 L3246.6 1445.0 L3247.9 1445.9 L3249.2 1450.1 L3250.5 1453.0 L3251.8 1451.3 L3253.0 1456.0 L3253.1 1456.3 L3254.4 1453.8 L3255.7 1451.6 L3257.0 1451.3 L3257.0 1452.0 L3258.3 1447.5 L3259.6 1444.8 L3260.9 1437.5 L3261.0 1439.0 L3262.2 1447.1 L3263.5 1455.6 L3264.0 1456.0 L3264.8 1461.9 L3266.1 1470.3 L3267.4 1478.1 L3268.0 1482.0 L3268.7 1477.2 L3270.0 1472.9 L3271.3 1469.2 L3272.6 1460.4 L3273.0 1458.0 L3273.9 1465.3 L3275.2 1469.6 L3276.5 1477.6 L3277.0 1482.0 L3277.8 1487.4 L3279.1 1496.6 L3280.0 1504.0 L3280.4 1507.8 L3281.7 1516.4 L3283.0 1528.6 L3284.0 1534.0 L3284.3 1535.4 L3285.6 1535.9 L3286.9 1539.1 L3288.2 1541.3 L3289.5 1541.0 L3290.0 1543.0 L3290.8 1538.6 L3292.1 1531.2 L3293.0 1525.0 L3293.4 1520.1 L3294.7 1504.8 L3296.0 1487.5 L3296.0 1486.0 L3297.3 1483.3 L3298.6 1482.7 L3299.9 1479.8 L3301.2 1479.8 L3302.0 1478.0 L3302.5 1471.1 L3303.8 1458.1 L3305.0 1443.0 L3305.1 1441.9 L3306.4 1421.8 L3307.7 1399.6 L3308.0 1395.0 L3309.0 1382.8 L3310.0 1374.0 L3310.3 1373.6 L3311.6 1360.2 L3312.9 1349.4 L3314.0 1340.0"/>
<path class="c" stroke="#0000ff" d="M61.6 1210.3 L62.9 1210.6 L64.2 1211.1 L65.5 1210.8 L66.8 1210.2 L68.1 1210.6 L69.4 1211.5 L70.7 1211.7 L72.0 1211.6 L73.3 1211.7 L74.6 1211.9 L75.9 1212.2 L77.2 1212.5 L78.5 1212.8 L79.8 1213.1 L81.1 1213.6 L82.4 1214.2 L83.7 1213.9 L85.0 1213.0 L86.0 1213.2 L86.3 1213.3 L87.6 1214.1 L88.9 1214.4 L90.2 1214.4 L91.5 1215.0 L92.8 1215.8 L94.1 1215.9 L95.4 1215.7 L96.7 1216.0 L98.0 1216.5 L99.3 1216.7 L100.6 1216.7 L101.9 1217.1 L103.2 1217.7 L104.5 1218.1 L105.8 1218.5 L107.1 1218.5 L108.4 1218.3 L109.7 1218.5 L110.0 1218.6 L111.0 1218.9 L112.3 1218.8 L113.6 1218.6 L114.9 1219.1 L116.2 1219.9 L117.5 1220.4 L118.8 1220.8 L120.1 1220.8 L121.4 1220.6 L122.7 1221.0 L124.0 1221.8 L125.3 1221.5 L126.6 1220.8 L127.9 1220.7 L129.2 1221.0 L130.5 1221.4 L131.8 1221.7 L133.1 1222.2 L134.4 1222.6 L135.7 1223.0 L137.0 1223.4 L138.3 1223.6 L139.6 1223.8 L140.9 1223.9 L142.2 1224.1 L143.5 1224.5 L144.8 1224.9 L146.1 1224.9 L146.4 1224.8 L147.4 1224.6 L148.7 1224.5 L150.0 1224.4 L151.3 1224.5 L152.6 1224.6 L153.9 1225.5 L155.2 1226.6 L156.5 1226.1 L157.8 1224.9 L159.1 1225.1 L160.4 1225.9 L161.7 1226.5 L163.0 1227.1 L164.3 1227.2 L165.6 1227.0 L166.9 1226.8 L168.2 1226.5 L169.5 1226.7 L170.8 1227.0 L172.1 1227.4 L173.4 1227.7 L174.7 1228.0 L176.0 1228.2 L177.3 1227.9 L178.6 1227.4 L179.9 1227.6 L181.2 1228.2 L182.5 1228.3 L182.6 1228.3 L183.8 1228.3 L185.1 1228.5 L186.4 1228.9 L187.7 1229.1 L189.0 1229.3 L190.3 1229.1 L191.6 1228.7 L192.9 1228.4 L194.2 1228.2 L195.5 1228.5 L196.8 1229.2 L198.1 1229.7 L199.4 1230.2 L200.7 1230.2 L202.0 1229.9 L203.3 1229.8 L204.6 1229.7 L205.9 1230.1 L206.7 1230.5 L207.2 1230.7 L208.5 1230.2 L209.8 1229.1 L211.1 1229.1 L212.4 1229.5 L213.7 1229.3 L215.0 1228.6 L216.3 1228.4 L217.6 1228.4 L218.9 1228.3 L220.2 1228.0 L221.5 1228.1 L222.8 1228.3 L224.1 1227.6 L225.4 1226.6 L226.7 1226.3 L228.0 1226.1 L229.3 1225.7 L230.6 1225.2 L230.8 1225.1 L231.9 1225.3 L233.2 1225.7 L234.5 1225.6 L235.8 1225.1 L237.1 1225.1 L238.4 1225.2 L239.7 1224.8 L241.0 1224.2 L242.3 1224.1 L243.6 1224.1 L244.9 1224.3 L246.2 1224.5 L247.5 1224.1 L248.8 1223.5 L250.1 1223.3 L251.4 1223.2 L252.7 1222.9 L254.0 1222.5 L255.3 1221.8 L256.6 1221.0 L257.0 1220.8 L257.9 1219.8 L259.2 1217.4 L260.5 1214.9 L261.8 1212.4 L262.0 1212.0 L263.1 1207.9 L264.4 1201.7 L265.7 1197.5 L265.8 1197.3 L267.0 1195.6 L268.3 1193.5 L269.4 1192.2 L269.6 1192.2 L270.9 1195.4 L272.2 1200.4 L273.0 1202.0 L273.5 1202.2 L274.8 1202.7 L276.1 1203.5 L277.4 1204.4 L278.7 1205.4 L280.0 1206.3 L281.3 1206.7 L282.6 1206.9 L283.9 1206.9 L285.2 1207.0 L286.5 1207.1 L287.8 1207.4 L289.1 1207.7 L290.4 1208.1 L291.0 1208.2 L291.7 1208.2 L293.0 1208.0 L294.3 1208.3 L295.6 1208.7 L296.9 1208.9 L298.2 1209.0 L299.5 1208.7 L300.8 1208.2 L302.1 1208.5 L303.4 1209.2 L304.7 1209.9 L306.0 1210.5 L307.3 1210.5 L308.6 1210.1 L309.9 1210.1 L311.2 1210.4 L312.5 1210.4 L313.8 1210.4 L315.1 1210.5 L316.4 1210.7 L317.7 1211.2 L319.0 1211.8 L320.3 1211.7 L321.6 1211.5 L322.9 1211.3 L324.2 1211.2 L325.5 1210.8 L326.8 1210.3 L327.0 1210.2 L328.1 1210.8 L329.4 1211.7 L330.7 1211.7 L332.0 1211.4 L333.3 1211.4 L334.6 1211.6 L335.9 1212.3 L337.2 1213.2 L338.5 1213.5 L339.8 1213.6 L341.1 1213.1 L342.4 1212.5 L343.7 1212.9 L345.0 1213.8 L346.3 1214.1 L347.6 1214.1 L348.9 1213.9 L350.2 1213.6 L351.5 1213.9 L352.8 1214.5 L354.1 1214.2 L355.4 1213.6 L356.7 1213.6 L358.0 1213.8 L359.3 1213.9 L360.6 1213.9 L361.9 1214.1 L363.2 1214.3 L363.4 1214.3 L364.5 1214.8 L365.8 1215.5 L367.1 1215.4 L368.4 1214.8 L369.7 1214.8 L371.0 1214.9 L372.3 1215.1 L373.6 1215.3 L374.9 1215.7 L376.2 1216.1 L377.5 1216.2 L378.8 1216.2 L380.1 1216.5 L381.4 1217.0 L382.7 1216.9 L384.0 1216.5 L385.3 1216.3 L386.6 1216.3 L387.9 1216.5 L389.2 1216.8 L390.5 1217.0 L391.8 1217.3 L393.1 1217.2 L394.4 1216.9 L395.7 1217.1 L397.0 1217.5 L398.3 1218.0 L399.6 1218.4 L399.6 1218.4 L400.9 1218.1 L402.2 1217.3 L403.5 1217.1 L404.8 1217.1 L406.1 1217.2 L407.4 1217.4 L408.7 1216.9 L410.0 1216.1 L411.3 1215.6 L412.6 1215.4 L413.9 1215.1 L415.2 1214.8 L416.5 1214.9 L417.8 1215.2 L419.1 1215.3 L420.4 1215.3 L421.0 1215.3 L421.7 1219.1 L423.0 1230.7 L423.0 1230.7 L424.3 1233.6 L425.6 1235.3 L426.0 1235.6 L426.9 1236.5 L428.2 1237.6 L429.5 1238.3 L430.8 1238.8 L432.1 1238.9 L433.4 1238.7 L434.7 1239.2 L436.0 1240.0 L437.3 1240.5 L438.6 1240.8 L439.9 1241.3 L441.2 1241.8 L442.5 1241.9 L443.8 1242.0 L445.1 1242.1 L446.4 1242.4 L447.7 1242.8 L449.0 1243.3 L450.0 1243.5 L450.3 1243.6 L451.6 1243.7 L452.9 1244.6 L454.2 1245.7 L455.5 1246.4 L456.8 1247.0 L458.1 1247.8 L459.4 1248.8 L460.7 1249.3 L462.0 1249.6 L463.3 1250.3 L464.6 1251.2 L465.9 1251.8 L467.2 1252.3 L468.5 1252.9 L469.8 1253.4 L471.1 1254.3 L472.0 1255.1 L472.4 1255.4 L473.7 1255.8 L475.0 1256.0 L476.3 1256.5 L477.6 1257.3 L478.9 1257.5 L480.2 1257.5 L481.5 1258.0 L482.8 1258.8 L484.1 1259.0 L485.4 1258.9 L486.7 1259.3 L488.0 1260.1 L489.3 1260.6 L490.6 1261.0 L491.9 1261.5 L493.2 1262.2 L494.5 1262.6 L495.8 1262.8 L497.0 1263.0 L497.1 1263.0 L498.4 1263.2 L499.7 1263.7 L501.0 1264.3 L502.3 1264.6 L503.6 1264.7 L504.9 1264.9 L506.2 1265.3 L507.5 1265.6 L508.8 1266.0 L510.1 1266.1 L511.4 1266.1 L512.7 1266.2 L514.0 1266.4 L515.3 1266.7 L516.6 1267.2 L517.9 1267.4 L519.2 1267.4 L520.5 1267.8 L521.0 1268.0 L521.8 1268.3 L523.1 1268.9 L524.4 1269.5 L525.7 1269.9 L527.0 1270.2 L528.3 1270.3 L529.6 1270.3 L530.9 1270.3 L532.2 1270.2 L533.5 1270.4 L534.0 1270.6 L534.8 1270.8 L536.1 1270.8 L537.4 1270.5 L538.7 1270.5 L540.0 1270.4 L541.3 1269.7 L542.6 1268.6 L543.9 1267.8 L545.2 1267.1 L546.5 1266.5 L547.8 1265.9 L549.1 1264.7 L550.4 1263.3 L551.0 1262.7 L551.7 1261.9 L553.0 1259.4 L554.3 1256.2 L555.6 1252.9 L556.9 1249.5 L558.2 1246.8 L559.0 1245.8 L559.5 1245.3 L560.8 1244.2 L562.1 1243.3 L563.4 1242.6 L564.7 1241.8 L566.0 1240.9 L567.3 1240.7 L568.6 1240.8 L569.9 1240.5 L571.0 1240.1 L571.2 1240.0 L572.5 1239.7 L573.8 1239.5 L575.1 1239.1 L576.4 1238.7 L577.7 1238.5 L579.0 1238.5 L580.3 1238.3 L581.6 1238.1 L582.9 1238.0 L584.2 1238.0 L585.5 1238.1 L586.8 1238.3 L588.1 1238.0 L589.4 1237.5 L590.7 1236.8 L592.0 1236.0 L593.3 1235.7 L594.6 1235.6 L595.9 1235.3 L596.0 1235.2 L597.2 1234.8 L598.5 1234.4 L599.8 1234.2 L601.1 1234.0 L602.4 1233.8 L603.7 1233.3 L605.0 1232.6 L606.3 1231.7 L607.6 1230.8 L608.9 1230.2 L610.2 1229.9 L611.5 1229.2 L612.8 1228.4 L614.1 1227.8 L615.4 1227.3 L616.0 1227.1 L616.7 1227.0 L618.0 1226.8 L619.3 1226.7 L620.6 1226.7 L621.9 1227.1 L623.2 1227.6 L624.5 1227.1 L625.8 1226.1 L627.1 1226.2 L628.4 1226.9 L629.7 1227.0 L631.0 1226.9 L632.3 1226.5 L633.6 1225.9 L634.9 1225.7 L636.2 1225.7 L637.5 1225.5 L638.8 1225.2 L640.1 1225.1 L641.4 1225.2 L642.7 1225.3 L644.0 1225.4 L645.0 1225.3 L645.3 1225.2 L646.6 1224.9 L647.9 1224.9 L649.2 1225.1 L650.5 1225.1 L651.8 1225.0 L653.1 1224.7 L654.4 1224.3 L655.7 1224.1 L657.0 1224.0 L658.3 1223.7 L659.6 1223.5 L660.9 1223.4 L662.2 1223.4 L663.5 1223.0 L664.8 1222.4 L666.1 1222.4 L667.4 1222.8 L668.7 1222.7 L670.0 1222.5 L671.3 1222.2 L672.6 1221.7 L673.9 1222.1 L675.2 1222.9 L676.5 1222.5 L677.8 1221.4 L679.1 1221.0 L680.4 1221.0 L681.7 1221.1 L683.0 1221.4 L684.3 1221.0 L685.6 1220.3 L686.9 1220.2 L688.2 1220.5 L689.5 1220.4 L690.8 1220.2 L692.1 1220.2 L693.4 1220.3 L694.7 1220.6 L695.0 1220.6 L696.0 1220.8 L697.3 1221.0 L698.6 1221.2 L699.9 1221.4 L701.2 1221.7 L702.5 1221.8 L703.8 1221.8 L705.1 1222.0 L706.4 1222.2 L707.7 1222.2 L709.0 1222.2 L710.3 1222.0 L711.6 1221.8 L712.9 1222.2 L714.2 1222.8 L715.5 1222.8 L716.8 1222.5 L718.1 1222.4 L719.4 1222.5 L720.0 1222.7 L720.7 1223.1 L722.0 1223.9 L723.3 1224.2 L724.6 1224.2 L725.9 1224.2 L727.2 1224.3 L728.5 1224.6 L729.8 1225.0 L731.1 1225.4 L732.4 1225.7 L733.7 1225.5 L735.0 1225.2 L736.3 1225.5 L737.6 1226.2 L738.9 1226.4 L740.2 1226.3 L741.5 1226.8 L742.8 1227.5 L744.1 1227.7 L745.0 1227.7 L745.4 1227.7 L746.7 1228.3 L748.0 1229.1 L749.3 1229.3 L750.6 1229.2 L751.9 1229.0 L753.2 1228.8 L754.5 1229.1 L755.8 1229.6 L757.1 1229.8 L758.4 1229.8 L759.7 1230.4 L760.0 1230.6 L761.0 1231.8 L762.3 1234.5 L763.6 1237.8 L764.9 1240.8 L766.2 1242.7 L767.0 1242.9 L767.5 1242.6 L768.8 1241.4 L770.1 1240.5 L771.4 1239.7 L772.7 1238.7 L774.0 1237.7 L775.3 1236.8 L776.6 1236.2 L777.0 1236.1 L777.9 1236.5 L779.2 1237.4 L780.5 1238.0 L781.8 1238.6 L783.1 1240.2 L784.4 1242.2 L785.7 1243.4 L787.0 1244.0 L788.3 1244.7 L789.0 1244.9 L789.6 1245.0 L790.9 1244.9 L792.2 1244.6 L793.5 1244.2 L794.8 1243.7 L796.1 1243.0 L797.4 1242.2 L798.7 1241.9 L800.0 1242.0 L800.0 1242.0 L801.3 1241.8 L802.6 1241.4 L803.9 1241.3 L805.2 1241.3 L806.5 1241.8 L807.8 1242.5 L809.1 1242.7 L810.4 1242.7 L811.7 1242.5 L813.0 1242.2 L814.3 1242.4 L815.6 1242.8 L816.9 1243.3 L818.2 1243.8 L819.5 1244.4 L820.8 1245.1 L822.1 1245.4 L823.4 1245.5 L824.7 1245.7 L826.0 1245.9 L827.3 1245.6 L828.6 1245.1 L829.9 1245.5 L831.2 1246.2 L832.5 1246.8 L833.8 1247.2 L835.1 1247.5 L836.4 1247.7 L837.7 1248.0 L839.0 1248.2 L839.0 1248.2 L840.3 1248.3 L841.6 1248.4 L842.9 1249.0 L844.2 1249.9 L845.5 1250.3 L846.8 1250.6 L848.1 1250.6 L849.4 1250.4 L850.7 1250.5 L852.0 1250.5 L853.3 1251.5 L854.6 1252.7 L855.9 1252.8 L857.2 1252.4 L858.5 1252.9 L859.8 1253.7 L861.1 1254.4 L862.4 1254.9 L863.7 1254.7 L865.0 1254.1 L866.3 1254.4 L867.6 1255.0 L868.9 1255.2 L870.2 1255.2 L871.5 1255.5 L872.8 1255.9 L874.1 1256.1 L875.4 1256.1 L876.7 1256.5 L878.0 1257.0 L878.0 1257.0 L879.3 1256.7 L880.6 1256.0 L881.9 1255.3 L883.2 1254.4 L884.5 1253.8 L885.8 1253.2 L887.1 1252.0 L888.4 1250.5 L889.7 1249.1 L891.0 1247.9 L892.3 1247.3 L893.6 1246.9 L894.9 1245.4 L896.2 1243.4 L897.5 1242.1 L898.8 1241.4 L900.0 1240.8 L900.1 1240.7 L901.4 1240.2 L902.7 1239.3 L904.0 1238.3 L905.3 1237.3 L906.6 1236.3 L907.9 1236.3 L909.2 1236.6 L910.5 1235.8 L911.8 1234.7 L913.1 1233.9 L914.4 1233.4 L915.7 1232.9 L917.0 1232.4 L918.3 1231.7 L919.6 1230.9 L920.9 1230.3 L922.2 1229.7 L923.5 1229.4 L924.8 1229.3 L926.1 1229.3 L927.4 1229.5 L928.7 1228.8 L930.0 1227.8 L931.3 1227.2 L932.6 1226.7 L933.9 1225.8 L935.2 1224.6 L936.5 1224.2 L937.8 1224.2 L939.0 1223.7 L939.1 1223.7 L940.4 1222.9 L941.7 1222.7 L943.0 1222.9 L944.3 1222.4 L945.6 1221.6 L946.9 1221.2 L948.2 1220.8 L949.5 1220.4 L950.8 1219.9 L952.1 1219.3 L953.4 1218.8 L954.7 1218.1 L956.0 1217.4 L957.3 1217.4 L958.6 1217.6 L959.9 1217.0 L961.2 1216.1 L962.5 1215.6 L963.8 1215.3 L965.1 1215.2 L966.4 1215.2 L967.7 1214.9 L969.0 1214.5 L970.3 1214.4 L971.6 1214.4 L972.9 1214.4 L974.0 1214.5 L974.2 1214.5 L975.5 1214.2 L976.8 1213.8 L978.1 1213.5 L979.4 1213.3 L980.7 1213.1 L982.0 1212.8 L983.3 1212.8 L984.6 1212.9 L985.9 1212.2 L987.2 1211.2 L988.5 1211.2 L989.8 1211.7 L991.1 1211.5 L992.4 1210.9 L993.7 1210.6 L995.0 1210.4 L996.3 1210.4 L997.6 1210.7 L998.9 1210.5 L1000.2 1210.3 L1001.5 1210.3 L1002.8 1210.5 L1004.1 1210.5 L1005.4 1210.6 L1006.7 1209.8 L1008.0 1208.7 L1009.3 1208.7 L1010.6 1209.3 L1011.9 1209.8 L1013.2 1210.4 L1014.5 1210.2 L1015.8 1209.8 L1017.1 1209.8 L1018.4 1209.9 L1019.7 1209.7 L1021.0 1209.2 L1022.3 1208.7 L1023.6 1208.3 L1024.9 1208.2 L1026.0 1208.2 L1026.2 1208.3 L1027.5 1208.7 L1028.8 1209.2 L1030.1 1209.5 L1031.4 1209.5 L1032.7 1209.2 L1034.0 1208.7 L1035.3 1208.7 L1036.6 1208.9 L1037.9 1209.1 L1039.2 1209.2 L1040.5 1208.9 L1041.8 1208.3 L1043.1 1208.5 L1044.4 1209.0 L1045.7 1209.5 L1047.0 1210.2 L1048.3 1210.5 L1049.6 1210.7 L1050.9 1210.4 L1052.2 1209.7 L1053.5 1210.0 L1054.8 1210.6 L1056.1 1210.4 L1057.4 1209.7 L1058.7 1209.5 L1060.0 1209.5 L1060.0 1209.5 L1061.3 1209.3 L1062.6 1208.9 L1063.9 1209.6 L1065.2 1210.7 L1066.5 1210.9 L1067.8 1210.6 L1069.1 1211.3 L1070.4 1212.3 L1071.7 1212.4 L1073.0 1212.0 L1074.3 1212.0 L1075.6 1212.3 L1076.9 1212.1 L1078.2 1211.8 L1079.5 1212.6 L1080.8 1213.9 L1082.1 1214.1 L1083.4 1213.9 L1084.7 1214.1 L1086.0 1214.5 L1087.3 1214.4 L1088.6 1214.2 L1089.9 1215.0 L1091.2 1216.2 L1092.5 1216.9 L1093.8 1217.2 L1095.0 1217.3 L1095.1 1217.3 L1096.4 1217.1 L1097.7 1217.6 L1099.0 1218.2 L1100.3 1218.8 L1101.6 1219.5 L1102.9 1220.2 L1104.2 1220.9 L1105.5 1221.4 L1106.8 1221.8 L1108.1 1222.6 L1109.4 1223.8 L1110.7 1224.1 L1112.0 1224.2 L1113.3 1224.6 L1114.6 1225.1 L1115.9 1225.6 L1117.2 1226.2 L1118.5 1226.4 L1119.8 1226.3 L1121.1 1226.9 L1122.4 1227.9 L1123.7 1228.8 L1125.0 1229.7 L1126.3 1230.0 L1127.6 1230.0 L1128.9 1229.8 L1130.0 1229.6 L1130.2 1229.6 L1131.5 1229.8 L1132.8 1230.2 L1134.1 1229.9 L1135.4 1229.2 L1136.7 1229.4 L1138.0 1229.9 L1139.3 1230.3 L1140.6 1230.6 L1141.9 1230.7 L1143.2 1230.8 L1144.5 1230.5 L1145.8 1230.1 L1147.1 1230.3 L1148.4 1230.9 L1149.7 1231.2 L1151.0 1231.6 L1152.3 1231.2 L1153.6 1230.5 L1154.9 1230.6 L1156.2 1230.9 L1157.5 1230.6 L1158.8 1229.9 L1160.1 1229.7 L1161.4 1229.6 L1162.7 1230.1 L1164.0 1230.9 L1165.3 1231.1 L1166.6 1231.0 L1167.9 1231.0 L1169.0 1231.1 L1169.2 1231.1 L1170.5 1231.0 L1171.8 1230.9 L1173.1 1231.0 L1174.4 1231.2 L1175.7 1231.6 L1177.0 1232.1 L1178.3 1232.6 L1179.6 1233.1 L1180.9 1233.0 L1182.2 1232.6 L1183.5 1232.4 L1184.8 1232.2 L1186.1 1232.9 L1187.4 1234.1 L1188.7 1234.5 L1190.0 1234.6 L1191.3 1234.8 L1192.6 1235.1 L1193.9 1235.3 L1195.2 1235.4 L1196.5 1236.1 L1197.8 1237.1 L1199.1 1237.1 L1200.4 1236.7 L1201.7 1236.8 L1203.0 1237.2 L1204.3 1237.0 L1205.6 1236.5 L1206.9 1236.8 L1208.2 1237.4 L1209.5 1237.7 L1210.8 1237.8 L1212.1 1238.1 L1213.4 1238.5 L1214.7 1238.7 L1216.0 1239.0 L1217.3 1238.8 L1218.6 1238.6 L1219.9 1239.0 L1221.0 1239.7 L1221.2 1239.8 L1222.5 1239.4 L1223.8 1238.4 L1225.1 1238.1 L1226.4 1238.0 L1227.7 1237.9 L1229.0 1237.7 L1230.3 1237.0 L1231.6 1236.1 L1232.9 1235.9 L1234.2 1235.9 L1235.5 1235.5 L1236.8 1234.9 L1238.1 1234.1 L1239.4 1233.2 L1240.7 1232.9 L1242.0 1232.9 L1243.3 1232.1 L1244.6 1230.9 L1245.9 1230.1 L1247.2 1229.6 L1248.5 1228.7 L1249.8 1227.8 L1251.1 1227.0 L1252.4 1226.2 L1253.7 1225.9 L1255.0 1225.8 L1256.0 1225.6 L1256.3 1225.6 L1257.6 1225.3 L1258.9 1225.0 L1260.2 1224.7 L1261.5 1224.6 L1262.8 1224.7 L1264.1 1223.9 L1265.4 1222.7 L1266.7 1222.5 L1268.0 1222.6 L1269.3 1222.3 L1270.6 1221.9 L1271.9 1222.2 L1273.2 1222.9 L1274.5 1222.5 L1275.8 1221.6 L1277.1 1221.1 L1278.4 1220.8 L1279.7 1220.3 L1281.0 1219.7 L1282.0 1219.6 L1282.3 1219.6 L1283.6 1219.7 L1284.9 1219.1 L1286.2 1218.0 L1287.5 1217.4 L1288.8 1216.8 L1290.1 1215.5 L1291.4 1213.9 L1292.7 1213.4 L1294.0 1213.3 L1295.3 1212.2 L1296.0 1211.4 L1296.6 1210.5 L1297.9 1208.1 L1299.2 1205.0 L1300.5 1201.6 L1301.8 1198.2 L1303.1 1194.9 L1304.4 1192.1 L1305.7 1190.9 L1306.0 1190.9 L1307.0 1191.0 L1308.3 1191.6 L1309.6 1192.5 L1310.9 1193.3 L1312.2 1194.0 L1313.5 1194.5 L1314.8 1194.7 L1316.0 1194.9 L1316.1 1194.9 L1317.4 1195.0 L1318.7 1194.9 L1320.0 1194.7 L1321.3 1194.8 L1322.6 1195.1 L1323.9 1195.2 L1325.2 1195.2 L1326.5 1194.9 L1327.8 1194.5 L1329.1 1194.7 L1330.4 1195.2 L1331.7 1194.5 L1333.0 1193.4 L1334.3 1193.2 L1335.6 1193.5 L1336.9 1193.9 L1338.2 1194.3 L1339.5 1194.0 L1340.8 1193.2 L1342.1 1192.6 L1343.4 1192.1 L1344.7 1192.5 L1346.0 1193.3 L1347.3 1193.3 L1348.6 1192.9 L1349.9 1192.4 L1351.2 1191.8 L1352.5 1191.9 L1353.8 1192.5 L1355.1 1192.2 L1356.4 1191.6 L1357.7 1191.3 L1359.0 1191.2 L1360.3 1191.4 L1361.0 1191.6 L1361.6 1191.8 L1362.9 1191.8 L1364.2 1191.8 L1365.5 1191.7 L1366.8 1191.6 L1368.1 1191.8 L1369.4 1192.1 L1370.7 1192.2 L1372.0 1192.1 L1373.3 1192.4 L1374.6 1192.9 L1375.9 1193.2 L1377.2 1193.3 L1378.5 1193.6 L1379.8 1194.1 L1381.1 1194.1 L1382.4 1193.9 L1383.7 1193.8 L1385.0 1193.8 L1386.3 1193.9 L1387.6 1194.1 L1388.9 1194.5 L1390.2 1195.0 L1391.5 1195.6 L1392.8 1196.4 L1394.1 1196.5 L1395.4 1196.5 L1396.0 1196.4 L1396.7 1196.2 L1398.0 1195.9 L1399.3 1196.3 L1400.6 1196.9 L1401.9 1196.7 L1403.2 1196.2 L1404.5 1196.6 L1405.8 1197.4 L1407.1 1197.5 L1408.4 1197.2 L1409.7 1197.5 L1411.0 1197.9 L1412.3 1198.2 L1413.6 1198.2 L1414.9 1198.2 L1416.2 1198.1 L1417.5 1198.2 L1418.8 1198.5 L1420.1 1198.4 L1421.4 1198.2 L1422.7 1198.4 L1424.0 1198.8 L1425.3 1199.3 L1426.6 1199.8 L1427.9 1200.6 L1429.2 1201.7 L1430.5 1201.4 L1431.8 1200.5 L1433.1 1200.1 L1434.4 1200.1 L1435.7 1199.9 L1437.0 1199.7 L1438.3 1200.2 L1439.6 1200.9 L1440.9 1200.7 L1442.2 1200.0 L1443.5 1200.0 L1444.8 1200.4 L1445.0 1200.4 L1446.1 1200.8 L1447.4 1201.3 L1448.7 1201.2 L1450.0 1200.8 L1451.3 1201.4 L1452.6 1202.3 L1453.9 1202.6 L1455.2 1202.6 L1456.5 1202.3 L1457.8 1201.9 L1459.1 1201.8 L1460.4 1201.9 L1461.7 1201.9 L1463.0 1201.8 L1464.3 1201.8 L1465.6 1201.9 L1466.9 1202.3 L1468.2 1203.0 L1469.5 1203.3 L1470.8 1203.5 L1472.1 1203.5 L1473.4 1203.5 L1474.7 1203.6 L1476.0 1203.7 L1477.3 1203.6 L1478.6 1203.4 L1479.9 1203.6 L1481.2 1204.0 L1482.5 1203.8 L1483.8 1203.4 L1485.1 1203.6 L1486.4 1204.2 L1487.7 1204.7 L1489.0 1205.2 L1490.3 1205.5 L1491.6 1205.5 L1492.9 1205.2 L1494.2 1204.8 L1495.0 1204.7 L1495.5 1204.8 L1496.8 1204.9 L1498.1 1205.4 L1499.4 1206.0 L1500.7 1206.4 L1502.0 1206.7 L1503.3 1206.2 L1504.6 1205.3 L1505.9 1205.4 L1507.2 1205.8 L1508.5 1206.2 L1509.8 1206.5 L1511.1 1206.9 L1512.4 1207.3 L1513.7 1207.1 L1515.0 1206.5 L1516.3 1206.7 L1517.6 1207.2 L1518.9 1207.2 L1520.0 1206.9 L1520.2 1206.3 L1521.5 1191.3 L1522.0 1188.7 L1522.8 1189.1 L1524.1 1188.8 L1525.4 1188.1 L1526.7 1187.6 L1528.0 1187.4 L1529.3 1187.2 L1530.6 1187.0 L1531.9 1187.2 L1533.2 1187.5 L1534.5 1187.5 L1535.8 1187.3 L1537.1 1186.8 L1538.4 1186.2 L1539.7 1186.2 L1541.0 1186.5 L1542.3 1186.3 L1543.6 1185.8 L1544.9 1185.7 L1546.2 1185.8 L1547.5 1185.7 L1548.8 1185.5 L1550.1 1185.4 L1551.4 1185.4 L1552.7 1185.5 L1554.0 1185.6 L1555.3 1185.6 L1556.6 1185.5 L1557.9 1185.8 L1559.2 1186.2 L1560.5 1186.4 L1561.8 1186.5 L1563.1 1186.3 L1564.4 1185.9 L1565.7 1185.7 L1567.0 1185.4 L1568.3 1185.7 L1569.6 1186.3 L1570.9 1185.9 L1572.2 1185.0 L1573.5 1184.8 L1574.8 1184.8 L1575.0 1184.8 L1576.1 1186.5 L1577.4 1190.8 L1578.7 1195.6 L1580.0 1200.0 L1581.3 1203.0 L1582.0 1203.5 L1582.6 1203.5 L1583.9 1203.2 L1585.2 1202.7 L1586.5 1202.1 L1587.8 1201.5 L1589.1 1201.1 L1590.4 1200.9 L1591.7 1200.8 L1593.0 1200.6 L1594.3 1199.9 L1595.6 1198.9 L1596.9 1198.3 L1598.2 1197.7 L1599.5 1197.1 L1600.8 1196.3 L1602.1 1195.8 L1603.4 1195.4 L1604.0 1195.4 L1604.7 1195.5 L1606.0 1195.7 L1607.3 1195.4 L1608.6 1194.9 L1609.9 1194.1 L1611.2 1193.2 L1612.5 1192.7 L1613.8 1192.3 L1615.1 1192.0 L1616.4 1191.8 L1617.7 1191.7 L1619.0 1191.6 L1620.3 1191.0 L1621.6 1190.1 L1622.9 1189.7 L1624.2 1189.6 L1625.5 1188.9 L1626.8 1187.9 L1628.1 1187.5 L1629.4 1187.3 L1630.0 1187.3 L1630.7 1187.3 L1632.0 1187.4 L1633.3 1187.2 L1634.6 1186.8 L1635.9 1185.9 L1637.2 1184.7 L1638.5 1184.1 L1639.8 1183.6 L1641.1 1183.4 L1642.4 1183.3 L1643.7 1182.7 L1645.0 1181.7 L1646.3 1181.0 L1647.6 1180.4 L1648.9 1180.1 L1650.2 1179.9 L1651.5 1179.4 L1652.8 1178.9 L1654.1 1178.6 L1655.4 1178.4 L1656.7 1178.1 L1658.0 1177.6 L1659.3 1177.0 L1660.6 1176.3 L1661.9 1176.0 L1663.2 1176.0 L1664.5 1175.9 L1665.0 1175.9 L1665.8 1175.9 L1667.1 1175.6 L1668.4 1175.1 L1669.7 1175.0 L1671.0 1175.0 L1672.3 1175.4 L1673.6 1176.0 L1674.9 1175.6 L1676.2 1174.7 L1677.5 1175.0 L1678.8 1175.7 L1680.1 1175.8 L1681.4 1175.5 L1682.7 1175.3 L1684.0 1175.1 L1685.3 1175.2 L1686.6 1175.4 L1687.9 1175.4 L1689.2 1175.4 L1690.5 1175.5 L1691.8 1175.7 L1693.1 1175.4 L1694.4 1174.9 L1695.7 1174.8 L1697.0 1174.8 L1698.3 1174.8 L1699.0 1174.8 L1699.6 1174.8 L1700.9 1175.3 L1702.2 1175.9 L1703.5 1176.0 L1704.8 1175.8 L1706.1 1175.3 L1707.4 1174.8 L1708.7 1174.9 L1710.0 1175.1 L1711.3 1175.2 L1712.6 1175.2 L1713.9 1175.4 L1715.2 1175.8 L1716.5 1176.0 L1717.8 1176.2 L1719.1 1176.8 L1720.4 1177.6 L1721.7 1177.0 L1723.0 1176.0 L1724.3 1176.3 L1725.6 1177.3 L1726.9 1177.7 L1728.2 1177.6 L1729.5 1177.5 L1730.8 1177.4 L1732.1 1177.5 L1733.4 1177.9 L1734.7 1178.0 L1736.0 1178.1 L1737.3 1178.3 L1738.6 1178.7 L1739.9 1179.1 L1741.2 1179.6 L1742.5 1179.3 L1743.8 1178.7 L1745.1 1179.2 L1746.4 1180.2 L1747.7 1180.3 L1749.0 1179.9 L1749.0 1179.9 L1750.3 1180.3 L1751.6 1181.0 L1752.9 1181.1 L1754.2 1180.9 L1755.5 1181.1 L1756.8 1181.5 L1758.1 1181.6 L1759.4 1181.6 L1760.7 1181.8 L1762.0 1182.1 L1763.3 1182.1 L1764.6 1181.9 L1765.9 1181.8 L1767.2 1181.7 L1768.5 1182.1 L1769.8 1182.7 L1771.1 1183.0 L1772.4 1183.1 L1773.7 1183.6 L1775.0 1184.2 L1776.3 1183.6 L1777.6 1182.5 L1778.9 1182.7 L1780.2 1183.4 L1781.5 1184.0 L1782.8 1184.5 L1784.1 1184.3 L1785.4 1183.8 L1786.7 1183.9 L1788.0 1184.4 L1789.3 1185.2 L1790.6 1186.0 L1791.9 1186.3 L1793.2 1186.2 L1794.5 1185.8 L1795.8 1185.3 L1797.1 1185.7 L1798.4 1186.6 L1799.0 1186.8 L1799.7 1186.9 L1801.0 1187.0 L1802.3 1187.0 L1803.6 1187.1 L1804.9 1187.2 L1806.2 1187.2 L1807.5 1187.4 L1808.8 1187.5 L1810.1 1187.5 L1811.4 1187.4 L1812.7 1187.5 L1814.0 1187.8 L1815.3 1188.3 L1816.6 1188.9 L1817.9 1189.1 L1819.2 1189.1 L1820.5 1189.5 L1821.8 1190.2 L1823.1 1190.1 L1824.4 1189.5 L1825.7 1189.0 L1827.0 1188.5 L1828.3 1188.8 L1829.6 1189.5 L1830.9 1189.9 L1832.2 1190.1 L1833.0 1190.2 L1833.5 1190.2 L1834.8 1190.2 L1836.1 1190.1 L1837.4 1190.0 L1838.7 1189.7 L1840.0 1189.4 L1841.3 1189.7 L1842.6 1190.3 L1843.9 1190.0 L1845.2 1189.2 L1846.5 1189.2 L1847.8 1189.5 L1849.1 1189.3 L1850.4 1188.9 L1851.7 1188.5 L1853.0 1188.1 L1854.3 1188.4 L1855.6 1189.1 L1856.9 1188.4 L1858.2 1187.1 L1859.5 1186.9 L1860.8 1187.3 L1862.1 1187.6 L1863.4 1187.9 L1864.7 1187.7 L1866.0 1187.4 L1867.3 1187.4 L1868.6 1187.7 L1869.9 1187.5 L1871.2 1187.2 L1872.5 1187.0 L1873.8 1186.8 L1875.1 1187.3 L1876.4 1188.1 L1877.7 1187.8 L1878.0 1187.6 L1879.0 1187.1 L1880.3 1187.0 L1881.6 1187.1 L1882.9 1187.1 L1884.2 1187.1 L1885.5 1187.3 L1886.8 1187.8 L1888.1 1188.4 L1889.4 1189.2 L1890.7 1189.7 L1892.0 1190.0 L1893.3 1190.3 L1894.6 1190.5 L1895.9 1190.7 L1897.2 1190.9 L1898.5 1191.4 L1899.8 1192.2 L1901.1 1192.1 L1902.4 1191.6 L1903.7 1191.9 L1905.0 1192.5 L1906.3 1192.7 L1907.6 1192.8 L1908.0 1192.8 L1908.9 1192.7 L1910.2 1192.5 L1911.5 1192.7 L1912.8 1192.9 L1914.1 1192.8 L1915.4 1192.5 L1916.7 1192.4 L1918.0 1192.3 L1919.3 1192.7 L1920.6 1193.4 L1921.9 1193.4 L1923.2 1192.9 L1924.5 1192.8 L1925.8 1192.9 L1927.1 1192.6 L1928.4 1192.1 L1929.7 1192.1 L1931.0 1192.3 L1932.3 1192.2 L1933.6 1192.0 L1934.9 1191.9 L1936.2 1191.9 L1937.5 1192.1 L1938.8 1192.3 L1940.1 1191.7 L1941.4 1190.8 L1942.7 1190.5 L1944.0 1190.5 L1945.3 1190.4 L1946.6 1190.1 L1947.9 1189.3 L1948.0 1189.2 L1949.2 1188.1 L1950.5 1188.0 L1951.8 1188.5 L1953.1 1188.8 L1954.4 1189.1 L1955.7 1189.2 L1957.0 1189.2 L1958.3 1188.8 L1959.6 1188.2 L1960.9 1188.2 L1962.2 1188.5 L1963.5 1188.5 L1964.8 1188.3 L1966.1 1187.7 L1967.4 1187.0 L1968.7 1186.9 L1970.0 1187.2 L1971.3 1187.2 L1972.6 1187.0 L1973.9 1186.5 L1975.2 1185.8 L1976.5 1185.1 L1977.0 1184.8 L1977.8 1184.3 L1979.1 1184.4 L1980.4 1184.7 L1981.7 1184.2 L1983.0 1183.3 L1984.3 1182.6 L1985.6 1182.1 L1986.9 1181.7 L1988.2 1181.3 L1989.5 1180.8 L1990.8 1180.1 L1992.1 1179.8 L1993.4 1179.8 L1994.7 1179.4 L1996.0 1178.8 L1997.0 1178.5 L1997.3 1178.5 L1998.6 1178.1 L1999.9 1177.5 L2001.2 1176.7 L2002.5 1175.8 L2003.8 1174.7 L2005.1 1174.1 L2006.4 1173.7 L2007.7 1173.4 L2009.0 1173.2 L2010.3 1172.6 L2011.6 1171.8 L2012.9 1172.0 L2014.2 1172.7 L2015.5 1172.2 L2016.8 1171.1 L2017.0 1171.0 L2018.1 1170.8 L2019.4 1170.7 L2020.7 1171.1 L2022.0 1171.6 L2023.3 1171.8 L2024.6 1171.7 L2025.9 1171.6 L2027.2 1171.5 L2028.5 1171.5 L2029.8 1171.5 L2031.1 1171.8 L2032.4 1172.1 L2033.7 1172.3 L2035.0 1172.6 L2036.3 1172.7 L2037.6 1172.8 L2038.9 1172.7 L2040.2 1172.5 L2041.5 1172.6 L2042.8 1172.9 L2044.1 1173.2 L2045.4 1173.4 L2046.7 1173.5 L2047.0 1173.5 L2048.0 1173.5 L2049.3 1172.8 L2050.6 1171.6 L2051.9 1171.8 L2053.2 1172.5 L2054.5 1172.8 L2055.8 1172.8 L2057.1 1173.0 L2058.4 1173.2 L2059.7 1173.4 L2061.0 1173.5 L2062.3 1173.7 L2063.6 1174.0 L2064.9 1174.0 L2066.2 1174.0 L2067.5 1173.8 L2068.8 1173.7 L2070.1 1173.7 L2071.4 1173.7 L2072.7 1174.2 L2074.0 1174.7 L2075.3 1174.5 L2076.6 1173.8 L2077.0 1173.6 L2077.9 1173.9 L2079.2 1174.3 L2080.5 1174.7 L2081.8 1175.3 L2083.1 1175.3 L2084.4 1175.1 L2085.7 1174.8 L2087.0 1174.3 L2088.3 1174.8 L2089.6 1175.8 L2090.9 1176.1 L2092.2 1176.2 L2093.5 1176.4 L2094.8 1176.8 L2096.1 1177.3 L2097.4 1178.0 L2098.7 1178.2 L2100.0 1178.3 L2101.3 1178.4 L2102.6 1178.4 L2103.9 1178.8 L2105.2 1179.4 L2106.5 1179.6 L2107.8 1179.7 L2109.1 1179.7 L2110.4 1179.8 L2111.7 1179.9 L2113.0 1180.1 L2114.3 1180.1 L2115.6 1180.2 L2116.0 1180.2 L2116.9 1180.0 L2118.2 1179.8 L2119.5 1179.6 L2120.8 1179.4 L2122.1 1179.3 L2123.4 1179.3 L2124.7 1178.9 L2126.0 1178.4 L2127.3 1178.1 L2128.6 1177.8 L2129.9 1178.1 L2131.2 1178.8 L2132.5 1178.6 L2133.8 1178.0 L2135.0 1177.9 L2135.1 1177.9 L2136.4 1181.4 L2137.7 1188.0 L2139.0 1194.1 L2140.0 1195.9 L2140.3 1196.0 L2141.6 1196.0 L2142.9 1195.9 L2144.2 1195.9 L2145.5 1195.8 L2146.8 1195.7 L2148.1 1195.4 L2149.4 1194.9 L2150.7 1195.1 L2152.0 1195.4 L2153.3 1195.0 L2154.6 1194.4 L2155.9 1194.4 L2157.2 1194.7 L2158.5 1194.1 L2159.8 1193.0 L2161.1 1192.7 L2162.4 1192.8 L2163.7 1193.2 L2165.0 1193.7 L2166.3 1193.5 L2167.6 1193.1 L2168.9 1192.8 L2170.2 1192.7 L2171.0 1192.7 L2171.5 1192.8 L2172.8 1193.2 L2174.1 1193.1 L2175.4 1192.8 L2176.7 1193.1 L2178.0 1193.6 L2179.3 1193.5 L2180.6 1193.1 L2181.9 1193.6 L2183.2 1194.4 L2184.5 1194.9 L2185.8 1195.2 L2187.1 1195.7 L2188.4 1196.4 L2189.7 1197.0 L2191.0 1197.4 L2192.3 1197.4 L2193.6 1197.2 L2194.9 1197.8 L2196.0 1198.6 L2196.2 1198.8 L2197.5 1198.8 L2198.8 1198.3 L2200.1 1198.1 L2201.4 1197.9 L2202.7 1197.9 L2204.0 1198.0 L2205.3 1199.0 L2206.6 1200.4 L2207.9 1200.6 L2209.2 1200.4 L2210.5 1200.3 L2211.8 1200.3 L2213.1 1200.5 L2214.4 1200.7 L2215.7 1200.8 L2217.0 1200.9 L2218.3 1201.6 L2219.6 1202.5 L2220.9 1202.7 L2222.2 1202.4 L2223.5 1202.9 L2224.8 1203.7 L2226.0 1203.7 L2226.1 1203.7 L2227.4 1203.3 L2228.7 1202.9 L2230.0 1202.6 L2231.3 1203.3 L2232.6 1204.5 L2233.9 1204.9 L2235.2 1204.8 L2236.5 1205.0 L2237.8 1205.4 L2239.1 1206.0 L2240.4 1206.9 L2241.7 1206.9 L2243.0 1206.6 L2244.3 1207.0 L2245.6 1207.7 L2246.9 1207.8 L2248.2 1207.6 L2249.5 1207.5 L2250.8 1207.4 L2252.1 1207.7 L2253.4 1208.2 L2254.7 1208.1 L2255.0 1208.0 L2256.0 1207.7 L2257.3 1208.0 L2258.6 1208.6 L2259.9 1208.7 L2261.2 1208.6 L2262.5 1208.4 L2263.8 1208.1 L2265.1 1208.2 L2266.4 1208.3 L2267.7 1208.4 L2269.0 1208.3 L2270.0 1208.2 L2270.3 1208.2 L2271.6 1207.7 L2272.9 1207.4 L2274.2 1207.0 L2275.5 1205.9 L2276.8 1204.4 L2278.1 1203.2 L2279.4 1202.0 L2280.0 1201.3 L2280.7 1199.7 L2282.0 1195.1 L2283.3 1190.7 L2284.6 1188.2 L2285.0 1188.1 L2285.9 1188.1 L2287.2 1188.3 L2288.5 1188.2 L2289.8 1188.1 L2291.1 1188.3 L2292.4 1188.6 L2293.7 1188.9 L2295.0 1189.2 L2296.3 1189.7 L2297.6 1190.4 L2298.9 1190.5 L2300.2 1190.3 L2301.5 1190.6 L2302.8 1191.1 L2304.1 1191.5 L2305.0 1191.7 L2305.4 1191.8 L2306.7 1191.6 L2308.0 1191.2 L2309.3 1190.5 L2310.6 1189.7 L2311.9 1189.7 L2313.2 1189.9 L2314.5 1190.0 L2315.8 1189.9 L2317.1 1189.4 L2318.4 1188.7 L2319.7 1188.5 L2321.0 1188.6 L2322.3 1188.2 L2323.6 1187.8 L2324.9 1187.4 L2326.2 1187.0 L2327.5 1186.6 L2328.8 1186.1 L2330.0 1185.8 L2330.1 1185.8 L2331.4 1185.5 L2332.7 1185.4 L2334.0 1185.3 L2335.3 1185.2 L2336.6 1185.1 L2337.9 1185.1 L2339.2 1185.0 L2340.5 1184.9 L2341.8 1184.7 L2343.1 1184.4 L2344.4 1184.0 L2345.7 1183.9 L2347.0 1183.9 L2348.3 1183.8 L2349.6 1183.8 L2350.9 1183.2 L2352.2 1182.5 L2353.5 1182.4 L2354.8 1182.5 L2356.1 1182.4 L2357.4 1182.3 L2358.7 1182.3 L2360.0 1182.3 L2361.3 1182.2 L2362.6 1182.1 L2363.9 1182.0 L2365.0 1181.9 L2365.2 1181.8 L2366.5 1181.6 L2367.8 1181.3 L2369.1 1181.5 L2370.4 1181.9 L2371.7 1181.9 L2373.0 1181.7 L2374.3 1181.2 L2375.6 1180.6 L2376.9 1180.7 L2378.2 1181.1 L2379.5 1180.9 L2380.8 1180.5 L2382.1 1180.8 L2383.4 1181.5 L2384.7 1181.1 L2386.0 1180.2 L2387.0 1179.7 L2387.3 1179.1 L2388.6 1168.0 L2389.9 1156.3 L2390.0 1155.9 L2391.2 1151.6 L2392.5 1147.8 L2393.8 1146.0 L2394.0 1145.9 L2395.1 1146.0 L2396.4 1146.4 L2397.7 1147.2 L2398.0 1147.4 L2399.0 1149.8 L2400.3 1155.6 L2401.6 1162.6 L2402.9 1168.8 L2404.0 1171.4 L2404.2 1171.6 L2405.5 1172.3 L2406.8 1173.0 L2408.1 1173.1 L2409.4 1173.0 L2410.7 1173.8 L2412.0 1174.9 L2413.3 1175.3 L2414.6 1175.3 L2415.9 1175.6 L2417.2 1175.9 L2418.5 1175.7 L2419.8 1175.4 L2421.1 1175.7 L2422.4 1176.4 L2423.7 1176.6 L2425.0 1176.7 L2426.3 1176.6 L2427.6 1176.5 L2428.9 1177.1 L2430.0 1178.0 L2430.2 1178.1 L2431.5 1178.2 L2432.8 1177.9 L2434.1 1177.8 L2435.4 1177.7 L2436.7 1177.9 L2438.0 1178.2 L2439.3 1178.6 L2440.6 1179.0 L2441.9 1179.3 L2443.2 1179.5 L2444.5 1179.5 L2445.8 1179.5 L2447.1 1179.8 L2448.4 1180.1 L2449.7 1180.3 L2451.0 1180.5 L2452.3 1180.0 L2453.6 1179.3 L2454.9 1179.3 L2456.2 1179.6 L2457.5 1179.6 L2458.8 1179.5 L2460.0 1179.6 L2460.1 1179.7 L2461.4 1179.2 L2462.7 1178.0 L2464.0 1176.5 L2465.3 1174.8 L2466.6 1173.5 L2467.0 1173.4 L2467.9 1173.5 L2469.2 1174.6 L2470.5 1177.0 L2471.8 1179.7 L2473.1 1181.7 L2474.0 1182.4 L2474.4 1182.5 L2475.7 1182.3 L2477.0 1181.8 L2478.3 1181.6 L2479.6 1181.7 L2480.9 1181.7 L2482.2 1181.7 L2483.5 1181.1 L2484.8 1180.3 L2486.1 1180.5 L2487.4 1181.1 L2488.7 1181.1 L2490.0 1180.8 L2491.3 1180.7 L2492.6 1180.7 L2493.9 1180.2 L2495.2 1179.7 L2496.5 1179.5 L2497.8 1179.5 L2499.0 1179.6 L2499.1 1179.6 L2500.4 1179.7 L2501.7 1180.0 L2503.0 1180.4 L2504.3 1180.6 L2505.6 1180.8 L2506.9 1181.1 L2508.2 1181.4 L2509.5 1182.1 L2510.8 1183.0 L2512.1 1183.5 L2513.4 1183.8 L2514.7 1183.8 L2516.0 1183.7 L2517.3 1184.0 L2518.6 1184.5 L2519.9 1185.4 L2521.2 1186.6 L2522.5 1186.9 L2523.8 1186.8 L2525.1 1187.4 L2526.4 1188.3 L2527.7 1188.9 L2529.0 1189.4 L2530.3 1189.3 L2531.6 1189.0 L2532.9 1189.1 L2534.2 1189.4 L2535.5 1189.7 L2536.8 1189.9 L2538.1 1189.9 L2539.0 1189.7 L2539.4 1189.6 L2540.7 1189.5 L2542.0 1189.4 L2543.3 1189.5 L2544.6 1189.7 L2545.9 1190.0 L2547.2 1190.4 L2548.5 1190.3 L2549.8 1189.9 L2551.1 1189.8 L2552.4 1189.9 L2553.7 1189.8 L2555.0 1189.8 L2556.3 1189.5 L2557.6 1189.3 L2558.9 1189.8 L2560.2 1190.6 L2561.5 1190.1 L2562.8 1189.0 L2564.1 1189.0 L2565.4 1189.5 L2566.7 1189.9 L2568.0 1190.2 L2569.3 1189.9 L2570.6 1189.4 L2571.9 1189.6 L2573.2 1190.2 L2574.0 1190.4 L2574.5 1190.5 L2575.8 1190.7 L2577.1 1190.4 L2578.4 1189.8 L2579.7 1189.9 L2581.0 1190.3 L2582.3 1190.2 L2583.6 1190.0 L2584.9 1190.3 L2586.2 1190.9 L2587.5 1191.1 L2588.8 1191.1 L2590.1 1191.2 L2591.4 1191.4 L2592.7 1191.7 L2594.0 1192.2 L2595.3 1192.2 L2596.6 1192.1 L2597.9 1192.3 L2599.2 1192.6 L2600.5 1192.6 L2601.8 1192.4 L2603.1 1192.0 L2604.0 1191.6 L2604.4 1191.5 L2605.7 1191.5 L2607.0 1191.9 L2608.3 1191.9 L2609.6 1191.8 L2610.9 1191.2 L2612.2 1190.3 L2613.5 1190.4 L2614.8 1190.9 L2616.1 1190.5 L2617.4 1189.7 L2618.7 1189.3 L2620.0 1188.9 L2621.3 1188.2 L2622.6 1187.4 L2623.9 1187.0 L2625.2 1186.8 L2626.5 1186.5 L2627.8 1186.1 L2629.1 1185.6 L2630.4 1185.0 L2631.7 1184.6 L2633.0 1184.3 L2634.3 1183.5 L2635.6 1182.5 L2636.9 1182.7 L2638.0 1183.3 L2638.2 1183.5 L2639.5 1183.0 L2640.8 1182.0 L2642.1 1181.3 L2643.4 1180.7 L2644.7 1180.6 L2646.0 1180.8 L2647.3 1180.7 L2648.6 1180.5 L2649.9 1180.5 L2651.2 1180.7 L2652.5 1180.3 L2653.8 1179.7 L2655.1 1179.6 L2656.4 1179.7 L2657.7 1179.4 L2659.0 1178.8 L2660.3 1179.1 L2661.6 1179.9 L2662.9 1179.7 L2664.2 1179.0 L2665.5 1178.9 L2666.8 1179.2 L2668.0 1178.6 L2668.1 1178.6 L2669.4 1177.5 L2670.7 1177.4 L2672.0 1177.8 L2673.3 1177.5 L2674.6 1176.9 L2675.9 1176.9 L2677.2 1177.2 L2678.5 1177.3 L2679.8 1177.2 L2681.1 1176.6 L2682.4 1175.8 L2683.7 1175.6 L2685.0 1175.6 L2686.3 1175.5 L2687.6 1175.4 L2688.0 1175.3 L2688.9 1175.1 L2690.2 1174.9 L2691.5 1174.9 L2692.8 1175.0 L2694.1 1174.8 L2695.4 1174.6 L2696.7 1174.3 L2698.0 1174.0 L2699.3 1174.1 L2700.6 1174.4 L2701.9 1174.4 L2703.2 1174.4 L2704.5 1173.9 L2705.8 1173.2 L2707.1 1173.0 L2708.4 1173.1 L2709.7 1173.2 L2711.0 1173.2 L2712.3 1173.2 L2713.6 1173.0 L2714.9 1172.8 L2716.2 1172.7 L2717.5 1172.9 L2718.0 1173.1 L2718.8 1173.4 L2720.1 1173.5 L2721.4 1173.5 L2722.7 1173.5 L2724.0 1173.5 L2725.3 1173.3 L2726.6 1173.1 L2727.9 1173.5 L2729.2 1174.2 L2730.5 1174.4 L2731.8 1174.4 L2733.1 1174.0 L2734.4 1173.4 L2735.7 1173.3 L2737.0 1173.4 L2738.3 1173.8 L2739.6 1174.3 L2740.9 1174.1 L2742.2 1173.5 L2743.5 1173.7 L2744.8 1174.1 L2746.1 1174.2 L2747.4 1174.2 L2748.7 1174.1 L2750.0 1174.0 L2751.3 1174.1 L2752.6 1174.3 L2753.9 1174.2 L2755.2 1173.9 L2756.5 1174.0 L2757.8 1174.4 L2759.1 1174.3 L2760.4 1174.0 L2761.7 1174.8 L2763.0 1176.2 L2764.3 1176.5 L2765.6 1176.3 L2766.9 1176.3 L2768.2 1176.3 L2769.5 1176.1 L2770.8 1175.9 L2772.1 1176.1 L2773.4 1176.4 L2774.7 1176.5 L2776.0 1176.7 L2777.0 1176.7 L2777.3 1176.7 L2778.6 1176.7 L2779.9 1176.7 L2781.2 1176.7 L2782.5 1176.4 L2783.8 1175.9 L2785.1 1176.1 L2786.4 1176.5 L2787.7 1176.5 L2789.0 1176.2 L2790.3 1176.0 L2791.6 1175.9 L2792.9 1175.9 L2794.2 1175.9 L2795.5 1176.3 L2796.8 1176.8 L2798.1 1177.1 L2799.4 1177.4 L2800.7 1177.0 L2802.0 1176.3 L2803.3 1176.7 L2804.6 1177.7 L2805.9 1178.0 L2807.2 1178.0 L2808.5 1177.6 L2809.8 1177.1 L2811.1 1177.0 L2812.4 1177.1 L2813.7 1177.2 L2815.0 1177.4 L2816.3 1177.7 L2817.6 1178.1 L2818.9 1178.1 L2820.2 1177.7 L2821.5 1177.6 L2822.0 1177.5 L2822.8 1177.5 L2824.1 1178.0 L2825.4 1178.8 L2826.7 1178.8 L2828.0 1178.6 L2829.3 1179.3 L2830.6 1180.5 L2831.9 1181.3 L2833.2 1182.0 L2834.5 1182.3 L2835.8 1182.2 L2837.0 1182.3 L2837.1 1182.3 L2838.4 1182.4 L2839.7 1182.2 L2841.0 1181.8 L2842.3 1181.5 L2843.6 1181.2 L2844.9 1180.7 L2846.2 1180.0 L2847.5 1179.2 L2848.8 1178.4 L2850.1 1177.9 L2851.4 1177.5 L2852.7 1177.1 L2854.0 1176.6 L2855.3 1176.5 L2856.6 1176.5 L2857.9 1176.3 L2859.2 1176.2 L2860.5 1175.8 L2861.8 1175.4 L2862.0 1175.3 L2863.1 1175.0 L2864.4 1174.7 L2865.7 1174.6 L2867.0 1174.6 L2868.3 1174.8 L2869.6 1175.0 L2870.9 1175.5 L2872.2 1176.0 L2873.5 1176.0 L2874.8 1175.8 L2876.1 1175.7 L2877.4 1175.7 L2878.7 1175.6 L2880.0 1175.5 L2881.3 1175.9 L2882.6 1176.5 L2883.9 1176.7 L2885.2 1176.7 L2886.5 1176.7 L2887.8 1176.8 L2889.1 1176.9 L2890.4 1177.1 L2891.7 1177.6 L2893.0 1178.3 L2894.3 1178.2 L2895.6 1177.9 L2896.9 1178.3 L2897.0 1178.3 L2898.2 1179.1 L2899.5 1179.4 L2900.8 1179.7 L2902.1 1179.9 L2903.4 1180.0 L2904.7 1180.6 L2906.0 1181.5 L2907.3 1182.0 L2908.6 1182.4 L2909.9 1182.9 L2911.2 1183.4 L2912.5 1184.2 L2913.8 1185.1 L2915.1 1185.7 L2916.4 1186.3 L2917.7 1187.2 L2919.0 1188.3 L2920.3 1189.0 L2921.6 1189.4 L2922.9 1190.0 L2924.2 1190.7 L2925.5 1191.2 L2926.0 1191.4 L2926.8 1191.7 L2928.1 1191.3 L2929.4 1190.5 L2930.7 1191.2 L2932.0 1192.7 L2933.3 1192.9 L2934.6 1192.7 L2935.9 1193.2 L2937.2 1194.2 L2938.5 1194.5 L2939.8 1194.4 L2941.1 1194.8 L2942.4 1195.4 L2943.7 1195.9 L2945.0 1196.5 L2946.3 1196.1 L2947.6 1195.2 L2948.9 1195.4 L2949.0 1195.4 L2950.2 1195.9 L2951.5 1195.8 L2952.8 1195.5 L2954.1 1194.7 L2955.4 1193.7 L2956.7 1193.5 L2958.0 1193.7 L2959.3 1193.2 L2960.6 1192.4 L2961.9 1191.6 L2963.2 1190.7 L2964.5 1190.0 L2965.8 1189.4 L2967.1 1189.6 L2968.4 1190.3 L2969.7 1189.5 L2971.0 1188.1 L2971.0 1188.1 L2972.3 1187.2 L2973.6 1186.5 L2974.9 1186.3 L2976.2 1186.3 L2977.5 1186.3 L2978.8 1186.2 L2980.1 1186.1 L2981.4 1185.8 L2982.7 1185.7 L2984.0 1185.6 L2985.3 1185.2 L2986.6 1184.7 L2987.9 1184.8 L2989.2 1185.1 L2990.5 1184.9 L2991.8 1184.4 L2993.1 1184.0 L2994.4 1183.5 L2995.7 1183.4 L2997.0 1183.4 L2998.3 1183.4 L2999.6 1183.4 L3000.9 1183.5 L3002.2 1183.7 L3003.5 1183.6 L3004.8 1183.4 L3006.1 1183.0 L3007.4 1182.6 L3008.7 1182.5 L3010.0 1182.4 L3011.3 1182.3 L3012.6 1182.2 L3013.9 1182.5 L3015.2 1182.9 L3016.5 1182.3 L3017.8 1181.3 L3019.1 1181.1 L3020.4 1181.3 L3021.0 1181.3 L3021.7 1181.2 L3023.0 1181.1 L3024.3 1180.6 L3025.6 1179.8 L3026.9 1179.7 L3028.2 1179.8 L3029.5 1179.6 L3030.8 1179.3 L3032.1 1179.0 L3033.4 1178.5 L3034.7 1178.4 L3036.0 1178.4 L3037.3 1178.4 L3038.6 1178.2 L3039.9 1178.0 L3041.2 1177.8 L3042.5 1177.3 L3043.8 1176.7 L3045.1 1176.4 L3046.4 1176.3 L3047.7 1176.6 L3049.0 1177.0 L3050.3 1176.4 L3051.6 1175.2 L3052.9 1175.0 L3054.2 1175.3 L3055.5 1175.4 L3056.8 1175.6 L3058.1 1175.4 L3059.4 1175.2 L3060.0 1175.1 L3060.7 1175.2 L3062.0 1175.4 L3063.3 1175.3 L3064.6 1175.2 L3065.9 1175.3 L3067.2 1175.5 L3068.5 1175.7 L3069.8 1176.0 L3071.1 1175.8 L3072.4 1175.4 L3073.7 1175.4 L3075.0 1175.6 L3076.3 1175.7 L3077.6 1175.7 L3078.9 1175.7 L3080.2 1175.6 L3081.5 1175.8 L3082.8 1176.0 L3084.1 1175.9 L3085.4 1175.6 L3086.7 1176.0 L3088.0 1176.6 L3089.3 1177.1 L3090.6 1177.4 L3091.9 1177.6 L3093.2 1177.7 L3094.5 1177.7 L3095.8 1177.6 L3097.1 1177.1 L3098.4 1176.5 L3099.7 1176.9 L3101.0 1177.6 L3102.3 1177.4 L3103.6 1176.8 L3104.9 1176.7 L3105.0 1176.7 L3106.2 1176.9 L3107.5 1177.4 L3108.8 1177.9 L3110.1 1177.5 L3111.4 1176.6 L3112.7 1176.7 L3114.0 1177.2 L3115.3 1177.2 L3116.6 1177.0 L3117.9 1176.8 L3119.2 1176.7 L3120.5 1176.4 L3121.8 1176.2 L3123.1 1176.3 L3124.4 1176.7 L3125.7 1176.5 L3127.0 1176.2 L3128.3 1176.4 L3129.6 1176.8 L3130.9 1176.9 L3132.2 1177.0 L3133.5 1176.4 L3134.8 1175.6 L3136.1 1175.5 L3137.4 1175.7 L3138.7 1175.8 L3140.0 1175.8 L3141.3 1175.7 L3142.6 1175.4 L3143.9 1175.3 L3145.0 1175.3 L3145.2 1175.3 L3146.5 1175.6 L3147.8 1176.0 L3149.1 1176.0 L3150.4 1175.9 L3151.7 1175.6 L3153.0 1175.2 L3154.3 1175.4 L3155.6 1175.7 L3156.9 1176.1 L3158.2 1176.5 L3159.5 1176.3 L3160.8 1175.8 L3162.1 1175.7 L3163.4 1175.9 L3164.7 1176.5 L3166.0 1177.3 L3167.3 1177.5 L3168.6 1177.5 L3169.9 1177.0 L3171.2 1176.1 L3172.5 1176.0 L3173.8 1176.1 L3175.1 1176.6 L3176.4 1177.2 L3177.7 1177.1 L3179.0 1176.7 L3180.3 1176.8 L3181.6 1177.2 L3182.9 1177.3 L3184.2 1177.3 L3185.5 1177.5 L3186.8 1177.9 L3188.1 1177.4 L3189.4 1176.6 L3190.7 1176.4 L3192.0 1176.6 L3193.3 1176.9 L3194.0 1177.0 L3194.6 1177.2 L3195.9 1177.8 L3197.2 1178.5 L3198.5 1178.5 L3199.8 1178.2 L3201.1 1177.9 L3202.4 1177.5 L3203.7 1177.8 L3205.0 1178.5 L3206.3 1178.8 L3207.6 1178.9 L3208.9 1178.8 L3210.2 1178.6 L3211.5 1178.5 L3212.8 1178.5 L3214.1 1178.7 L3215.4 1179.0 L3216.7 1179.3 L3218.0 1179.6 L3219.3 1179.5 L3220.6 1179.2 L3221.9 1179.3 L3223.2 1179.4 L3224.5 1179.4 L3225.8 1179.3 L3227.1 1179.2 L3228.4 1179.1 L3229.7 1179.1 L3231.0 1178.9 L3232.3 1179.2 L3233.6 1179.6 L3234.9 1179.6 L3236.2 1179.5 L3237.5 1179.5 L3238.8 1179.6 L3240.1 1179.9 L3241.4 1180.3 L3242.7 1180.4 L3244.0 1180.3 L3244.0 1180.3 L3245.3 1180.4 L3246.6 1180.6 L3247.9 1180.2 L3249.2 1179.5 L3250.5 1179.8 L3251.8 1180.5 L3253.1 1180.5 L3254.4 1180.2 L3255.7 1180.1 L3257.0 1180.1 L3258.3 1180.1 L3259.6 1180.2 L3260.9 1180.7 L3262.2 1181.3 L3263.5 1181.5 L3264.8 1181.5 L3266.1 1181.2 L3267.4 1180.8 L3268.7 1180.6 L3270.0 1180.5 L3271.3 1180.8 L3272.6 1181.2 L3273.9 1181.3 L3275.2 1181.2 L3276.5 1181.7 L3277.8 1182.4 L3279.1 1182.0 L3280.4 1181.2 L3281.7 1180.9 L3283.0 1180.9 L3284.0 1181.1 L3284.3 1181.2 L3285.6 1181.8 L3286.9 1182.1 L3288.2 1182.3 L3289.5 1182.4 L3290.8 1182.6 L3292.1 1182.8 L3293.4 1183.1 L3294.7 1183.6 L3296.0 1184.1 L3297.3 1183.9 L3298.6 1183.3 L3299.9 1183.1 L3301.2 1183.2 L3302.5 1183.1 L3303.8 1182.9 L3305.1 1183.3 L3306.4 1184.1 L3307.7 1184.5 L3309.0 1184.9 L3310.3 1184.8 L3311.6 1184.7 L3312.9 1185.0 L3314.0 1185.5"/>
<path class="c" stroke="#00ff00" d="M61.6 1181.0 L62.9 1181.4 L64.2 1181.6 L65.5 1182.0 L66.8 1182.4 L68.1 1182.2 L69.4 1181.7 L70.7 1181.6 L72.0 1181.6 L73.3 1181.5 L74.6 1181.4 L75.9 1181.8 L77.2 1182.6 L78.5 1182.8 L79.8 1182.7 L81.1 1182.6 L82.4 1182.4 L83.7 1182.7 L85.0 1183.2 L86.0 1183.4 L86.3 1183.4 L87.6 1183.5 L88.9 1183.1 L90.2 1182.5 L91.5 1183.0 L92.8 1183.9 L94.1 1184.2 L95.4 1184.2 L96.7 1184.2 L98.0 1184.2 L99.3 1184.3 L100.6 1184.5 L101.9 1185.1 L103.2 1185.9 L104.5 1186.3 L105.5 1186.4 L105.8 1186.4 L107.1 1186.6 L108.4 1186.9 L109.7 1186.6 L111.0 1185.9 L112.3 1186.0 L113.6 1186.4 L114.9 1187.0 L116.2 1187.7 L117.5 1187.7 L118.8 1187.3 L120.1 1187.5 L121.4 1187.9 L122.7 1188.0 L124.0 1188.0 L125.3 1188.9 L126.6 1190.3 L127.9 1190.7 L129.2 1190.7 L130.5 1190.8 L131.8 1190.9 L133.1 1191.0 L134.4 1191.2 L134.4 1191.2 L135.7 1191.2 L137.0 1191.3 L138.3 1191.4 L139.6 1191.6 L140.9 1192.1 L142.2 1192.6 L143.5 1192.6 L144.8 1192.4 L146.1 1192.9 L147.4 1193.7 L148.7 1193.7 L150.0 1193.4 L151.3 1193.4 L152.6 1193.5 L153.9 1194.1 L155.2 1194.9 L156.5 1195.0 L157.8 1194.8 L159.1 1195.0 L160.4 1195.4 L161.7 1195.4 L163.0 1195.3 L164.3 1195.0 L165.6 1194.6 L165.7 1194.6 L166.9 1195.2 L168.2 1196.2 L169.5 1196.2 L170.8 1195.8 L172.1 1196.3 L173.4 1197.2 L174.7 1197.1 L176.0 1196.5 L177.3 1196.3 L178.6 1196.4 L179.9 1197.0 L181.2 1197.8 L182.5 1198.2 L183.8 1198.4 L185.1 1198.4 L186.4 1198.5 L187.7 1198.3 L189.0 1198.0 L190.3 1198.4 L191.6 1199.2 L192.9 1198.9 L194.2 1198.3 L194.7 1198.1 L195.5 1198.4 L196.8 1198.7 L198.1 1198.8 L199.4 1198.8 L200.7 1198.9 L202.0 1199.1 L203.3 1199.4 L204.6 1199.8 L205.9 1199.7 L207.2 1199.3 L208.5 1199.5 L209.8 1199.9 L211.1 1200.1 L212.4 1200.1 L213.7 1199.7 L215.0 1199.0 L216.3 1198.9 L217.6 1199.1 L218.9 1199.4 L220.2 1199.6 L221.5 1199.7 L222.8 1199.6 L224.1 1199.8 L225.4 1200.1 L226.7 1199.7 L228.0 1199.0 L228.4 1198.8 L229.3 1199.4 L230.6 1200.2 L231.9 1200.4 L233.2 1200.3 L234.5 1200.1 L235.8 1199.7 L237.1 1199.3 L238.4 1198.8 L239.7 1198.8 L241.0 1199.1 L242.3 1199.0 L243.6 1198.7 L244.9 1198.7 L246.2 1198.8 L247.5 1198.6 L248.8 1198.2 L250.1 1198.0 L251.4 1198.1 L252.7 1197.6 L254.0 1197.0 L255.0 1197.0 L255.3 1197.1 L256.6 1197.3 L257.9 1196.2 L259.2 1194.5 L260.5 1193.7 L261.8 1193.4 L263.1 1193.1 L264.4 1192.7 L265.7 1191.7 L267.0 1190.3 L267.0 1190.3 L268.3 1189.7 L269.6 1189.4 L270.9 1188.1 L272.2 1186.3 L273.5 1185.3 L274.8 1184.6 L276.1 1183.6 L277.4 1182.6 L278.7 1182.1 L279.0 1182.1 L280.0 1182.0 L281.3 1181.9 L282.6 1181.9 L283.9 1181.7 L285.2 1181.4 L286.5 1181.1 L287.8 1180.8 L289.1 1181.2 L290.4 1181.8 L291.7 1181.4 L293.0 1180.7 L294.3 1180.2 L295.6 1179.8 L296.9 1180.0 L298.2 1180.5 L299.5 1180.6 L300.8 1180.5 L302.1 1180.6 L303.0 1180.7 L303.4 1180.7 L304.7 1180.9 L306.0 1181.1 L307.3 1180.6 L308.6 1179.8 L309.9 1180.1 L311.2 1180.7 L312.5 1181.0 L313.8 1181.1 L315.1 1181.0 L316.4 1180.8 L317.7 1180.8 L319.0 1181.0 L320.3 1180.5 L321.6 1179.7 L322.9 1180.0 L324.2 1180.9 L325.5 1181.8 L326.8 1182.6 L328.1 1182.2 L329.4 1181.3 L330.7 1181.4 L332.0 1181.9 L333.3 1182.3 L334.6 1182.7 L335.9 1183.0 L337.2 1183.2 L338.5 1183.5 L339.0 1183.7 L339.8 1183.9 L341.1 1183.4 L342.4 1182.5 L343.7 1182.7 L345.0 1183.4 L346.3 1183.8 L347.6 1184.2 L348.9 1183.9 L350.2 1183.4 L351.5 1183.6 L352.8 1184.1 L354.1 1184.7 L355.4 1185.4 L356.7 1185.6 L358.0 1185.5 L359.3 1185.4 L360.6 1185.3 L361.9 1184.7 L363.2 1183.8 L364.5 1184.2 L365.8 1185.0 L367.1 1185.5 L368.4 1185.8 L369.7 1185.8 L371.0 1185.7 L372.3 1185.8 L373.6 1185.9 L374.9 1186.7 L376.2 1187.8 L377.5 1187.5 L378.8 1186.6 L380.1 1186.2 L381.4 1186.1 L382.7 1186.4 L384.0 1186.8 L385.3 1186.9 L386.6 1186.8 L387.5 1186.8 L387.9 1186.8 L389.2 1186.9 L390.5 1187.0 L391.8 1187.2 L393.1 1187.4 L394.4 1187.8 L395.7 1187.8 L397.0 1187.7 L398.3 1187.4 L399.6 1187.0 L400.9 1187.2 L402.2 1187.6 L403.5 1187.8 L404.8 1188.1 L406.1 1188.0 L407.4 1187.8 L408.7 1188.1 L410.0 1188.6 L411.3 1188.7 L412.6 1188.7 L413.9 1188.3 L415.2 1187.8 L416.5 1188.0 L417.8 1188.4 L419.1 1188.9 L420.4 1189.5 L421.7 1189.6 L423.0 1189.5 L424.3 1189.2 L425.6 1188.8 L426.9 1188.9 L428.2 1189.2 L429.5 1189.0 L430.8 1188.6 L432.1 1188.4 L433.4 1188.2 L434.7 1188.6 L436.0 1189.3 L437.3 1189.5 L438.6 1189.4 L439.9 1189.5 L441.2 1189.7 L442.5 1189.7 L443.8 1189.6 L445.1 1189.7 L446.4 1189.9 L447.7 1189.9 L449.0 1189.7 L450.0 1189.8 L450.3 1189.9 L451.6 1190.3 L452.9 1190.6 L454.2 1190.9 L455.5 1190.9 L456.8 1190.8 L458.1 1191.0 L459.4 1191.5 L460.7 1191.2 L462.0 1190.6 L463.3 1190.8 L464.6 1191.3 L465.9 1192.0 L467.2 1192.9 L468.5 1193.4 L469.8 1193.7 L471.1 1193.6 L472.0 1193.4 L472.4 1193.4 L473.7 1193.3 L475.0 1193.5 L476.3 1193.4 L477.6 1193.3 L478.9 1193.8 L480.2 1194.5 L481.5 1195.0 L482.8 1195.4 L484.1 1195.2 L485.4 1194.8 L486.7 1195.3 L488.0 1196.2 L489.3 1196.6 L490.6 1196.9 L491.9 1197.2 L493.2 1197.4 L494.5 1197.4 L495.8 1197.2 L497.1 1197.7 L498.4 1198.5 L499.7 1198.5 L501.0 1198.1 L502.3 1198.8 L503.6 1200.0 L504.9 1200.2 L506.2 1200.1 L507.5 1199.9 L508.8 1199.8 L510.1 1200.4 L511.4 1201.3 L512.7 1201.7 L514.0 1201.9 L515.3 1201.7 L516.6 1201.3 L517.9 1201.9 L519.2 1202.9 L520.5 1202.6 L521.0 1202.3 L521.8 1201.8 L523.1 1201.9 L524.4 1202.4 L525.7 1202.8 L527.0 1203.2 L528.3 1202.6 L529.6 1201.7 L530.9 1202.2 L532.2 1203.3 L533.5 1203.5 L534.8 1203.3 L536.1 1203.3 L537.4 1203.4 L538.7 1203.3 L540.0 1203.1 L541.3 1203.4 L542.6 1203.9 L543.9 1203.8 L545.2 1203.5 L546.5 1203.5 L547.8 1203.6 L549.1 1203.8 L550.4 1204.0 L551.7 1204.0 L553.0 1203.8 L554.3 1204.4 L555.6 1205.3 L556.9 1205.0 L558.2 1204.2 L559.5 1204.1 L560.8 1204.3 L562.1 1204.5 L563.4 1204.7 L564.7 1204.8 L566.0 1204.9 L567.3 1205.1 L568.6 1205.4 L569.9 1205.5 L571.0 1205.5 L571.2 1205.5 L572.5 1205.3 L573.8 1204.9 L575.1 1204.8 L576.4 1204.7 L577.7 1204.8 L579.0 1204.9 L580.3 1205.1 L581.6 1205.3 L582.9 1205.3 L584.2 1205.2 L585.5 1204.9 L586.8 1204.5 L588.1 1204.0 L589.4 1203.5 L590.7 1204.1 L592.0 1205.3 L593.3 1205.4 L594.6 1205.0 L595.9 1204.6 L597.2 1204.3 L598.5 1204.2 L599.8 1204.1 L601.1 1203.9 L602.4 1203.5 L603.7 1203.2 L605.0 1203.0 L606.3 1203.0 L607.6 1203.1 L608.9 1203.0 L610.2 1202.9 L611.0 1202.8 L611.5 1202.7 L612.8 1202.3 L614.1 1201.8 L615.4 1201.0 L616.7 1200.6 L618.0 1200.3 L619.3 1199.9 L620.6 1199.5 L621.9 1198.6 L623.2 1197.6 L624.5 1197.0 L625.8 1196.5 L627.1 1195.6 L628.4 1194.5 L629.7 1194.3 L631.0 1194.7 L631.0 1194.7 L632.3 1194.8 L633.6 1194.7 L634.9 1194.3 L636.2 1193.9 L637.5 1193.6 L638.8 1193.3 L640.1 1193.6 L641.4 1194.1 L642.7 1194.0 L644.0 1193.5 L645.3 1193.6 L646.6 1193.9 L647.9 1193.8 L649.2 1193.4 L650.5 1193.5 L651.8 1193.7 L653.1 1193.6 L654.4 1193.2 L655.7 1192.8 L657.0 1192.4 L658.3 1192.6 L659.6 1193.0 L660.9 1193.0 L662.2 1192.9 L663.5 1193.1 L664.8 1193.3 L666.1 1193.2 L667.4 1192.8 L668.7 1192.7 L670.0 1192.8 L670.0 1192.8 L671.3 1193.0 L672.6 1193.4 L673.9 1193.6 L675.2 1193.7 L676.5 1193.7 L677.8 1193.6 L679.1 1193.6 L680.4 1193.7 L681.7 1193.6 L683.0 1193.5 L684.3 1193.5 L685.6 1193.7 L686.9 1193.8 L688.2 1193.8 L689.5 1193.8 L690.8 1193.7 L692.1 1193.6 L693.4 1193.6 L694.7 1193.6 L696.0 1193.7 L697.3 1194.2 L698.6 1195.0 L699.9 1194.7 L701.2 1194.1 L702.5 1193.9 L703.8 1193.9 L705.1 1193.9 L706.4 1193.9 L707.7 1194.1 L709.0 1194.2 L710.3 1194.4 L711.6 1194.6 L712.9 1194.4 L714.2 1194.1 L715.5 1193.8 L716.8 1193.7 L718.1 1194.2 L719.4 1194.9 L720.0 1195.1 L720.7 1194.8 L722.0 1194.4 L723.3 1194.8 L724.6 1195.6 L725.9 1196.0 L727.2 1196.2 L728.5 1196.7 L729.8 1197.2 L731.1 1197.7 L732.4 1198.1 L733.7 1198.1 L735.0 1197.9 L736.3 1197.8 L737.6 1197.7 L738.9 1197.5 L740.0 1197.4 L740.2 1197.4 L741.5 1197.3 L742.8 1197.3 L744.1 1197.3 L745.4 1197.3 L746.7 1196.7 L748.0 1195.7 L749.3 1195.6 L750.6 1195.9 L751.9 1195.7 L753.2 1195.3 L754.5 1195.0 L755.8 1194.9 L757.1 1194.4 L758.4 1193.8 L759.7 1193.5 L761.0 1193.4 L762.3 1193.0 L763.6 1192.7 L764.9 1192.6 L765.0 1192.6 L766.2 1192.7 L767.5 1192.5 L768.8 1192.2 L770.1 1192.6 L771.4 1193.3 L772.7 1193.9 L774.0 1194.5 L775.3 1194.5 L776.6 1194.3 L777.9 1194.4 L779.2 1194.7 L780.5 1194.6 L781.8 1194.4 L783.1 1195.0 L784.4 1195.9 L785.7 1195.8 L787.0 1195.3 L788.3 1195.6 L789.6 1196.2 L790.9 1196.2 L792.2 1196.1 L793.5 1195.8 L794.0 1195.7 L794.8 1195.5 L796.1 1195.8 L797.4 1196.4 L798.7 1196.4 L800.0 1196.1 L801.3 1196.0 L802.6 1196.1 L803.9 1196.2 L805.2 1196.2 L806.5 1196.2 L807.8 1196.0 L809.1 1195.9 L810.4 1195.8 L811.7 1195.9 L813.0 1196.2 L814.3 1196.1 L815.6 1195.8 L816.9 1195.9 L818.2 1196.0 L819.5 1195.9 L820.8 1195.7 L822.1 1195.4 L823.4 1195.2 L824.7 1195.3 L826.0 1195.5 L827.3 1195.6 L828.6 1195.7 L829.9 1195.8 L830.0 1195.8 L831.2 1196.0 L832.5 1196.3 L833.8 1196.7 L835.1 1196.3 L836.4 1195.6 L837.7 1195.8 L839.0 1196.5 L840.3 1196.4 L841.6 1195.8 L842.9 1196.0 L844.2 1196.6 L845.5 1197.0 L846.8 1197.3 L848.1 1197.1 L849.4 1196.7 L850.0 1196.7 L850.7 1196.8 L852.0 1197.1 L853.3 1197.7 L854.6 1198.4 L855.9 1198.8 L857.2 1198.9 L858.5 1199.0 L859.8 1199.1 L861.1 1199.2 L862.4 1199.1 L863.7 1199.8 L865.0 1200.9 L866.3 1200.9 L867.6 1200.4 L868.9 1200.2 L870.2 1200.1 L871.5 1200.8 L872.8 1201.7 L874.1 1201.8 L875.4 1201.7 L876.7 1201.5 L878.0 1201.3 L879.3 1201.7 L880.6 1202.2 L881.9 1202.3 L883.2 1202.0 L884.5 1202.1 L885.8 1202.3 L887.1 1202.3 L888.4 1202.2 L889.0 1202.1 L889.7 1201.9 L891.0 1201.5 L892.3 1201.8 L893.6 1202.4 L894.9 1202.4 L896.2 1202.2 L897.5 1201.9 L898.8 1201.5 L900.1 1201.4 L901.4 1201.5 L902.7 1201.9 L904.0 1202.4 L905.3 1202.3 L906.6 1201.9 L907.9 1201.9 L909.2 1202.0 L910.5 1202.2 L911.8 1202.3 L913.1 1202.3 L914.4 1202.1 L915.7 1201.7 L917.0 1201.2 L918.3 1201.5 L919.6 1202.2 L920.9 1202.4 L922.2 1202.5 L923.5 1202.5 L924.8 1202.5 L926.1 1202.7 L927.4 1202.9 L928.7 1202.7 L929.0 1202.6 L930.0 1202.3 L931.3 1202.2 L932.6 1202.3 L933.9 1202.4 L935.2 1202.5 L936.5 1202.0 L937.8 1201.2 L939.1 1201.2 L940.4 1201.6 L941.7 1201.5 L943.0 1201.2 L944.3 1200.7 L945.6 1200.1 L946.9 1199.9 L948.2 1199.9 L949.5 1199.4 L950.8 1198.8 L952.1 1198.0 L953.4 1197.1 L954.7 1197.0 L956.0 1197.3 L957.3 1196.9 L958.6 1196.4 L959.0 1196.2 L959.9 1196.0 L961.2 1195.6 L962.5 1195.1 L963.8 1194.6 L965.1 1194.3 L966.4 1194.1 L967.7 1193.5 L969.0 1192.7 L970.3 1191.8 L971.6 1190.9 L972.9 1190.5 L974.2 1190.3 L975.5 1190.0 L976.8 1189.7 L978.1 1189.0 L979.4 1188.2 L980.7 1187.9 L982.0 1187.8 L983.3 1187.8 L984.0 1187.8 L984.6 1187.8 L985.9 1187.7 L987.2 1187.7 L988.5 1187.8 L989.8 1188.1 L991.1 1188.3 L992.4 1188.5 L993.7 1188.8 L995.0 1189.1 L996.3 1189.0 L997.6 1188.8 L998.9 1188.7 L1000.2 1188.6 L1001.5 1188.6 L1002.8 1188.7 L1004.1 1188.7 L1005.4 1188.8 L1006.7 1188.4 L1008.0 1187.9 L1009.3 1188.0 L1010.6 1188.3 L1011.9 1188.3 L1013.2 1188.2 L1014.5 1188.1 L1015.8 1188.0 L1017.1 1187.9 L1018.4 1187.8 L1019.7 1187.7 L1021.0 1187.7 L1022.3 1187.7 L1023.0 1187.8 L1023.6 1187.8 L1024.9 1187.6 L1026.2 1187.4 L1027.5 1187.7 L1028.8 1188.2 L1030.1 1188.3 L1031.4 1188.2 L1032.7 1188.3 L1034.0 1188.4 L1035.3 1188.5 L1036.6 1188.6 L1037.9 1188.8 L1039.2 1189.0 L1040.5 1188.9 L1041.8 1188.6 L1043.1 1188.6 L1044.4 1188.9 L1045.7 1188.7 L1047.0 1188.4 L1048.3 1188.2 L1049.6 1188.1 L1050.9 1188.2 L1052.2 1188.4 L1053.5 1189.2 L1054.8 1190.4 L1056.1 1190.1 L1057.4 1189.2 L1058.0 1189.0 L1058.7 1189.4 L1060.0 1190.2 L1061.3 1190.7 L1062.6 1191.1 L1063.9 1190.9 L1065.2 1190.4 L1066.5 1190.7 L1067.8 1191.4 L1069.1 1191.7 L1070.4 1191.9 L1071.7 1191.8 L1073.0 1191.6 L1074.3 1191.9 L1075.6 1192.5 L1076.9 1192.3 L1078.2 1191.9 L1079.5 1191.5 L1080.8 1191.2 L1082.1 1191.5 L1083.4 1191.9 L1084.7 1192.0 L1086.0 1191.8 L1087.3 1191.6 L1088.6 1191.5 L1089.9 1191.5 L1091.2 1191.6 L1092.5 1192.5 L1093.8 1193.7 L1095.1 1193.5 L1096.4 1192.8 L1097.7 1192.8 L1098.0 1192.8 L1099.0 1193.0 L1100.3 1193.1 L1101.6 1193.1 L1102.9 1193.4 L1104.2 1193.8 L1105.5 1194.0 L1106.8 1194.2 L1108.1 1194.3 L1109.4 1194.5 L1110.7 1194.5 L1112.0 1194.5 L1113.3 1194.7 L1114.6 1194.8 L1115.9 1195.2 L1117.2 1195.6 L1118.5 1196.0 L1119.8 1196.5 L1121.1 1197.1 L1122.4 1197.8 L1123.7 1197.9 L1125.0 1197.6 L1126.3 1197.8 L1127.6 1198.0 L1128.0 1198.1 L1128.9 1197.8 L1130.2 1197.3 L1131.5 1196.9 L1132.8 1196.4 L1134.1 1195.8 L1135.4 1195.1 L1136.7 1194.9 L1138.0 1194.9 L1139.3 1194.2 L1140.6 1193.2 L1141.9 1193.0 L1143.2 1193.2 L1144.5 1193.6 L1145.8 1193.9 L1147.1 1193.7 L1148.0 1193.4 L1148.4 1193.3 L1149.7 1193.4 L1151.0 1193.6 L1152.3 1193.4 L1153.6 1192.9 L1154.9 1192.6 L1156.2 1192.3 L1157.5 1192.4 L1158.8 1192.6 L1160.1 1192.7 L1161.4 1192.8 L1162.7 1193.1 L1164.0 1193.6 L1165.3 1193.9 L1166.6 1194.1 L1167.9 1193.6 L1169.2 1192.8 L1170.5 1192.6 L1171.8 1192.8 L1173.1 1192.8 L1174.4 1192.9 L1175.7 1192.9 L1177.0 1192.8 L1178.3 1192.6 L1179.6 1192.4 L1180.9 1192.5 L1182.2 1192.9 L1183.5 1193.1 L1184.8 1193.2 L1186.1 1193.2 L1187.4 1193.2 L1188.7 1192.9 L1190.0 1192.4 L1191.3 1192.5 L1192.6 1192.8 L1193.9 1192.6 L1195.2 1192.1 L1196.5 1192.5 L1197.0 1192.8 L1197.8 1193.3 L1199.1 1193.2 L1200.4 1192.6 L1201.7 1192.6 L1203.0 1192.8 L1204.3 1192.9 L1205.6 1192.8 L1206.9 1192.8 L1208.2 1192.8 L1209.5 1192.7 L1210.8 1192.6 L1212.1 1192.5 L1213.4 1192.3 L1214.7 1193.0 L1216.0 1194.1 L1217.3 1194.1 L1218.6 1193.7 L1219.9 1193.6 L1221.2 1193.7 L1222.5 1194.1 L1223.8 1194.7 L1225.1 1194.4 L1226.4 1193.8 L1227.7 1193.8 L1229.0 1194.0 L1230.3 1194.0 L1231.6 1193.9 L1232.9 1194.1 L1234.2 1194.5 L1235.5 1194.5 L1236.8 1194.3 L1238.1 1194.2 L1239.4 1194.2 L1240.7 1194.0 L1242.0 1193.9 L1243.3 1194.0 L1244.6 1194.1 L1245.9 1194.4 L1247.0 1194.6 L1247.2 1194.6 L1248.5 1194.0 L1249.8 1193.1 L1251.1 1193.2 L1252.4 1193.7 L1253.7 1193.9 L1255.0 1193.8 L1256.3 1193.7 L1257.6 1193.8 L1258.9 1193.4 L1260.2 1192.9 L1261.5 1193.3 L1262.8 1194.0 L1264.1 1193.9 L1265.4 1193.4 L1266.7 1193.4 L1268.0 1193.5 L1269.3 1193.5 L1270.6 1193.3 L1271.9 1193.0 L1273.2 1192.6 L1274.5 1192.7 L1275.8 1193.0 L1277.1 1192.8 L1278.4 1192.3 L1279.7 1192.3 L1281.0 1192.5 L1282.3 1192.6 L1283.6 1192.7 L1284.9 1192.8 L1286.2 1192.8 L1287.5 1192.7 L1288.8 1192.6 L1290.1 1192.5 L1291.4 1192.4 L1292.7 1192.7 L1294.0 1193.3 L1295.3 1193.0 L1296.0 1192.7 L1296.6 1192.3 L1297.9 1191.4 L1299.2 1190.3 L1300.5 1189.3 L1301.8 1188.5 L1303.1 1187.3 L1304.4 1186.1 L1305.7 1184.9 L1307.0 1183.9 L1308.3 1182.7 L1309.6 1181.6 L1310.9 1180.7 L1311.0 1180.6 L1312.2 1179.9 L1313.5 1179.7 L1314.8 1179.7 L1316.1 1178.9 L1317.4 1177.8 L1318.7 1176.9 L1320.0 1176.1 L1321.3 1175.5 L1322.6 1175.0 L1323.9 1174.5 L1325.2 1174.0 L1326.5 1174.0 L1327.8 1174.1 L1329.1 1173.9 L1330.4 1173.4 L1331.0 1173.3 L1331.7 1173.4 L1333.0 1173.5 L1334.3 1172.6 L1335.6 1171.3 L1336.9 1171.6 L1338.2 1172.6 L1339.5 1173.0 L1340.8 1173.1 L1342.1 1173.4 L1343.4 1173.6 L1344.7 1173.2 L1346.0 1172.6 L1347.3 1172.0 L1348.6 1171.5 L1349.9 1171.7 L1351.2 1172.4 L1352.5 1172.3 L1353.8 1171.9 L1355.1 1171.6 L1356.4 1171.2 L1357.7 1171.3 L1359.0 1171.6 L1360.3 1172.1 L1361.6 1172.6 L1362.9 1172.7 L1364.2 1172.8 L1365.5 1172.7 L1366.8 1172.5 L1368.1 1172.1 L1369.4 1171.6 L1370.7 1172.1 L1371.0 1172.4 L1372.0 1173.2 L1373.3 1172.8 L1374.6 1171.7 L1375.9 1171.6 L1377.2 1171.9 L1378.5 1171.7 L1379.8 1171.3 L1381.1 1171.8 L1382.4 1172.6 L1383.7 1172.7 L1385.0 1172.5 L1386.3 1172.5 L1387.6 1172.6 L1388.9 1172.5 L1390.2 1172.3 L1391.5 1172.2 L1392.8 1172.2 L1394.1 1172.2 L1395.4 1172.3 L1396.7 1172.0 L1398.0 1171.4 L1399.3 1171.8 L1400.6 1172.7 L1401.9 1173.0 L1403.2 1173.0 L1404.5 1172.8 L1405.8 1172.4 L1407.1 1172.4 L1408.4 1172.5 L1409.7 1172.7 L1411.0 1172.8 L1412.3 1173.2 L1413.6 1173.6 L1414.9 1173.5 L1416.2 1173.2 L1417.5 1173.1 L1418.8 1173.0 L1420.1 1172.9 L1421.0 1172.8 L1421.4 1172.8 L1422.7 1172.6 L1424.0 1172.4 L1425.3 1172.7 L1426.6 1173.2 L1427.9 1173.6 L1429.2 1174.0 L1430.5 1174.3 L1431.8 1174.4 L1433.1 1174.7 L1434.4 1175.1 L1435.7 1175.6 L1437.0 1176.0 L1438.3 1176.3 L1439.6 1176.5 L1440.9 1176.6 L1442.2 1176.8 L1443.5 1177.1 L1444.8 1177.4 L1445.0 1177.4 L1446.1 1177.4 L1447.4 1177.4 L1448.7 1177.5 L1450.0 1177.6 L1451.3 1177.8 L1452.6 1178.1 L1453.9 1177.8 L1455.2 1177.3 L1456.5 1177.8 L1457.8 1178.8 L1459.1 1178.7 L1460.4 1178.1 L1461.7 1178.4 L1463.0 1179.1 L1464.3 1179.3 L1465.6 1179.1 L1466.9 1179.4 L1468.2 1179.8 L1469.5 1179.8 L1470.8 1179.6 L1472.1 1179.4 L1473.4 1179.2 L1474.7 1179.6 L1476.0 1180.3 L1477.3 1180.4 L1478.6 1180.2 L1479.9 1180.2 L1481.2 1180.3 L1482.5 1180.4 L1483.8 1180.4 L1485.1 1180.7 L1486.4 1181.1 L1487.7 1181.2 L1489.0 1181.2 L1490.3 1181.1 L1491.6 1181.0 L1492.9 1180.7 L1494.2 1180.2 L1495.0 1180.2 L1495.5 1180.4 L1496.8 1180.8 L1498.1 1181.1 L1499.4 1181.3 L1500.7 1181.8 L1502.0 1182.3 L1503.3 1182.3 L1504.6 1181.9 L1505.9 1181.7 L1507.2 1181.7 L1508.5 1182.0 L1509.8 1182.4 L1511.1 1182.3 L1512.4 1181.9 L1513.7 1181.9 L1515.0 1181.9 L1516.3 1182.0 L1517.6 1182.1 L1518.9 1181.8 L1520.0 1181.4 L1520.2 1181.3 L1521.5 1181.6 L1522.8 1182.3 L1524.1 1182.3 L1525.4 1182.1 L1526.7 1181.8 L1528.0 1181.4 L1529.3 1181.0 L1530.6 1180.5 L1531.9 1180.6 L1533.2 1180.8 L1534.5 1180.9 L1535.8 1181.1 L1537.1 1180.5 L1538.4 1179.7 L1539.7 1179.2 L1541.0 1178.8 L1542.3 1178.9 L1543.6 1179.1 L1544.9 1178.7 L1546.2 1177.9 L1547.5 1177.4 L1548.8 1177.1 L1550.1 1177.3 L1551.4 1177.7 L1552.7 1177.8 L1554.0 1177.7 L1555.0 1177.7 L1555.3 1177.7 L1556.6 1177.8 L1557.9 1177.8 L1559.2 1177.8 L1560.5 1178.0 L1561.8 1178.3 L1563.1 1178.3 L1564.4 1178.2 L1565.7 1178.2 L1567.0 1178.2 L1568.3 1178.2 L1569.6 1178.4 L1570.9 1178.7 L1572.2 1179.1 L1573.5 1179.4 L1574.8 1179.6 L1576.1 1179.7 L1577.4 1179.8 L1578.7 1179.9 L1580.0 1179.9 L1581.3 1179.1 L1582.6 1178.0 L1583.9 1178.2 L1585.2 1179.0 L1586.5 1179.4 L1587.8 1179.6 L1589.1 1179.9 L1590.4 1180.1 L1591.7 1179.8 L1593.0 1179.2 L1594.0 1179.5 L1594.3 1179.7 L1595.6 1180.6 L1596.9 1180.6 L1598.2 1180.1 L1599.5 1179.7 L1600.8 1179.3 L1602.1 1179.2 L1603.4 1179.2 L1604.7 1178.9 L1606.0 1178.5 L1607.3 1178.1 L1608.6 1177.7 L1609.9 1177.6 L1611.2 1177.7 L1612.5 1177.3 L1613.8 1176.6 L1615.1 1176.0 L1616.4 1175.3 L1617.7 1175.0 L1619.0 1174.8 L1620.3 1174.6 L1621.6 1174.4 L1622.9 1173.9 L1624.2 1173.2 L1625.5 1173.2 L1626.8 1173.5 L1628.1 1172.8 L1629.4 1171.8 L1630.0 1171.5 L1630.7 1171.8 L1632.0 1172.2 L1633.3 1171.9 L1634.6 1171.2 L1635.9 1170.3 L1637.2 1169.3 L1638.5 1168.8 L1639.8 1168.6 L1641.1 1168.4 L1642.4 1168.2 L1643.7 1167.5 L1645.0 1166.5 L1646.3 1165.7 L1647.6 1164.8 L1648.9 1164.4 L1650.2 1164.3 L1651.5 1164.3 L1652.8 1164.3 L1654.1 1163.2 L1655.4 1161.7 L1656.7 1161.3 L1658.0 1161.4 L1659.3 1161.0 L1660.6 1160.4 L1661.9 1159.9 L1663.2 1159.5 L1664.5 1159.0 L1665.0 1158.9 L1665.8 1158.6 L1667.1 1158.3 L1668.4 1157.9 L1669.7 1157.8 L1671.0 1157.9 L1672.3 1157.6 L1673.6 1157.1 L1674.9 1156.3 L1676.2 1155.5 L1677.5 1155.5 L1678.8 1155.9 L1680.1 1155.2 L1681.4 1154.0 L1682.7 1153.9 L1684.0 1154.2 L1685.3 1154.0 L1686.6 1153.5 L1687.9 1153.5 L1689.2 1153.5 L1690.5 1153.3 L1691.8 1152.8 L1693.1 1152.7 L1694.4 1152.8 L1695.7 1152.6 L1697.0 1152.2 L1698.3 1152.2 L1699.0 1152.4 L1699.6 1152.5 L1700.9 1152.5 L1702.2 1152.3 L1703.5 1152.7 L1704.8 1153.3 L1706.1 1152.9 L1707.4 1152.1 L1708.7 1152.3 L1710.0 1152.9 L1711.3 1153.0 L1712.6 1152.9 L1713.9 1152.9 L1715.2 1152.9 L1716.5 1152.8 L1717.8 1152.7 L1719.1 1152.9 L1720.4 1153.4 L1721.7 1153.2 L1723.0 1152.7 L1724.3 1152.7 L1725.6 1152.9 L1726.9 1153.4 L1728.2 1154.2 L1729.5 1154.0 L1730.8 1153.5 L1732.1 1154.0 L1733.4 1155.1 L1734.7 1155.1 L1736.0 1154.7 L1737.3 1154.8 L1738.6 1155.1 L1739.0 1155.2 L1739.9 1155.2 L1741.2 1155.3 L1742.5 1155.5 L1743.8 1155.8 L1745.1 1155.8 L1746.4 1155.8 L1747.7 1155.9 L1749.0 1156.0 L1750.3 1156.2 L1751.6 1156.5 L1752.9 1156.9 L1754.2 1157.5 L1755.5 1157.8 L1756.8 1158.0 L1758.1 1158.2 L1759.4 1158.5 L1760.7 1158.5 L1762.0 1158.5 L1763.3 1158.5 L1764.6 1158.5 L1765.9 1158.3 L1767.2 1158.1 L1768.5 1158.7 L1769.8 1159.6 L1771.1 1160.0 L1772.4 1160.3 L1773.7 1160.2 L1775.0 1160.1 L1776.3 1160.4 L1777.6 1160.9 L1778.9 1161.3 L1780.2 1161.7 L1781.5 1161.6 L1782.8 1161.5 L1784.1 1161.7 L1785.4 1162.2 L1786.7 1162.3 L1788.0 1162.2 L1789.0 1161.9 L1789.3 1161.8 L1790.6 1161.4 L1791.9 1161.6 L1793.2 1162.1 L1794.5 1162.4 L1795.8 1162.6 L1797.1 1162.9 L1798.4 1163.4 L1799.7 1163.3 L1801.0 1163.1 L1802.3 1163.2 L1803.6 1163.5 L1804.9 1163.6 L1806.2 1163.6 L1807.5 1163.9 L1808.8 1164.3 L1810.1 1164.5 L1811.4 1164.7 L1812.7 1165.1 L1814.0 1165.5 L1815.3 1165.6 L1816.6 1165.7 L1817.9 1165.7 L1819.2 1165.6 L1820.5 1165.7 L1821.8 1165.8 L1823.1 1165.8 L1824.4 1165.9 L1825.7 1165.9 L1827.0 1166.0 L1828.3 1166.3 L1829.6 1166.8 L1830.9 1166.1 L1832.2 1164.9 L1833.0 1164.8 L1833.5 1165.0 L1834.8 1165.7 L1836.1 1166.0 L1837.4 1166.2 L1838.7 1166.3 L1840.0 1166.6 L1841.3 1166.1 L1842.6 1165.4 L1843.9 1165.5 L1845.2 1165.9 L1846.5 1166.1 L1847.8 1166.2 L1849.1 1165.9 L1850.4 1165.4 L1851.7 1164.9 L1853.0 1164.4 L1854.3 1164.6 L1855.6 1165.0 L1856.9 1164.9 L1858.2 1164.5 L1859.5 1164.8 L1860.8 1165.2 L1862.1 1165.0 L1863.4 1164.5 L1864.7 1164.9 L1866.0 1165.6 L1867.3 1165.4 L1868.6 1164.9 L1869.9 1164.4 L1871.2 1164.1 L1872.5 1164.0 L1873.8 1164.0 L1875.1 1163.9 L1876.4 1163.7 L1877.7 1163.9 L1879.0 1164.3 L1880.3 1164.6 L1881.6 1164.9 L1882.9 1164.6 L1884.2 1164.1 L1885.5 1164.2 L1886.8 1164.5 L1888.0 1164.3 L1888.1 1164.2 L1889.4 1163.7 L1890.7 1163.7 L1892.0 1164.1 L1893.3 1164.7 L1894.6 1165.3 L1895.9 1164.7 L1897.2 1163.6 L1898.5 1163.8 L1899.8 1164.6 L1901.1 1164.9 L1902.4 1164.9 L1903.7 1164.3 L1905.0 1163.4 L1906.3 1163.2 L1907.6 1163.4 L1908.9 1163.6 L1910.2 1163.7 L1911.5 1164.2 L1912.8 1164.8 L1914.1 1164.7 L1915.4 1164.4 L1916.7 1164.3 L1918.0 1164.4 L1919.3 1164.7 L1920.6 1165.0 L1921.9 1164.9 L1923.2 1164.8 L1924.5 1164.8 L1925.8 1164.9 L1927.1 1164.8 L1928.4 1164.7 L1929.7 1164.9 L1931.0 1165.4 L1932.3 1165.2 L1933.6 1164.6 L1934.9 1165.0 L1936.2 1165.7 L1937.5 1165.6 L1938.8 1165.0 L1940.1 1164.7 L1941.4 1164.6 L1942.7 1164.8 L1944.0 1165.3 L1945.3 1165.4 L1946.6 1165.3 L1947.9 1164.8 L1948.0 1164.8 L1949.2 1164.1 L1950.5 1164.3 L1951.8 1164.9 L1953.1 1164.8 L1954.4 1164.3 L1955.7 1164.2 L1957.0 1164.4 L1958.3 1164.7 L1959.6 1165.1 L1960.9 1164.9 L1962.2 1164.3 L1963.5 1164.3 L1964.8 1164.6 L1966.1 1164.5 L1967.4 1164.2 L1968.7 1164.5 L1970.0 1165.1 L1971.3 1164.8 L1972.6 1164.1 L1973.9 1163.6 L1975.2 1163.1 L1976.5 1162.9 L1977.8 1162.8 L1979.1 1162.7 L1980.4 1162.7 L1981.7 1162.7 L1983.0 1162.9 L1984.3 1162.8 L1985.6 1162.6 L1986.9 1162.7 L1988.2 1162.8 L1989.5 1162.5 L1990.8 1162.1 L1992.1 1161.9 L1993.4 1161.7 L1994.7 1161.5 L1996.0 1161.4 L1997.0 1161.2 L1997.3 1161.1 L1998.6 1160.7 L1999.9 1160.3 L2001.2 1159.9 L2002.5 1159.5 L2003.8 1159.0 L2005.1 1158.3 L2006.4 1157.6 L2007.7 1156.6 L2009.0 1155.4 L2010.3 1154.3 L2011.6 1153.3 L2012.9 1152.7 L2014.2 1152.4 L2015.5 1152.2 L2016.8 1152.2 L2017.0 1152.2 L2018.1 1151.4 L2019.4 1150.2 L2020.7 1150.1 L2022.0 1150.4 L2023.3 1150.4 L2024.6 1150.4 L2025.9 1150.0 L2027.2 1149.5 L2028.5 1149.0 L2029.8 1148.6 L2031.1 1148.9 L2032.4 1149.5 L2033.7 1149.5 L2035.0 1149.2 L2036.3 1148.6 L2037.6 1147.9 L2038.9 1147.9 L2040.2 1148.3 L2041.5 1148.3 L2042.8 1148.1 L2044.1 1147.5 L2045.4 1146.7 L2046.7 1147.2 L2047.0 1147.4 L2048.0 1148.2 L2049.3 1147.8 L2050.6 1146.6 L2051.9 1146.4 L2053.2 1146.5 L2054.5 1146.3 L2055.8 1146.0 L2057.1 1146.1 L2058.4 1146.4 L2059.7 1146.2 L2061.0 1145.7 L2062.3 1145.8 L2063.6 1146.1 L2064.9 1146.5 L2066.2 1146.7 L2067.5 1146.6 L2068.8 1146.3 L2070.1 1146.1 L2071.4 1146.0 L2072.7 1146.3 L2074.0 1146.8 L2075.3 1146.5 L2076.6 1145.7 L2077.0 1145.5 L2077.9 1145.9 L2079.2 1146.6 L2080.5 1146.7 L2081.8 1146.5 L2083.1 1146.8 L2084.4 1147.3 L2085.7 1147.6 L2087.0 1148.0 L2088.3 1148.3 L2089.6 1148.7 L2090.9 1149.1 L2092.2 1149.3 L2093.5 1149.4 L2094.8 1149.4 L2096.1 1149.5 L2097.0 1149.7 L2097.4 1149.7 L2098.7 1150.0 L2100.0 1150.3 L2101.3 1150.4 L2102.6 1150.2 L2103.9 1150.0 L2105.2 1149.7 L2106.5 1149.8 L2107.8 1150.0 L2109.1 1150.0 L2110.4 1150.1 L2111.7 1150.3 L2113.0 1150.5 L2114.3 1150.6 L2115.6 1150.7 L2116.9 1150.8 L2118.2 1150.8 L2119.5 1150.6 L2120.8 1150.4 L2122.1 1150.5 L2123.4 1150.8 L2124.7 1150.6 L2126.0 1150.2 L2127.3 1149.7 L2128.6 1149.3 L2129.9 1149.8 L2131.2 1150.6 L2132.5 1150.6 L2133.8 1150.1 L2135.1 1150.1 L2136.4 1150.4 L2137.7 1150.4 L2139.0 1150.3 L2140.3 1150.7 L2141.6 1151.2 L2142.9 1151.0 L2144.2 1150.5 L2145.5 1150.6 L2146.0 1150.8 L2146.8 1151.0 L2148.1 1151.0 L2149.4 1150.8 L2150.7 1150.6 L2152.0 1150.3 L2153.3 1150.2 L2154.6 1150.1 L2155.9 1150.4 L2157.2 1151.0 L2158.5 1151.2 L2159.8 1151.2 L2161.1 1151.2 L2162.4 1151.3 L2163.7 1151.6 L2165.0 1151.9 L2166.3 1151.6 L2167.6 1151.1 L2168.9 1151.0 L2170.2 1150.9 L2171.5 1150.8 L2172.8 1150.7 L2174.1 1150.7 L2175.4 1150.7 L2176.7 1150.6 L2178.0 1150.5 L2179.3 1150.3 L2180.6 1150.1 L2181.9 1150.6 L2183.2 1151.4 L2184.5 1150.9 L2185.8 1149.7 L2187.1 1149.8 L2188.4 1150.4 L2189.7 1150.6 L2191.0 1150.6 L2192.3 1150.5 L2193.6 1150.4 L2194.9 1150.1 L2196.2 1149.8 L2197.5 1149.8 L2198.8 1150.0 L2200.1 1150.0 L2201.4 1149.9 L2202.7 1149.8 L2204.0 1149.6 L2205.3 1149.7 L2206.6 1150.0 L2207.9 1150.0 L2209.2 1149.9 L2210.5 1149.8 L2211.8 1149.7 L2213.1 1150.0 L2214.4 1150.3 L2215.7 1150.1 L2217.0 1149.5 L2218.3 1149.7 L2219.6 1150.1 L2220.9 1150.0 L2221.0 1150.0 L2222.2 1149.7 L2223.5 1149.9 L2224.8 1150.2 L2226.1 1150.2 L2227.4 1150.1 L2228.7 1150.1 L2230.0 1150.2 L2231.3 1150.0 L2232.6 1149.6 L2233.9 1149.6 L2235.2 1149.6 L2236.5 1149.7 L2237.8 1149.7 L2239.1 1149.9 L2240.4 1150.2 L2241.7 1150.5 L2243.0 1150.7 L2244.3 1150.8 L2245.6 1151.0 L2246.9 1150.7 L2248.2 1150.2 L2249.5 1150.3 L2250.8 1150.5 L2252.1 1150.2 L2253.4 1149.7 L2254.7 1149.5 L2256.0 1149.4 L2257.3 1149.6 L2258.6 1150.1 L2259.9 1150.3 L2261.2 1150.4 L2262.5 1150.3 L2263.8 1150.0 L2265.1 1150.0 L2266.4 1149.9 L2267.7 1150.4 L2269.0 1151.2 L2270.3 1151.2 L2271.6 1150.8 L2272.9 1150.5 L2274.2 1150.3 L2275.5 1151.1 L2276.8 1152.4 L2278.1 1152.3 L2279.4 1151.7 L2280.7 1151.5 L2282.0 1151.4 L2283.3 1151.6 L2284.6 1151.9 L2285.9 1151.8 L2287.2 1151.4 L2288.5 1151.8 L2289.8 1152.5 L2291.1 1152.2 L2292.4 1151.3 L2293.7 1151.1 L2295.0 1151.2 L2295.0 1151.2 L2296.3 1151.5 L2297.6 1151.9 L2298.9 1151.9 L2300.2 1151.8 L2301.5 1152.2 L2302.8 1152.9 L2304.1 1152.6 L2305.4 1151.7 L2306.7 1151.7 L2308.0 1152.0 L2309.3 1152.4 L2310.6 1152.7 L2311.9 1153.0 L2313.2 1153.1 L2314.5 1153.3 L2315.8 1153.5 L2317.1 1153.5 L2318.4 1153.4 L2319.7 1153.8 L2321.0 1154.4 L2322.3 1154.1 L2323.6 1153.3 L2324.9 1153.3 L2326.2 1153.5 L2327.5 1153.8 L2328.8 1154.1 L2330.1 1153.9 L2331.4 1153.6 L2332.7 1153.6 L2334.0 1153.6 L2335.3 1153.6 L2336.6 1153.6 L2337.9 1153.6 L2339.2 1153.6 L2340.5 1153.5 L2341.8 1153.3 L2343.1 1153.4 L2344.4 1153.6 L2345.0 1153.6 L2345.7 1153.4 L2347.0 1153.1 L2348.3 1153.4 L2349.6 1154.0 L2350.9 1153.7 L2352.2 1153.0 L2353.5 1153.5 L2354.8 1154.6 L2356.1 1154.7 L2357.4 1154.5 L2358.7 1154.3 L2360.0 1154.0 L2361.3 1153.6 L2362.6 1153.1 L2363.9 1152.8 L2365.2 1152.5 L2366.5 1152.8 L2367.8 1153.2 L2369.1 1153.0 L2370.4 1152.6 L2371.7 1152.5 L2373.0 1152.5 L2374.3 1152.1 L2375.6 1151.6 L2376.9 1151.8 L2378.2 1152.2 L2379.5 1151.9 L2380.8 1151.2 L2382.1 1151.1 L2383.4 1151.3 L2384.7 1150.9 L2386.0 1150.3 L2387.3 1150.3 L2388.6 1150.6 L2389.9 1150.9 L2391.2 1151.2 L2392.5 1151.1 L2393.8 1150.8 L2394.0 1150.7 L2395.1 1150.7 L2396.4 1150.7 L2397.7 1151.0 L2399.0 1151.4 L2400.3 1151.3 L2401.6 1151.1 L2402.9 1151.3 L2404.2 1151.7 L2405.5 1151.1 L2406.8 1150.0 L2408.1 1150.3 L2409.4 1151.3 L2410.7 1151.6 L2412.0 1151.6 L2413.3 1151.2 L2414.6 1150.6 L2415.9 1150.5 L2417.2 1150.6 L2418.5 1151.2 L2419.8 1151.9 L2421.1 1151.7 L2422.4 1151.2 L2423.7 1151.1 L2425.0 1151.3 L2426.3 1151.7 L2427.6 1152.1 L2428.9 1152.1 L2430.0 1151.9 L2430.2 1151.9 L2431.5 1152.0 L2432.8 1152.4 L2434.1 1152.3 L2435.4 1152.0 L2436.7 1152.3 L2438.0 1152.8 L2439.3 1153.2 L2440.6 1153.6 L2441.9 1153.7 L2443.2 1153.6 L2444.5 1153.2 L2445.8 1152.7 L2447.1 1153.2 L2448.4 1154.2 L2449.7 1154.5 L2451.0 1154.5 L2452.3 1154.4 L2453.6 1154.2 L2454.9 1154.7 L2456.2 1155.5 L2457.5 1155.1 L2458.8 1154.2 L2460.0 1154.6 L2460.1 1154.7 L2461.4 1155.7 L2462.7 1155.5 L2464.0 1154.7 L2465.3 1154.9 L2466.6 1155.5 L2467.9 1155.3 L2469.2 1154.7 L2470.5 1154.1 L2471.8 1153.6 L2473.1 1153.7 L2474.4 1154.0 L2475.7 1154.0 L2477.0 1153.9 L2478.3 1153.8 L2479.6 1153.8 L2480.9 1153.7 L2482.2 1153.7 L2483.5 1153.2 L2484.8 1152.5 L2486.1 1152.5 L2487.4 1152.8 L2488.7 1152.8 L2490.0 1152.8 L2491.3 1152.5 L2492.6 1152.1 L2493.9 1151.8 L2495.2 1151.5 L2496.5 1151.4 L2497.8 1151.4 L2499.0 1151.7 L2499.1 1151.7 L2500.4 1152.3 L2501.7 1152.4 L2503.0 1152.4 L2504.3 1152.1 L2505.6 1151.6 L2506.9 1151.4 L2508.2 1151.2 L2509.5 1151.7 L2510.8 1152.5 L2512.1 1152.1 L2513.4 1151.3 L2514.7 1151.4 L2516.0 1151.9 L2517.3 1151.9 L2518.6 1151.6 L2519.9 1151.3 L2521.2 1151.0 L2522.5 1151.3 L2523.8 1151.9 L2525.1 1152.0 L2526.4 1151.9 L2527.7 1152.2 L2529.0 1152.7 L2530.3 1153.0 L2531.6 1153.2 L2532.9 1152.8 L2534.2 1152.1 L2535.5 1152.1 L2536.8 1152.5 L2538.1 1152.6 L2539.4 1152.6 L2540.7 1152.3 L2542.0 1151.8 L2543.3 1151.6 L2544.6 1151.5 L2545.9 1152.0 L2547.2 1152.7 L2548.5 1152.5 L2549.8 1151.9 L2551.1 1151.8 L2552.4 1151.9 L2553.7 1151.9 L2555.0 1151.8 L2556.3 1151.8 L2557.6 1151.9 L2558.9 1151.8 L2560.2 1151.6 L2561.5 1151.9 L2562.8 1152.3 L2564.1 1152.5 L2565.4 1152.7 L2566.7 1152.4 L2568.0 1151.9 L2569.3 1151.5 L2570.6 1151.2 L2571.9 1151.4 L2573.2 1151.9 L2574.0 1151.9 L2574.5 1151.7 L2575.8 1151.2 L2577.1 1151.3 L2578.4 1151.6 L2579.7 1152.0 L2581.0 1152.6 L2582.3 1153.1 L2583.6 1153.5 L2584.9 1153.2 L2586.2 1152.7 L2587.5 1152.3 L2588.8 1151.9 L2590.1 1152.2 L2591.4 1152.8 L2592.7 1152.5 L2594.0 1151.6 L2595.3 1151.8 L2596.6 1152.3 L2597.9 1153.0 L2599.2 1153.7 L2600.5 1153.8 L2601.8 1153.7 L2603.1 1153.3 L2604.4 1152.7 L2605.7 1152.5 L2607.0 1152.5 L2608.3 1153.1 L2609.6 1153.9 L2610.9 1154.0 L2612.2 1153.8 L2613.5 1153.6 L2614.8 1153.5 L2616.1 1153.7 L2617.4 1154.0 L2618.7 1154.0 L2620.0 1153.7 L2621.3 1153.3 L2622.6 1152.9 L2623.0 1152.8 L2623.9 1153.4 L2625.2 1154.2 L2626.5 1154.1 L2627.8 1153.7 L2629.1 1153.5 L2630.4 1153.4 L2631.7 1153.2 L2633.0 1153.1 L2634.3 1153.4 L2635.6 1153.8 L2636.9 1153.7 L2638.2 1153.4 L2639.5 1153.6 L2640.8 1153.9 L2642.1 1153.8 L2643.4 1153.5 L2644.7 1153.7 L2646.0 1154.1 L2647.3 1153.8 L2648.6 1153.3 L2649.9 1153.1 L2651.2 1153.0 L2652.5 1152.6 L2653.8 1152.2 L2655.1 1152.2 L2656.4 1152.4 L2657.7 1152.8 L2659.0 1153.3 L2660.3 1153.8 L2661.6 1154.5 L2662.9 1153.7 L2664.2 1152.4 L2665.5 1152.0 L2666.8 1152.0 L2668.1 1152.2 L2669.4 1152.5 L2670.7 1152.6 L2672.0 1152.6 L2673.3 1152.3 L2674.6 1151.9 L2675.9 1151.8 L2677.2 1152.0 L2678.0 1151.9 L2678.5 1151.6 L2679.8 1151.0 L2681.1 1151.0 L2682.4 1151.3 L2683.7 1151.5 L2685.0 1151.7 L2686.3 1151.8 L2687.6 1151.8 L2688.9 1151.3 L2690.2 1150.6 L2691.5 1150.2 L2692.8 1149.9 L2694.1 1149.8 L2695.4 1149.8 L2696.7 1149.8 L2698.0 1149.8 L2699.3 1149.5 L2700.6 1149.1 L2701.9 1148.6 L2703.2 1148.0 L2704.5 1147.9 L2705.8 1148.0 L2707.1 1148.1 L2708.4 1148.1 L2709.7 1147.7 L2711.0 1147.0 L2712.3 1146.6 L2713.6 1146.4 L2714.9 1146.6 L2716.2 1147.1 L2717.5 1147.2 L2718.0 1147.2 L2718.8 1147.2 L2720.1 1147.3 L2721.4 1147.5 L2722.7 1147.5 L2724.0 1147.2 L2725.3 1147.1 L2726.6 1146.9 L2727.9 1147.0 L2729.2 1147.1 L2730.5 1147.1 L2731.8 1147.1 L2733.1 1147.2 L2734.4 1147.3 L2735.7 1147.5 L2737.0 1147.8 L2738.3 1147.9 L2739.6 1148.1 L2740.9 1148.6 L2742.2 1149.2 L2743.5 1149.0 L2744.8 1148.4 L2746.1 1148.6 L2747.4 1149.0 L2748.7 1149.2 L2750.0 1149.1 L2751.3 1149.6 L2752.6 1150.4 L2753.9 1150.4 L2755.2 1150.1 L2756.5 1150.0 L2757.0 1149.9 L2757.8 1149.9 L2759.1 1150.1 L2760.4 1150.5 L2761.7 1150.6 L2763.0 1150.4 L2764.3 1150.3 L2765.6 1150.2 L2766.9 1150.6 L2768.2 1151.3 L2769.5 1151.4 L2770.8 1151.2 L2772.1 1151.4 L2773.4 1151.7 L2774.7 1151.8 L2776.0 1151.7 L2777.3 1151.6 L2778.6 1151.5 L2779.9 1151.4 L2781.2 1151.3 L2782.5 1151.0 L2783.8 1150.7 L2785.1 1151.1 L2786.4 1151.7 L2787.7 1151.8 L2789.0 1151.6 L2790.3 1151.8 L2791.6 1152.0 L2792.9 1152.0 L2794.2 1151.9 L2795.5 1151.7 L2796.8 1151.6 L2797.0 1151.6 L2798.1 1151.6 L2799.4 1151.6 L2800.7 1152.0 L2802.0 1152.6 L2803.3 1153.0 L2804.6 1153.3 L2805.9 1153.1 L2807.2 1152.8 L2808.5 1152.9 L2809.8 1153.3 L2811.1 1153.7 L2812.4 1154.1 L2813.7 1153.8 L2815.0 1153.3 L2816.3 1153.3 L2817.6 1153.6 L2818.9 1153.7 L2820.2 1153.6 L2821.5 1154.1 L2822.8 1154.9 L2824.1 1155.1 L2825.4 1154.9 L2826.7 1154.8 L2828.0 1154.7 L2829.3 1154.6 L2830.6 1154.3 L2831.9 1154.6 L2833.2 1155.2 L2834.5 1155.6 L2835.8 1156.1 L2837.1 1156.0 L2838.4 1155.7 L2839.7 1155.6 L2841.0 1155.6 L2842.3 1155.9 L2843.6 1156.2 L2844.9 1156.0 L2846.2 1155.4 L2847.0 1155.4 L2847.5 1155.5 L2848.8 1155.9 L2850.1 1156.1 L2851.4 1156.2 L2852.7 1155.9 L2854.0 1155.4 L2855.3 1155.2 L2856.6 1155.1 L2857.9 1155.2 L2859.2 1155.4 L2860.5 1155.3 L2861.8 1155.1 L2863.1 1154.9 L2864.4 1154.7 L2865.7 1154.7 L2867.0 1154.7 L2868.3 1154.5 L2869.6 1154.4 L2870.9 1154.0 L2872.2 1153.5 L2873.5 1153.3 L2874.8 1153.2 L2876.1 1153.3 L2877.4 1153.5 L2878.7 1153.6 L2880.0 1153.7 L2881.3 1153.6 L2882.6 1153.6 L2883.9 1153.0 L2885.2 1152.2 L2886.5 1152.3 L2887.8 1152.8 L2889.1 1152.8 L2890.4 1152.7 L2891.7 1152.4 L2893.0 1152.1 L2894.3 1152.1 L2895.6 1152.2 L2896.9 1152.3 L2897.0 1152.3 L2898.2 1152.4 L2899.5 1152.7 L2900.8 1153.0 L2902.1 1152.5 L2903.4 1151.7 L2904.7 1151.8 L2906.0 1152.4 L2907.3 1152.4 L2908.6 1152.2 L2909.9 1152.2 L2911.2 1152.3 L2912.5 1152.6 L2913.8 1153.1 L2915.1 1153.2 L2916.4 1153.2 L2917.7 1152.9 L2919.0 1152.4 L2920.3 1152.5 L2921.6 1152.8 L2922.9 1153.1 L2924.2 1153.3 L2925.5 1153.2 L2926.8 1152.8 L2928.1 1153.2 L2929.4 1154.0 L2930.7 1154.1 L2932.0 1153.9 L2933.3 1154.0 L2934.6 1154.2 L2935.9 1154.3 L2937.2 1154.5 L2938.5 1154.9 L2939.8 1155.5 L2941.1 1155.3 L2942.4 1154.9 L2943.7 1154.8 L2945.0 1154.7 L2946.0 1155.1 L2946.3 1155.2 L2947.6 1155.9 L2948.9 1155.8 L2950.2 1155.2 L2951.5 1155.1 L2952.8 1155.2 L2954.1 1155.2 L2955.4 1155.0 L2956.7 1155.6 L2958.0 1156.5 L2959.3 1156.7 L2960.6 1156.5 L2961.9 1156.7 L2963.2 1156.9 L2964.5 1156.9 L2965.8 1157.0 L2967.1 1157.0 L2968.4 1157.1 L2969.7 1157.1 L2971.0 1157.0 L2972.3 1157.1 L2973.6 1157.2 L2974.9 1157.6 L2976.2 1158.1 L2977.5 1158.2 L2978.8 1158.3 L2980.1 1158.6 L2981.4 1159.2 L2982.7 1158.9 L2984.0 1158.3 L2985.3 1158.2 L2986.6 1158.4 L2987.9 1158.4 L2989.2 1158.3 L2990.5 1158.8 L2991.8 1159.5 L2993.1 1159.2 L2994.4 1158.5 L2995.7 1158.7 L2996.0 1158.8 L2997.0 1159.3 L2998.3 1159.6 L2999.6 1159.7 L3000.9 1159.5 L3002.2 1159.0 L3003.5 1159.0 L3004.8 1159.2 L3006.1 1158.6 L3007.4 1157.7 L3008.7 1157.8 L3010.0 1158.2 L3011.3 1158.0 L3012.6 1157.6 L3013.9 1157.8 L3015.2 1158.2 L3016.5 1158.3 L3017.8 1158.1 L3019.1 1157.9 L3020.4 1157.5 L3021.7 1157.7 L3023.0 1158.1 L3024.3 1158.0 L3025.6 1157.8 L3026.9 1157.4 L3028.2 1157.0 L3029.5 1156.8 L3030.8 1156.7 L3031.0 1156.7 L3032.1 1156.4 L3033.4 1155.9 L3034.7 1155.8 L3036.0 1155.8 L3037.3 1156.1 L3038.6 1156.4 L3039.9 1155.6 L3041.2 1154.4 L3042.5 1153.9 L3043.8 1153.8 L3045.1 1153.3 L3046.4 1152.6 L3047.7 1152.4 L3049.0 1152.4 L3050.3 1152.1 L3051.6 1151.8 L3052.9 1151.4 L3054.2 1151.0 L3055.0 1150.7 L3055.5 1150.5 L3056.8 1149.9 L3058.1 1150.0 L3059.4 1150.2 L3060.7 1150.6 L3062.0 1151.0 L3063.3 1150.8 L3064.6 1150.3 L3065.9 1150.3 L3067.2 1150.5 L3068.5 1150.2 L3069.8 1149.8 L3071.1 1149.4 L3072.4 1148.9 L3073.7 1149.2 L3075.0 1149.8 L3076.3 1149.9 L3077.6 1149.8 L3078.9 1149.6 L3080.2 1149.2 L3081.5 1149.2 L3082.8 1149.2 L3084.1 1149.3 L3085.4 1149.4 L3086.7 1149.3 L3088.0 1149.0 L3089.3 1149.0 L3090.6 1149.3 L3091.9 1149.2 L3093.2 1149.0 L3094.5 1148.5 L3095.8 1147.9 L3097.1 1148.1 L3098.4 1148.7 L3099.7 1148.8 L3101.0 1148.7 L3102.3 1148.6 L3103.6 1148.5 L3104.9 1148.7 L3105.0 1148.8 L3106.2 1149.1 L3107.5 1149.1 L3108.8 1148.9 L3110.1 1149.1 L3111.4 1149.5 L3112.7 1149.8 L3114.0 1150.1 L3115.3 1150.1 L3116.6 1149.9 L3117.9 1149.6 L3119.2 1149.3 L3120.5 1149.5 L3121.8 1149.9 L3123.1 1150.5 L3124.4 1151.1 L3125.7 1151.2 L3127.0 1151.0 L3128.3 1150.9 L3129.6 1150.9 L3130.9 1151.2 L3132.2 1151.5 L3133.5 1151.8 L3134.8 1152.1 L3136.1 1152.1 L3137.4 1152.1 L3138.7 1152.2 L3140.0 1152.3 L3140.0 1152.3 L3141.3 1150.4 L3142.6 1146.3 L3143.9 1142.4 L3145.0 1140.7 L3145.2 1140.6 L3146.5 1139.8 L3147.8 1139.1 L3149.1 1138.5 L3150.4 1137.9 L3151.7 1137.0 L3153.0 1135.9 L3154.3 1135.7 L3155.6 1135.9 L3156.9 1135.5 L3158.2 1134.8 L3159.5 1135.0 L3160.8 1135.5 L3162.1 1135.5 L3163.4 1135.3 L3164.7 1135.0 L3165.0 1134.9 L3166.0 1134.7 L3167.3 1134.2 L3168.6 1133.7 L3169.9 1133.0 L3171.2 1132.4 L3172.5 1132.2 L3173.8 1132.4 L3175.1 1132.0 L3176.4 1131.4 L3177.7 1131.2 L3179.0 1131.2 L3180.3 1130.7 L3181.6 1130.0 L3182.9 1129.6 L3184.2 1129.5 L3185.5 1129.5 L3186.8 1129.6 L3188.1 1129.7 L3189.4 1129.9 L3190.7 1129.4 L3192.0 1128.7 L3193.3 1128.8 L3194.6 1129.3 L3195.9 1129.4 L3197.2 1129.4 L3198.5 1128.4 L3199.8 1127.1 L3201.1 1126.8 L3202.4 1127.0 L3203.7 1126.8 L3204.0 1126.7 L3205.0 1126.4 L3206.3 1126.3 L3207.6 1126.4 L3208.9 1126.3 L3210.2 1126.0 L3211.5 1125.9 L3212.8 1125.9 L3214.1 1126.1 L3215.4 1126.2 L3216.7 1126.2 L3218.0 1126.1 L3219.3 1125.8 L3220.6 1125.5 L3221.9 1125.3 L3223.2 1125.2 L3224.5 1125.1 L3225.8 1125.1 L3227.1 1125.1 L3228.4 1125.1 L3229.0 1125.1 L3229.7 1125.3 L3231.0 1126.6 L3232.3 1128.4 L3233.6 1130.4 L3234.9 1132.6 L3236.2 1134.5 L3237.0 1135.1 L3237.5 1135.2 L3238.8 1135.5 L3240.1 1136.5 L3241.4 1137.8 L3242.7 1138.8 L3244.0 1139.7 L3245.3 1140.0 L3246.6 1140.0 L3247.9 1140.0 L3249.2 1140.0 L3250.5 1140.8 L3251.8 1142.0 L3253.1 1142.2 L3254.0 1142.1 L3254.4 1142.0 L3255.7 1141.7 L3257.0 1141.2 L3258.3 1141.8 L3259.6 1142.9 L3260.9 1143.6 L3262.2 1144.1 L3263.5 1144.3 L3264.8 1144.5 L3266.1 1144.9 L3267.4 1145.4 L3268.7 1145.5 L3270.0 1145.5 L3271.3 1145.6 L3272.6 1145.6 L3273.9 1145.3 L3275.2 1144.9 L3276.5 1145.0 L3277.8 1145.5 L3279.1 1146.0 L3280.4 1146.5 L3281.7 1146.9 L3283.0 1147.2 L3284.0 1147.2 L3284.3 1147.1 L3285.6 1146.7 L3286.9 1146.8 L3288.2 1147.1 L3289.5 1147.5 L3290.8 1148.0 L3292.1 1147.8 L3293.4 1147.2 L3294.7 1147.1 L3296.0 1147.2 L3297.3 1147.7 L3298.6 1148.4 L3299.9 1148.8 L3301.2 1149.0 L3302.5 1149.1 L3303.8 1149.0 L3305.1 1148.6 L3306.4 1148.2 L3307.7 1148.6 L3309.0 1149.4 L3310.3 1149.5 L3311.6 1149.2 L3312.9 1149.5 L3314.0 1150.1"/>
<path class="c" stroke="#0080ff" d="M61.6 1185.7 L62.9 1201.0 L63.3 1204.2 L64.2 1209.4 L65.5 1215.8 L66.8 1221.1 L66.9 1221.4 L68.1 1225.1 L69.4 1228.6 L70.7 1231.4 L72.0 1233.9 L73.3 1236.4 L74.0 1237.7 L74.6 1238.8 L75.9 1240.7 L77.2 1242.2 L78.5 1243.6 L79.8 1245.1 L81.1 1246.6 L82.4 1248.3 L83.7 1250.1 L83.8 1250.3 L85.0 1252.1 L86.3 1253.7 L87.6 1255.1 L88.9 1256.9 L90.2 1258.9 L91.5 1260.5 L92.8 1261.9 L94.1 1264.0 L95.4 1266.3 L95.8 1267.1 L96.7 1268.6 L98.0 1270.8 L99.3 1272.8 L100.6 1274.7 L101.9 1276.5 L103.2 1278.3 L104.5 1279.8 L105.5 1280.8 L105.8 1281.1 L107.1 1282.5 L108.4 1283.8 L109.7 1285.4 L111.0 1287.0 L112.3 1288.1 L113.6 1289.0 L114.9 1290.2 L116.2 1291.5 L117.5 1293.2 L118.8 1295.2 L120.0 1296.2 L120.1 1296.3 L121.4 1297.0 L122.7 1298.8 L124.0 1301.0 L125.3 1301.9 L126.6 1302.3 L127.9 1303.7 L129.2 1305.6 L130.5 1306.7 L131.8 1307.3 L133.1 1308.6 L134.4 1310.0 L134.4 1310.0 L135.7 1310.8 L137.0 1311.3 L138.3 1312.2 L139.6 1313.3 L140.9 1314.2 L142.2 1314.8 L143.5 1315.5 L144.8 1316.1 L146.1 1316.9 L147.4 1317.9 L148.0 1318.3 L148.7 1318.9 L150.0 1319.8 L151.3 1320.1 L152.6 1320.2 L153.9 1320.9 L155.2 1321.9 L156.5 1322.5 L157.8 1322.9 L159.1 1323.4 L160.4 1323.9 L161.7 1325.0 L163.0 1326.2 L164.3 1326.1 L165.6 1325.4 L166.9 1325.8 L168.2 1326.9 L169.5 1327.3 L170.8 1327.6 L172.1 1328.4 L173.4 1329.4 L174.0 1329.8 L174.7 1330.1 L176.0 1330.7 L177.3 1332.1 L178.6 1333.9 L179.9 1334.1 L181.2 1333.7 L182.5 1334.2 L183.8 1335.3 L185.0 1336.0 L185.1 1336.0 L186.4 1336.7 L187.7 1337.3 L189.0 1338.0 L190.3 1339.1 L191.6 1340.4 L192.9 1341.5 L194.2 1342.3 L195.0 1342.3 L195.5 1341.5 L196.8 1335.0 L198.1 1327.0 L198.5 1325.1 L199.4 1321.3 L200.7 1315.9 L202.0 1310.8 L203.3 1305.8 L204.3 1302.4 L204.6 1301.5 L205.9 1298.4 L207.2 1295.8 L208.5 1293.7 L209.8 1291.7 L211.1 1289.6 L212.4 1287.4 L213.7 1284.6 L214.0 1283.9 L215.0 1281.3 L216.3 1277.7 L217.6 1274.1 L218.9 1270.7 L220.2 1267.8 L221.5 1266.0 L222.4 1265.6 L222.8 1265.7 L224.1 1267.8 L225.4 1271.5 L226.7 1275.8 L228.0 1279.9 L228.4 1281.1 L229.3 1284.2 L230.6 1289.7 L231.9 1294.0 L233.0 1295.4 L233.2 1295.3 L234.5 1295.5 L235.8 1295.8 L237.1 1296.3 L238.4 1296.9 L239.7 1296.7 L241.0 1296.2 L242.3 1296.4 L243.0 1296.7 L243.6 1297.0 L244.9 1296.9 L246.2 1296.6 L247.5 1296.5 L248.8 1296.4 L250.1 1296.6 L251.4 1297.0 L252.7 1296.7 L254.0 1296.3 L255.3 1296.0 L256.6 1295.9 L257.9 1295.8 L259.2 1295.8 L260.5 1295.9 L261.8 1296.1 L263.1 1296.6 L264.4 1297.4 L265.7 1296.6 L267.0 1295.2 L267.0 1295.2 L268.3 1295.2 L269.6 1295.9 L270.9 1296.2 L272.2 1296.3 L273.5 1296.8 L274.8 1297.4 L276.1 1297.6 L277.4 1297.5 L278.7 1297.3 L279.0 1297.2 L280.0 1297.0 L281.3 1298.2 L282.6 1300.1 L283.9 1300.8 L285.2 1301.1 L286.5 1302.0 L287.8 1303.3 L289.1 1304.0 L290.4 1304.5 L291.0 1304.7 L291.7 1305.1 L293.0 1305.8 L294.3 1306.6 L295.6 1307.5 L296.9 1308.4 L298.2 1309.4 L299.5 1310.1 L300.8 1310.7 L302.1 1311.0 L303.4 1311.1 L304.7 1311.8 L306.0 1312.7 L307.3 1313.1 L308.6 1313.4 L309.9 1313.9 L311.2 1314.6 L312.5 1315.1 L313.8 1315.6 L315.0 1316.2 L315.1 1316.2 L316.4 1316.8 L317.7 1317.1 L319.0 1317.1 L320.3 1317.6 L321.6 1318.1 L322.9 1318.7 L324.2 1319.2 L325.5 1319.6 L326.8 1320.0 L327.0 1320.0 L328.1 1320.2 L329.4 1320.3 L330.7 1321.2 L332.0 1322.3 L333.3 1322.5 L334.6 1322.3 L335.9 1322.7 L337.2 1323.5 L338.5 1323.8 L339.8 1324.1 L341.1 1324.6 L342.4 1325.3 L343.7 1325.1 L345.0 1324.4 L346.3 1325.4 L347.0 1326.2 L347.6 1327.0 L348.9 1327.3 L350.2 1326.9 L351.5 1326.9 L352.8 1326.9 L354.1 1327.4 L355.4 1328.1 L356.7 1329.0 L358.0 1329.9 L359.3 1330.1 L360.6 1329.9 L361.9 1329.7 L363.2 1329.6 L364.5 1330.0 L365.8 1330.6 L367.1 1331.4 L368.4 1332.4 L369.0 1332.7 L369.7 1332.5 L371.0 1332.2 L372.3 1332.7 L373.6 1333.7 L374.9 1334.4 L376.2 1335.0 L377.5 1336.2 L378.8 1337.7 L380.1 1338.1 L381.4 1338.1 L382.7 1338.9 L384.0 1340.1 L385.3 1340.5 L386.6 1340.6 L387.9 1341.1 L389.2 1341.7 L390.5 1342.7 L391.0 1343.1 L391.8 1343.8 L393.1 1344.6 L394.4 1345.1 L395.7 1344.9 L396.0 1344.7 L397.0 1342.9 L398.3 1338.6 L399.6 1333.0 L400.9 1326.7 L402.0 1322.4 L402.2 1321.7 L403.5 1317.1 L404.8 1312.3 L406.1 1308.3 L407.4 1305.4 L408.7 1303.4 L409.0 1303.1 L410.0 1302.4 L411.3 1301.5 L412.6 1300.5 L413.9 1299.8 L415.2 1299.3 L416.5 1298.9 L417.8 1298.7 L419.0 1298.7 L419.1 1298.7 L420.4 1298.9 L421.7 1299.2 L423.0 1299.5 L424.3 1300.4 L425.6 1301.7 L426.9 1302.4 L428.2 1302.9 L429.5 1304.0 L430.8 1305.3 L431.0 1305.5 L432.1 1306.1 L433.4 1306.7 L434.7 1307.2 L436.0 1307.6 L437.3 1308.5 L438.6 1309.7 L439.9 1310.8 L441.2 1311.8 L442.5 1312.5 L443.8 1313.0 L445.1 1313.1 L446.4 1313.1 L447.7 1314.2 L449.0 1315.8 L450.0 1316.6 L450.3 1316.7 L451.6 1317.4 L452.9 1318.2 L454.2 1319.2 L455.5 1320.2 L456.8 1321.2 L458.1 1322.5 L459.4 1324.0 L460.7 1325.6 L462.0 1327.4 L463.3 1328.7 L464.6 1329.8 L465.9 1330.9 L467.2 1331.9 L468.5 1333.2 L469.8 1334.5 L471.1 1335.9 L472.4 1337.3 L473.7 1338.8 L475.0 1340.4 L476.3 1342.0 L477.6 1343.6 L478.0 1344.1 L478.9 1344.3 L480.2 1344.6 L481.5 1345.7 L482.8 1347.2 L484.1 1348.4 L485.4 1349.4 L486.7 1350.4 L488.0 1351.5 L489.3 1352.8 L490.6 1354.2 L491.9 1355.5 L493.2 1356.6 L494.5 1357.3 L495.8 1357.8 L497.1 1358.7 L498.4 1359.9 L499.0 1360.5 L499.7 1361.4 L501.0 1363.1 L502.3 1364.1 L503.6 1364.9 L504.9 1365.8 L506.2 1366.9 L507.5 1367.7 L508.8 1368.3 L510.1 1369.2 L511.4 1370.2 L512.7 1371.2 L514.0 1372.3 L515.3 1373.0 L516.6 1373.5 L517.0 1373.7 L517.9 1374.1 L519.2 1374.8 L520.5 1375.8 L521.8 1376.9 L523.1 1377.8 L524.4 1378.4 L525.0 1378.4 L525.7 1378.1 L527.0 1377.0 L528.3 1376.5 L529.6 1376.0 L530.9 1374.9 L532.2 1373.4 L533.5 1371.6 L534.0 1370.9 L534.8 1369.7 L536.1 1368.1 L537.4 1366.4 L538.7 1364.3 L540.0 1362.0 L541.3 1359.7 L542.6 1357.3 L543.9 1354.7 L545.2 1352.1 L546.5 1349.0 L547.0 1347.7 L547.8 1345.7 L549.1 1342.6 L550.4 1339.5 L551.7 1336.8 L553.0 1334.2 L554.3 1330.9 L555.6 1327.4 L556.9 1324.2 L558.2 1321.2 L559.5 1318.3 L560.0 1317.2 L560.8 1315.5 L562.1 1313.2 L563.4 1311.0 L564.7 1308.1 L566.0 1304.9 L567.3 1302.7 L568.6 1301.1 L569.9 1298.6 L571.2 1295.8 L572.5 1293.7 L573.0 1293.0 L573.8 1291.9 L575.1 1289.9 L576.4 1287.9 L577.7 1285.2 L579.0 1282.3 L580.3 1280.3 L581.6 1278.7 L582.9 1276.6 L584.2 1274.3 L585.5 1272.2 L586.8 1270.1 L588.1 1268.0 L589.4 1266.0 L590.0 1265.0 L590.7 1263.6 L592.0 1261.2 L593.3 1258.9 L594.6 1256.8 L595.9 1255.0 L597.2 1253.4 L598.5 1251.4 L599.8 1249.3 L601.1 1246.9 L602.4 1244.3 L603.7 1241.8 L605.0 1239.4 L606.3 1237.8 L607.6 1236.7 L608.0 1236.4 L608.9 1234.5 L610.2 1231.7 L611.5 1228.9 L612.8 1226.2 L614.1 1223.3 L615.4 1220.5 L616.7 1218.1 L618.0 1216.1 L619.0 1214.7 L619.3 1214.4 L620.6 1212.5 L621.9 1210.5 L623.0 1209.6 L623.2 1209.6 L624.5 1214.9 L625.8 1224.1 L627.0 1230.7 L627.1 1231.0 L628.4 1235.5 L629.7 1240.0 L631.0 1244.3 L632.3 1247.8 L633.6 1250.6 L634.0 1251.4 L634.9 1253.4 L636.2 1256.3 L637.5 1259.1 L638.8 1261.6 L640.1 1263.6 L641.4 1264.9 L642.0 1265.1 L642.7 1265.0 L644.0 1264.9 L645.3 1264.8 L646.6 1264.8 L647.9 1264.9 L649.0 1265.1 L649.2 1265.1 L650.5 1265.4 L651.8 1265.9 L653.1 1267.0 L654.4 1268.4 L655.7 1269.4 L657.0 1270.2 L658.3 1271.4 L659.6 1272.6 L660.9 1274.3 L662.2 1276.0 L663.5 1277.8 L664.0 1278.4 L664.8 1279.5 L666.1 1280.5 L667.4 1281.3 L668.7 1282.7 L670.0 1284.3 L671.3 1285.8 L672.6 1287.2 L673.9 1288.8 L675.2 1290.5 L676.5 1292.1 L677.8 1293.5 L679.1 1294.8 L680.4 1295.9 L681.7 1297.3 L682.0 1297.7 L683.0 1298.9 L684.3 1300.9 L685.6 1303.0 L686.9 1304.7 L688.2 1305.9 L689.5 1306.5 L690.0 1306.6 L690.8 1306.1 L692.1 1304.1 L693.4 1301.2 L694.7 1298.0 L696.0 1295.5 L697.0 1294.8 L697.3 1294.8 L698.6 1294.9 L699.9 1295.3 L701.2 1296.0 L702.5 1296.0 L703.8 1295.8 L705.1 1296.2 L706.4 1296.9 L707.7 1297.0 L709.0 1296.7 L710.3 1297.1 L711.6 1297.6 L712.0 1297.8 L712.9 1297.7 L714.2 1297.6 L715.5 1297.5 L716.8 1297.3 L718.1 1297.6 L719.4 1298.2 L720.7 1298.1 L721.0 1298.0 L722.0 1296.3 L723.3 1291.2 L724.6 1284.6 L725.9 1277.9 L727.0 1273.8 L727.2 1273.3 L728.5 1269.8 L729.8 1266.5 L731.1 1263.9 L732.4 1261.9 L733.7 1259.2 L735.0 1256.4 L736.3 1254.3 L737.6 1252.6 L738.0 1252.1 L738.9 1250.6 L740.2 1248.6 L741.5 1247.1 L742.8 1245.9 L744.1 1244.7 L745.4 1243.5 L746.7 1242.4 L748.0 1241.2 L749.3 1240.1 L750.6 1239.0 L751.0 1238.6 L751.9 1238.0 L753.2 1237.1 L754.5 1236.3 L755.8 1235.6 L757.1 1234.5 L758.4 1233.4 L759.7 1232.9 L760.0 1232.9 L761.0 1233.9 L762.3 1237.5 L763.6 1242.5 L764.9 1248.5 L766.0 1253.1 L766.2 1253.8 L767.5 1257.7 L768.8 1261.3 L770.1 1264.8 L771.4 1268.3 L772.7 1271.8 L774.0 1275.3 L775.3 1278.3 L776.6 1280.8 L777.0 1281.6 L777.9 1283.6 L779.2 1286.8 L780.5 1290.0 L781.8 1293.0 L783.1 1295.7 L784.4 1298.0 L785.7 1299.5 L787.0 1300.3 L788.0 1300.5 L788.3 1300.4 L789.6 1298.5 L790.9 1295.3 L792.2 1292.0 L793.5 1289.6 L794.0 1289.2 L794.8 1288.9 L796.1 1288.1 L797.4 1287.0 L798.7 1287.0 L800.0 1287.4 L801.3 1287.6 L802.6 1287.8 L803.9 1287.4 L805.2 1286.8 L806.5 1286.8 L807.0 1286.9 L807.8 1287.1 L809.1 1287.1 L810.4 1287.0 L811.7 1287.8 L813.0 1289.1 L814.3 1289.6 L815.6 1289.8 L816.9 1290.2 L817.0 1290.3 L818.2 1290.9 L819.5 1291.9 L820.8 1293.0 L822.1 1294.6 L823.4 1296.5 L824.7 1297.2 L826.0 1297.4 L827.3 1298.2 L828.6 1299.2 L829.9 1300.7 L831.2 1302.3 L832.5 1303.6 L833.8 1304.7 L835.1 1306.1 L836.4 1307.6 L837.7 1308.1 L839.0 1308.2 L840.3 1308.7 L841.6 1309.4 L842.9 1310.3 L843.0 1310.3 L844.2 1311.2 L845.5 1312.0 L846.8 1312.6 L848.1 1313.1 L849.4 1313.5 L850.7 1314.0 L852.0 1314.5 L853.3 1314.4 L854.6 1314.0 L855.9 1314.3 L857.2 1314.9 L858.5 1315.6 L859.8 1316.3 L861.0 1317.1 L861.1 1317.1 L862.4 1318.2 L863.7 1319.2 L865.0 1320.2 L866.3 1321.2 L867.6 1322.2 L868.9 1323.3 L870.2 1324.2 L871.5 1325.5 L872.8 1326.8 L874.1 1327.4 L875.0 1327.5 L875.4 1327.5 L876.7 1327.3 L878.0 1326.6 L879.3 1324.4 L880.6 1321.5 L881.9 1319.2 L883.2 1317.1 L884.5 1314.1 L885.8 1310.7 L887.0 1308.4 L887.1 1308.2 L888.4 1306.1 L889.7 1303.6 L891.0 1300.9 L892.3 1298.2 L893.6 1295.4 L894.9 1292.4 L896.2 1289.3 L897.5 1286.3 L898.8 1283.3 L900.1 1280.4 L901.4 1277.5 L902.7 1274.4 L904.0 1271.3 L905.3 1268.6 L906.6 1266.2 L907.9 1263.4 L909.0 1261.0 L909.2 1260.6 L910.5 1258.1 L911.8 1255.6 L913.1 1253.6 L914.4 1251.6 L915.7 1249.2 L917.0 1246.6 L918.3 1244.2 L919.6 1241.9 L920.9 1239.6 L922.2 1237.3 L923.5 1235.1 L924.8 1232.9 L926.1 1230.8 L927.4 1228.8 L928.7 1226.3 L930.0 1223.6 L930.0 1223.6 L931.3 1221.4 L932.6 1219.2 L933.9 1216.4 L935.2 1213.6 L936.5 1210.9 L937.8 1208.4 L939.1 1206.4 L940.4 1205.0 L941.0 1204.6 L941.7 1205.1 L943.0 1208.3 L944.3 1213.9 L945.6 1219.9 L946.9 1224.5 L948.0 1226.0 L948.2 1226.0 L949.5 1225.8 L950.8 1225.0 L952.1 1223.4 L953.4 1221.5 L954.7 1219.6 L956.0 1217.8 L957.3 1216.5 L958.6 1215.8 L959.9 1214.7 L961.0 1213.9 L961.2 1213.8 L962.5 1214.6 L963.8 1216.7 L965.1 1219.2 L966.4 1222.0 L967.7 1224.7 L969.0 1227.4 L970.3 1230.8 L971.6 1234.4 L972.9 1237.1 L974.0 1238.8 L974.2 1239.0 L975.5 1240.8 L976.8 1242.5 L978.1 1244.1 L979.4 1245.5 L980.7 1247.2 L982.0 1248.9 L983.3 1250.9 L984.6 1252.9 L985.9 1254.3 L987.2 1255.4 L988.5 1256.7 L989.8 1258.1 L991.0 1258.9 L991.1 1259.0 L992.4 1259.6 L993.7 1260.5 L995.0 1261.7 L996.3 1262.6 L997.6 1263.4 L998.9 1264.0 L1000.2 1264.4 L1001.5 1265.0 L1002.8 1265.6 L1004.1 1266.8 L1005.4 1268.1 L1006.7 1268.9 L1008.0 1269.4 L1009.3 1269.8 L1010.6 1270.2 L1011.9 1270.9 L1013.2 1271.8 L1014.5 1272.7 L1015.8 1273.6 L1017.0 1274.6 L1017.1 1274.7 L1018.4 1275.8 L1019.7 1276.1 L1021.0 1276.2 L1022.3 1277.1 L1023.6 1278.5 L1024.9 1279.8 L1026.2 1281.2 L1027.5 1281.8 L1028.8 1282.1 L1030.1 1283.1 L1031.4 1284.4 L1032.7 1284.6 L1034.0 1284.2 L1035.3 1285.4 L1036.6 1287.2 L1037.9 1287.9 L1039.2 1288.0 L1040.5 1287.9 L1041.8 1287.7 L1043.1 1288.3 L1044.4 1289.2 L1045.0 1289.5 L1045.7 1289.4 L1047.0 1289.1 L1048.3 1288.3 L1049.6 1287.4 L1050.9 1286.4 L1052.2 1285.3 L1053.5 1284.2 L1054.8 1283.3 L1056.0 1282.8 L1056.1 1282.8 L1057.4 1282.7 L1058.7 1282.9 L1060.0 1283.2 L1061.3 1283.7 L1062.6 1284.3 L1063.9 1284.9 L1065.2 1285.5 L1066.5 1286.0 L1067.8 1286.3 L1069.0 1286.8 L1069.1 1286.9 L1070.4 1287.7 L1071.7 1288.8 L1073.0 1290.1 L1074.3 1291.1 L1075.6 1292.1 L1076.9 1293.6 L1078.2 1295.2 L1079.5 1296.2 L1080.8 1296.9 L1082.0 1296.7 L1082.1 1296.6 L1083.4 1295.9 L1084.7 1296.0 L1086.0 1296.4 L1087.3 1296.5 L1088.6 1296.4 L1089.9 1296.5 L1091.2 1296.7 L1092.5 1297.1 L1093.8 1297.7 L1095.1 1297.7 L1096.4 1297.4 L1097.7 1297.4 L1099.0 1297.5 L1100.3 1297.8 L1101.6 1298.3 L1102.9 1298.8 L1104.0 1299.3 L1104.2 1299.4 L1105.5 1299.7 L1106.8 1300.1 L1108.1 1300.9 L1109.4 1302.0 L1110.7 1303.4 L1112.0 1305.0 L1113.3 1306.3 L1114.6 1307.4 L1115.9 1308.6 L1117.2 1309.6 L1118.5 1310.7 L1119.8 1311.6 L1121.1 1311.8 L1122.4 1311.5 L1123.0 1311.4 L1123.7 1311.1 L1125.0 1307.9 L1126.3 1302.3 L1127.6 1295.8 L1128.9 1290.3 L1130.0 1287.4 L1130.2 1287.0 L1131.5 1284.3 L1132.8 1281.6 L1134.1 1278.8 L1135.4 1276.1 L1136.7 1274.7 L1138.0 1274.2 L1139.0 1273.4 L1139.3 1273.1 L1140.6 1271.8 L1141.9 1271.6 L1143.2 1271.8 L1144.5 1271.4 L1145.8 1270.7 L1147.1 1270.0 L1148.4 1269.4 L1149.7 1269.0 L1151.0 1268.7 L1152.3 1268.7 L1153.6 1268.8 L1154.9 1268.9 L1156.0 1268.9 L1156.2 1268.9 L1157.5 1268.9 L1158.8 1269.0 L1160.1 1269.7 L1161.4 1270.6 L1162.7 1270.9 L1164.0 1271.1 L1165.3 1271.9 L1166.6 1273.2 L1167.9 1274.1 L1169.2 1274.9 L1170.5 1275.3 L1171.8 1275.5 L1173.0 1276.3 L1173.1 1276.4 L1174.4 1277.6 L1175.7 1278.0 L1177.0 1278.1 L1178.3 1278.3 L1179.6 1278.5 L1180.9 1279.3 L1182.2 1280.4 L1183.5 1281.2 L1184.8 1281.9 L1186.1 1282.8 L1187.4 1283.7 L1188.7 1284.1 L1190.0 1284.3 L1191.0 1285.0 L1191.3 1285.2 L1192.6 1286.5 L1193.9 1287.5 L1195.2 1288.3 L1196.5 1289.1 L1197.8 1289.8 L1199.1 1290.7 L1200.4 1291.6 L1201.7 1292.3 L1203.0 1292.8 L1204.3 1293.3 L1205.6 1293.7 L1206.9 1294.5 L1208.0 1295.2 L1208.2 1295.3 L1209.5 1296.0 L1210.8 1296.6 L1212.1 1296.9 L1213.4 1297.2 L1214.7 1297.4 L1216.0 1297.5 L1217.3 1297.5 L1218.6 1297.2 L1219.0 1297.1 L1219.9 1297.4 L1221.2 1297.5 L1222.5 1296.7 L1223.8 1295.3 L1225.1 1293.4 L1226.4 1291.3 L1227.7 1289.6 L1229.0 1288.3 L1230.0 1287.1 L1230.3 1286.8 L1231.6 1285.0 L1232.9 1282.6 L1234.2 1279.9 L1235.5 1277.3 L1236.8 1274.8 L1238.1 1272.0 L1239.4 1269.1 L1240.7 1265.7 L1242.0 1262.3 L1243.0 1260.3 L1243.3 1259.7 L1244.6 1257.3 L1245.9 1254.4 L1247.2 1251.3 L1248.5 1248.1 L1249.8 1245.0 L1251.1 1242.1 L1252.4 1239.6 L1253.7 1236.8 L1255.0 1234.2 L1256.3 1233.4 L1257.0 1233.5 L1257.6 1234.1 L1258.9 1237.4 L1260.2 1242.5 L1261.5 1248.2 L1262.8 1253.5 L1264.0 1256.8 L1264.1 1257.0 L1265.4 1259.3 L1266.7 1260.8 L1268.0 1261.8 L1269.3 1263.2 L1270.6 1264.7 L1271.9 1265.8 L1273.0 1266.5 L1273.2 1266.6 L1274.5 1267.8 L1275.8 1269.3 L1277.1 1269.9 L1278.4 1270.0 L1279.7 1271.0 L1281.0 1272.2 L1282.3 1272.6 L1283.0 1272.6 L1283.6 1272.5 L1284.9 1271.8 L1286.2 1270.5 L1287.5 1268.4 L1288.8 1265.8 L1290.1 1264.0 L1291.4 1262.6 L1292.7 1261.2 L1293.0 1261.0 L1294.0 1260.0 L1295.3 1257.9 L1296.6 1255.4 L1297.9 1253.5 L1299.2 1251.9 L1300.5 1250.2 L1301.8 1248.4 L1303.1 1247.1 L1304.0 1246.3 L1304.4 1246.0 L1305.7 1244.7 L1307.0 1243.3 L1308.3 1242.0 L1309.6 1240.8 L1310.9 1239.5 L1312.2 1238.2 L1313.5 1237.2 L1314.8 1236.4 L1316.1 1235.5 L1317.4 1234.7 L1318.7 1234.1 L1320.0 1233.8 L1321.0 1233.3 L1321.3 1233.1 L1322.6 1232.3 L1323.9 1232.0 L1325.2 1231.9 L1326.5 1230.9 L1327.8 1229.7 L1329.1 1229.6 L1330.4 1230.0 L1331.7 1229.6 L1333.0 1228.9 L1334.3 1228.8 L1335.6 1228.9 L1336.9 1228.6 L1338.2 1228.2 L1339.5 1228.2 L1340.0 1228.3 L1340.8 1228.4 L1342.1 1228.8 L1343.4 1229.3 L1344.7 1229.4 L1346.0 1229.3 L1347.3 1229.8 L1348.6 1230.7 L1349.9 1231.4 L1351.2 1232.1 L1352.5 1232.9 L1353.8 1233.8 L1355.1 1234.2 L1356.4 1234.4 L1357.7 1235.2 L1359.0 1236.3 L1360.0 1236.9 L1360.3 1237.0 L1361.6 1237.5 L1362.9 1238.0 L1364.2 1238.5 L1365.5 1239.2 L1366.8 1240.0 L1368.1 1240.5 L1369.4 1240.8 L1370.7 1241.9 L1372.0 1243.4 L1373.3 1244.1 L1374.6 1244.4 L1375.9 1245.2 L1377.2 1246.1 L1378.5 1246.2 L1379.8 1245.7 L1381.1 1245.8 L1382.4 1246.0 L1383.7 1246.4 L1385.0 1247.0 L1386.0 1246.9 L1386.3 1246.7 L1387.6 1246.2 L1388.9 1246.3 L1390.2 1246.8 L1391.5 1246.8 L1392.8 1246.4 L1394.1 1246.3 L1395.4 1246.4 L1396.7 1246.4 L1398.0 1246.5 L1399.3 1246.4 L1400.6 1246.3 L1401.9 1246.6 L1403.2 1247.0 L1404.5 1246.9 L1405.8 1246.5 L1407.1 1246.0 L1408.0 1245.6 L1408.4 1245.4 L1409.7 1245.8 L1411.0 1246.8 L1412.3 1247.0 L1413.6 1246.8 L1414.9 1247.6 L1416.2 1248.8 L1417.5 1249.5 L1418.8 1249.9 L1420.1 1250.8 L1421.4 1251.9 L1422.7 1253.3 L1424.0 1254.8 L1425.3 1255.5 L1426.6 1255.8 L1427.9 1256.4 L1429.2 1257.1 L1430.5 1257.7 L1431.8 1258.1 L1433.1 1258.5 L1434.4 1258.8 L1435.0 1258.9 L1435.7 1258.5 L1437.0 1255.0 L1438.3 1248.2 L1439.6 1240.1 L1440.9 1233.3 L1442.0 1229.3 L1442.2 1228.7 L1443.5 1225.9 L1444.8 1223.5 L1446.1 1220.5 L1447.4 1217.5 L1448.7 1215.4 L1450.0 1213.9 L1451.0 1213.0 L1451.3 1212.7 L1452.6 1211.7 L1453.9 1210.3 L1455.2 1208.8 L1456.5 1207.4 L1457.8 1206.3 L1459.1 1205.2 L1460.4 1204.2 L1461.7 1203.2 L1463.0 1202.2 L1464.0 1201.5 L1464.3 1201.3 L1465.6 1200.4 L1466.9 1199.6 L1468.2 1199.0 L1469.5 1198.5 L1470.0 1198.4 L1470.8 1198.3 L1472.1 1197.7 L1473.4 1197.0 L1474.7 1196.1 L1476.0 1195.1 L1477.3 1194.4 L1478.6 1193.8 L1479.9 1193.6 L1481.2 1193.6 L1482.5 1192.7 L1483.8 1191.6 L1485.1 1191.3 L1486.4 1191.4 L1487.7 1191.3 L1489.0 1191.1 L1490.3 1190.8 L1491.6 1190.4 L1492.9 1190.3 L1493.0 1190.3 L1494.2 1190.4 L1495.5 1190.8 L1496.8 1191.5 L1498.1 1191.5 L1499.4 1191.2 L1500.7 1191.6 L1502.0 1192.3 L1503.3 1192.9 L1504.6 1193.5 L1505.9 1194.2 L1507.2 1195.0 L1508.5 1195.3 L1509.8 1195.4 L1511.1 1196.3 L1512.4 1197.5 L1513.7 1197.9 L1515.0 1197.9 L1515.0 1197.9 L1516.3 1198.2 L1517.6 1198.5 L1518.9 1198.9 L1520.2 1199.1 L1521.5 1199.4 L1522.8 1199.6 L1524.1 1199.8 L1525.4 1200.0 L1526.7 1200.7 L1528.0 1201.6 L1529.3 1201.9 L1530.6 1202.0 L1531.9 1202.1 L1533.2 1202.3 L1534.5 1202.9 L1535.8 1203.5 L1537.1 1203.6 L1538.4 1203.5 L1539.7 1204.0 L1541.0 1204.8 L1542.3 1205.2 L1543.6 1205.5 L1544.9 1205.8 L1545.0 1205.8 L1546.2 1206.1 L1547.5 1207.0 L1548.8 1208.4 L1550.1 1209.0 L1551.4 1209.4 L1552.7 1210.7 L1554.0 1212.5 L1555.3 1213.5 L1556.6 1214.1 L1557.9 1215.3 L1559.2 1216.7 L1560.5 1218.0 L1561.8 1219.1 L1563.1 1219.7 L1564.4 1219.9 L1565.7 1219.9 L1567.0 1219.7 L1567.0 1219.7 L1568.3 1219.6 L1569.6 1219.3 L1570.9 1218.6 L1572.2 1217.6 L1573.5 1216.4 L1574.8 1215.0 L1576.1 1213.6 L1577.4 1212.3 L1578.7 1211.2 L1580.0 1210.2 L1581.3 1209.1 L1582.6 1208.1 L1583.9 1206.6 L1585.0 1205.2 L1585.2 1205.0 L1586.5 1204.3 L1587.8 1204.1 L1589.1 1203.7 L1590.4 1203.2 L1591.7 1202.6 L1593.0 1201.9 L1594.3 1201.0 L1595.6 1200.1 L1596.9 1199.8 L1598.2 1199.9 L1599.5 1199.0 L1600.8 1197.7 L1602.1 1197.2 L1603.4 1197.0 L1604.7 1196.6 L1606.0 1196.0 L1607.3 1194.5 L1608.6 1192.4 L1609.0 1191.7 L1609.9 1191.3 L1611.2 1190.3 L1612.5 1188.4 L1613.8 1186.0 L1615.1 1183.4 L1616.4 1180.8 L1617.7 1178.0 L1619.0 1175.4 L1620.3 1173.4 L1621.6 1172.0 L1622.9 1170.8 L1624.0 1170.3 L1624.2 1170.3 L1625.5 1172.6 L1626.8 1177.6 L1628.1 1183.6 L1629.4 1189.8 L1630.7 1194.8 L1632.0 1197.7 L1632.0 1197.7 L1633.3 1199.3 L1634.6 1201.0 L1635.9 1202.6 L1637.2 1204.1 L1638.5 1205.4 L1639.8 1206.3 L1641.1 1206.9 L1642.0 1207.0 L1642.4 1207.0 L1643.7 1206.7 L1645.0 1206.1 L1646.3 1205.5 L1647.6 1204.7 L1648.9 1203.6 L1650.2 1202.3 L1651.5 1201.1 L1652.8 1200.1 L1654.1 1200.2 L1655.0 1200.7 L1655.4 1201.0 L1656.7 1201.3 L1658.0 1201.4 L1659.3 1200.8 L1660.6 1199.9 L1661.9 1199.7 L1663.2 1199.8 L1664.5 1200.0 L1665.8 1200.2 L1667.1 1200.4 L1668.4 1200.5 L1669.7 1200.5 L1671.0 1200.4 L1672.3 1200.5 L1673.6 1200.6 L1674.0 1200.7 L1674.9 1200.4 L1676.2 1200.1 L1677.5 1200.2 L1678.8 1200.5 L1680.1 1200.8 L1681.4 1201.1 L1682.7 1201.2 L1684.0 1201.3 L1685.3 1201.9 L1686.6 1202.8 L1687.9 1203.2 L1689.0 1203.4 L1689.2 1203.4 L1690.5 1203.9 L1691.8 1204.7 L1693.1 1205.2 L1694.4 1205.7 L1695.7 1206.9 L1697.0 1208.3 L1698.3 1209.2 L1699.6 1209.7 L1700.9 1211.0 L1702.2 1212.6 L1703.5 1213.3 L1704.8 1213.5 L1706.1 1214.6 L1707.4 1216.1 L1708.7 1217.5 L1709.0 1217.8 L1710.0 1218.9 L1711.3 1219.6 L1712.6 1220.0 L1713.9 1220.8 L1715.2 1221.8 L1716.5 1222.2 L1717.8 1222.4 L1719.1 1223.6 L1720.4 1225.3 L1721.7 1226.1 L1723.0 1226.5 L1724.3 1227.0 L1725.6 1227.5 L1726.9 1228.2 L1728.2 1229.1 L1729.5 1229.8 L1730.8 1230.4 L1732.1 1231.3 L1733.4 1232.4 L1734.0 1232.7 L1734.7 1232.9 L1736.0 1233.3 L1737.3 1233.7 L1738.6 1234.0 L1739.9 1235.0 L1741.2 1236.3 L1742.5 1237.6 L1743.8 1238.9 L1745.1 1239.8 L1746.4 1240.5 L1747.7 1241.0 L1749.0 1241.5 L1750.3 1242.3 L1751.6 1243.3 L1752.9 1243.9 L1754.2 1244.2 L1755.5 1244.6 L1756.8 1245.1 L1758.1 1244.8 L1759.0 1244.4 L1759.4 1244.2 L1760.7 1244.0 L1762.0 1244.0 L1763.3 1244.1 L1764.6 1244.3 L1765.9 1243.9 L1767.2 1243.4 L1768.5 1243.2 L1769.8 1243.2 L1771.0 1243.4 L1771.1 1243.5 L1772.4 1244.0 L1773.7 1243.9 L1775.0 1243.6 L1776.3 1244.0 L1777.6 1244.7 L1778.9 1245.2 L1780.2 1245.6 L1781.5 1246.2 L1782.8 1247.0 L1784.1 1247.9 L1785.4 1248.8 L1786.7 1249.3 L1788.0 1249.7 L1789.0 1250.0 L1789.3 1250.1 L1790.6 1250.7 L1791.9 1252.2 L1793.2 1254.2 L1794.5 1255.2 L1795.8 1255.8 L1797.1 1257.0 L1798.4 1258.4 L1799.7 1259.3 L1801.0 1260.0 L1802.3 1260.9 L1803.6 1261.8 L1804.9 1262.6 L1806.2 1263.4 L1807.5 1264.0 L1808.8 1264.3 L1809.0 1264.4 L1810.1 1264.2 L1811.4 1263.8 L1812.7 1264.3 L1814.0 1265.2 L1815.3 1265.1 L1816.6 1264.5 L1817.9 1264.6 L1818.0 1264.6 L1819.2 1263.2 L1820.5 1258.9 L1821.8 1252.8 L1823.1 1245.0 L1824.4 1237.6 L1825.7 1233.0 L1826.0 1232.4 L1827.0 1230.9 L1828.3 1228.3 L1829.6 1225.6 L1830.9 1223.7 L1832.2 1222.4 L1833.5 1221.2 L1834.8 1220.3 L1836.0 1220.0 L1836.1 1220.0 L1837.4 1220.2 L1838.7 1220.1 L1840.0 1219.8 L1841.3 1219.9 L1842.6 1220.1 L1843.9 1220.6 L1845.2 1221.1 L1846.5 1221.1 L1847.8 1220.7 L1849.1 1220.9 L1850.4 1221.3 L1851.7 1221.7 L1853.0 1222.2 L1853.0 1222.2 L1854.3 1222.0 L1855.6 1221.6 L1856.9 1221.4 L1858.2 1221.2 L1859.5 1221.0 L1860.8 1220.8 L1862.1 1220.9 L1863.4 1221.1 L1864.7 1221.0 L1866.0 1220.8 L1867.3 1220.8 L1868.0 1220.9 L1868.6 1221.0 L1869.9 1221.0 L1871.2 1221.0 L1872.5 1221.5 L1873.8 1222.2 L1875.1 1222.0 L1876.4 1221.5 L1877.7 1221.1 L1879.0 1220.8 L1880.3 1221.1 L1881.6 1221.8 L1882.9 1222.0 L1883.0 1222.0 L1884.2 1221.7 L1885.5 1220.9 L1886.8 1219.6 L1888.1 1217.6 L1889.4 1215.2 L1890.7 1213.5 L1892.0 1212.3 L1893.3 1210.3 L1894.6 1208.1 L1895.9 1206.5 L1897.2 1205.4 L1898.0 1204.8 L1898.5 1204.4 L1899.8 1203.5 L1901.1 1203.3 L1902.4 1203.5 L1903.7 1203.3 L1905.0 1202.9 L1906.3 1202.8 L1907.6 1203.0 L1908.9 1202.5 L1910.2 1201.8 L1911.5 1201.2 L1912.8 1200.7 L1914.1 1200.6 L1915.4 1200.7 L1916.7 1200.2 L1918.0 1199.5 L1918.0 1199.5 L1919.3 1199.2 L1920.6 1199.0 L1921.9 1198.3 L1923.2 1197.2 L1924.5 1196.6 L1925.8 1196.2 L1927.1 1195.5 L1928.4 1194.7 L1929.7 1193.9 L1931.0 1193.1 L1932.3 1192.1 L1933.6 1191.0 L1934.9 1190.0 L1936.2 1188.9 L1937.5 1188.0 L1938.0 1187.7 L1938.8 1187.2 L1940.1 1186.0 L1941.4 1184.7 L1942.7 1183.5 L1944.0 1182.3 L1945.3 1180.8 L1946.6 1179.2 L1947.9 1177.3 L1949.2 1175.1 L1950.5 1173.8 L1951.8 1172.8 L1953.1 1171.6 L1954.4 1170.4 L1955.0 1169.7 L1955.7 1168.6 L1957.0 1166.2 L1958.3 1163.9 L1959.6 1161.5 L1960.9 1159.0 L1962.2 1156.4 L1963.5 1153.8 L1964.8 1151.4 L1966.1 1149.2 L1967.4 1147.5 L1968.7 1146.9 L1970.0 1147.2 L1970.0 1147.2 L1971.3 1149.8 L1972.6 1155.6 L1973.9 1162.9 L1975.2 1169.9 L1976.5 1175.1 L1977.0 1176.2 L1977.8 1177.5 L1979.1 1179.4 L1980.4 1181.2 L1981.7 1182.7 L1983.0 1184.1 L1984.3 1185.4 L1985.6 1186.5 L1986.9 1187.2 L1988.2 1187.7 L1989.5 1188.0 L1990.0 1188.0 L1990.8 1188.0 L1992.1 1187.2 L1993.4 1185.9 L1994.7 1184.7 L1996.0 1183.5 L1997.3 1182.5 L1998.6 1181.7 L1999.9 1180.7 L2001.2 1179.9 L2002.0 1179.6 L2002.5 1179.3 L2003.8 1178.8 L2005.1 1179.2 L2006.4 1180.1 L2007.7 1180.0 L2009.0 1179.6 L2010.3 1180.5 L2011.6 1182.0 L2012.9 1182.5 L2014.2 1182.5 L2015.5 1182.8 L2016.8 1183.3 L2017.0 1183.3 L2018.1 1183.6 L2019.4 1184.4 L2020.7 1185.8 L2022.0 1187.5 L2023.3 1189.8 L2024.6 1192.5 L2025.9 1195.1 L2027.2 1197.6 L2028.5 1199.9 L2029.8 1202.0 L2031.1 1204.2 L2032.4 1206.3 L2033.7 1207.9 L2034.0 1208.2 L2035.0 1209.1 L2036.3 1210.0 L2037.6 1210.8 L2038.9 1211.2 L2040.2 1211.4 L2041.5 1211.7 L2042.8 1212.1 L2044.1 1213.1 L2045.4 1214.6 L2046.7 1215.6 L2047.0 1215.8 L2048.0 1216.5 L2049.3 1218.2 L2050.6 1220.2 L2051.9 1222.4 L2053.2 1224.6 L2054.5 1226.5 L2055.8 1228.1 L2057.1 1229.3 L2058.4 1229.9 L2059.0 1230.1 L2059.7 1230.6 L2061.0 1231.4 L2062.3 1232.1 L2063.6 1232.7 L2064.9 1232.9 L2066.2 1232.9 L2067.5 1233.2 L2068.8 1233.6 L2070.1 1234.0 L2071.4 1234.5 L2072.7 1234.6 L2074.0 1234.6 L2075.3 1234.6 L2076.6 1234.7 L2077.0 1234.7 L2077.9 1234.7 L2079.2 1234.8 L2080.5 1235.0 L2081.8 1235.3 L2083.1 1235.3 L2084.4 1235.2 L2085.7 1235.5 L2087.0 1236.0 L2088.3 1236.1 L2089.0 1236.0 L2089.6 1236.0 L2090.9 1236.7 L2092.2 1238.0 L2093.5 1239.1 L2094.8 1240.1 L2096.1 1240.8 L2097.4 1241.4 L2098.7 1242.8 L2100.0 1244.6 L2101.0 1245.4 L2101.3 1245.5 L2102.6 1246.0 L2103.9 1247.1 L2105.2 1248.6 L2106.5 1249.5 L2107.8 1250.1 L2109.1 1250.8 L2110.4 1251.5 L2111.7 1252.5 L2113.0 1253.5 L2114.3 1254.1 L2115.6 1254.5 L2116.0 1254.6 L2116.9 1255.3 L2118.2 1256.4 L2119.5 1257.3 L2120.8 1258.1 L2122.1 1258.8 L2123.4 1259.5 L2124.7 1260.3 L2126.0 1261.2 L2127.3 1261.7 L2128.6 1261.9 L2129.9 1262.7 L2131.2 1263.5 L2132.5 1263.7 L2133.8 1263.4 L2135.0 1263.6 L2135.1 1263.6 L2136.4 1261.1 L2137.7 1254.5 L2139.0 1246.3 L2140.3 1239.1 L2141.0 1236.3 L2141.6 1234.5 L2142.9 1230.2 L2144.2 1226.1 L2145.5 1223.2 L2146.8 1221.1 L2148.1 1218.1 L2149.4 1215.0 L2150.7 1213.2 L2151.0 1212.9 L2152.0 1212.1 L2153.3 1210.9 L2154.6 1209.6 L2155.9 1209.0 L2157.2 1208.7 L2158.5 1207.6 L2159.8 1206.3 L2161.1 1205.7 L2162.4 1205.5 L2163.7 1204.7 L2165.0 1203.6 L2166.3 1203.3 L2167.6 1203.4 L2168.9 1203.1 L2170.2 1202.8 L2171.0 1202.9 L2171.5 1203.0 L2172.8 1203.6 L2174.1 1203.8 L2175.4 1204.0 L2176.7 1204.4 L2178.0 1205.0 L2179.3 1206.1 L2180.6 1207.3 L2181.9 1208.0 L2183.2 1208.5 L2184.5 1209.3 L2185.8 1210.2 L2187.1 1211.3 L2188.0 1212.1 L2188.4 1212.4 L2189.7 1212.7 L2191.0 1212.5 L2192.3 1213.4 L2193.6 1214.7 L2194.9 1215.3 L2196.2 1215.5 L2197.5 1215.8 L2198.8 1216.2 L2200.1 1217.0 L2201.4 1217.9 L2202.7 1218.6 L2204.0 1219.3 L2205.3 1219.7 L2206.0 1219.9 L2206.6 1220.0 L2207.9 1220.7 L2209.2 1221.5 L2210.5 1222.4 L2211.8 1223.4 L2213.1 1224.2 L2214.4 1225.0 L2215.7 1225.6 L2217.0 1226.1 L2218.3 1226.6 L2219.6 1227.2 L2220.9 1227.8 L2222.2 1228.5 L2223.5 1229.2 L2224.8 1230.0 L2226.0 1230.9 L2226.1 1230.9 L2227.4 1232.0 L2228.7 1232.8 L2230.0 1233.5 L2231.3 1234.1 L2232.6 1234.8 L2233.9 1235.8 L2235.2 1236.9 L2236.5 1237.4 L2237.8 1237.7 L2239.1 1238.2 L2240.4 1238.9 L2241.7 1239.6 L2243.0 1240.2 L2244.3 1241.2 L2245.6 1242.4 L2246.9 1242.2 L2248.2 1241.5 L2249.5 1241.9 L2250.8 1242.8 L2252.1 1243.1 L2253.0 1243.2 L2253.4 1243.2 L2254.7 1243.1 L2256.0 1242.9 L2257.3 1243.1 L2258.6 1243.5 L2259.9 1243.1 L2261.2 1242.4 L2262.5 1241.8 L2263.8 1241.3 L2265.1 1240.4 L2266.4 1239.4 L2267.7 1238.9 L2269.0 1238.7 L2270.0 1238.2 L2270.3 1237.9 L2271.6 1236.6 L2272.9 1235.1 L2274.2 1233.3 L2275.5 1231.2 L2276.8 1228.9 L2278.1 1226.4 L2279.4 1223.8 L2280.0 1222.8 L2280.7 1221.7 L2282.0 1219.4 L2283.3 1216.9 L2284.6 1214.2 L2285.9 1211.2 L2287.2 1208.0 L2288.5 1204.9 L2289.8 1201.8 L2291.1 1198.8 L2292.4 1196.0 L2293.0 1195.0 L2293.7 1194.5 L2295.0 1193.7 L2296.3 1192.4 L2297.6 1190.9 L2298.9 1189.3 L2300.2 1187.6 L2301.5 1186.2 L2302.8 1184.9 L2304.1 1183.9 L2305.4 1183.0 L2306.7 1181.5 L2308.0 1179.8 L2309.3 1178.6 L2310.0 1178.1 L2310.6 1177.6 L2311.9 1175.6 L2313.2 1173.1 L2314.5 1170.9 L2315.8 1168.9 L2317.1 1167.0 L2318.4 1165.4 L2319.7 1163.5 L2321.0 1161.7 L2322.3 1160.9 L2323.6 1160.9 L2324.0 1161.0 L2324.9 1162.0 L2326.2 1166.2 L2327.5 1172.0 L2328.8 1178.5 L2330.1 1185.6 L2331.4 1191.6 L2332.0 1193.5 L2332.7 1194.8 L2334.0 1197.2 L2335.3 1199.9 L2336.6 1202.6 L2337.9 1204.8 L2339.2 1206.7 L2340.5 1208.4 L2341.8 1209.8 L2343.1 1211.1 L2344.4 1212.2 L2345.0 1212.6 L2345.7 1213.0 L2347.0 1213.5 L2348.3 1214.4 L2349.6 1215.4 L2350.9 1216.1 L2352.2 1216.6 L2353.5 1217.5 L2354.8 1218.7 L2355.0 1218.8 L2356.1 1219.1 L2357.4 1219.2 L2358.7 1218.9 L2360.0 1218.5 L2361.3 1218.9 L2362.6 1219.7 L2363.9 1220.0 L2365.2 1220.0 L2366.5 1220.1 L2367.8 1220.2 L2369.1 1220.7 L2370.0 1221.1 L2370.4 1221.3 L2371.7 1222.3 L2373.0 1223.6 L2374.3 1224.9 L2375.6 1226.2 L2376.9 1227.8 L2378.2 1229.5 L2379.5 1231.0 L2380.8 1232.2 L2382.1 1232.7 L2383.0 1232.6 L2383.4 1232.2 L2384.7 1227.2 L2386.0 1218.7 L2387.3 1209.1 L2388.6 1201.4 L2389.0 1200.0 L2389.9 1197.2 L2391.2 1193.4 L2392.5 1189.8 L2393.8 1186.5 L2395.1 1183.8 L2396.4 1181.6 L2397.7 1179.6 L2399.0 1178.1 L2400.3 1176.9 L2401.6 1176.3 L2402.0 1176.2 L2402.9 1177.7 L2404.2 1184.3 L2405.5 1193.2 L2406.8 1200.6 L2407.0 1201.3 L2408.1 1204.4 L2409.4 1207.6 L2410.7 1210.5 L2412.0 1213.2 L2413.3 1215.7 L2414.6 1218.0 L2415.9 1219.6 L2417.0 1220.8 L2417.2 1221.0 L2418.5 1222.8 L2419.8 1224.9 L2421.1 1226.6 L2422.4 1228.1 L2423.7 1229.6 L2425.0 1231.0 L2426.3 1232.9 L2427.6 1235.0 L2428.9 1236.1 L2430.0 1236.7 L2430.2 1236.8 L2431.5 1237.0 L2432.8 1237.2 L2434.1 1238.2 L2435.4 1239.7 L2436.7 1240.6 L2438.0 1241.1 L2439.3 1242.0 L2440.6 1243.2 L2441.9 1243.8 L2443.2 1244.0 L2444.5 1244.3 L2445.8 1244.6 L2447.1 1244.8 L2448.4 1245.0 L2449.0 1245.1 L2449.7 1244.6 L2451.0 1241.7 L2452.3 1236.9 L2453.6 1231.3 L2454.9 1226.3 L2455.0 1226.0 L2456.2 1221.5 L2457.5 1216.1 L2458.8 1210.9 L2460.1 1206.5 L2461.4 1203.8 L2462.0 1203.2 L2462.7 1202.6 L2464.0 1201.7 L2465.3 1201.4 L2466.6 1201.4 L2467.9 1201.2 L2469.2 1201.0 L2470.5 1200.7 L2471.8 1200.3 L2473.1 1200.2 L2474.0 1200.2 L2474.4 1200.2 L2475.7 1199.3 L2477.0 1198.1 L2478.3 1197.4 L2479.6 1196.8 L2480.9 1196.0 L2482.2 1195.0 L2483.5 1194.5 L2484.8 1194.3 L2486.1 1193.6 L2487.4 1193.0 L2488.7 1192.8 L2489.0 1192.9 L2490.0 1193.2 L2491.3 1194.1 L2492.6 1195.4 L2493.9 1196.6 L2495.2 1197.8 L2496.5 1199.7 L2497.8 1201.9 L2499.0 1203.0 L2499.1 1203.1 L2500.4 1203.9 L2501.7 1205.0 L2503.0 1206.3 L2504.3 1207.5 L2505.6 1208.6 L2506.9 1209.9 L2508.2 1211.2 L2509.5 1212.3 L2510.8 1213.2 L2512.1 1214.4 L2513.4 1215.6 L2514.7 1216.2 L2516.0 1216.6 L2517.3 1217.1 L2518.6 1217.6 L2519.0 1217.7 L2519.9 1218.2 L2521.2 1218.8 L2522.5 1219.7 L2523.8 1220.7 L2525.1 1221.6 L2526.4 1222.5 L2527.7 1223.0 L2529.0 1223.2 L2530.3 1223.5 L2531.6 1223.8 L2532.9 1224.4 L2534.2 1225.2 L2535.5 1225.7 L2536.8 1226.1 L2538.1 1226.4 L2539.4 1226.6 L2540.7 1226.6 L2542.0 1226.6 L2543.3 1226.2 L2544.0 1226.0 L2544.6 1225.7 L2545.9 1226.0 L2547.2 1226.5 L2548.5 1227.0 L2549.8 1227.5 L2551.1 1227.4 L2552.4 1227.2 L2553.7 1226.6 L2555.0 1226.0 L2556.3 1226.2 L2557.6 1226.8 L2558.9 1226.6 L2560.2 1226.1 L2561.5 1226.7 L2562.8 1227.8 L2564.1 1227.8 L2565.4 1227.3 L2566.7 1226.8 L2568.0 1226.4 L2569.3 1226.7 L2570.6 1227.3 L2571.9 1227.1 L2573.2 1226.7 L2574.0 1226.7 L2574.5 1226.8 L2575.8 1227.3 L2577.1 1227.4 L2578.4 1227.5 L2579.7 1227.5 L2581.0 1227.4 L2582.3 1228.0 L2583.6 1228.9 L2584.9 1229.1 L2586.2 1229.0 L2587.5 1229.8 L2588.8 1231.1 L2590.1 1231.5 L2591.4 1231.7 L2592.7 1231.8 L2594.0 1232.0 L2595.3 1232.2 L2596.6 1232.4 L2597.9 1233.4 L2599.2 1234.7 L2600.5 1235.2 L2601.8 1235.5 L2603.1 1235.1 L2604.4 1234.5 L2605.7 1234.9 L2606.0 1235.0 L2607.0 1235.6 L2608.3 1235.2 L2609.6 1234.1 L2610.9 1233.1 L2612.2 1231.9 L2613.5 1230.8 L2614.8 1229.7 L2616.1 1228.5 L2617.4 1227.4 L2618.0 1226.9 L2618.7 1226.6 L2620.0 1226.0 L2621.3 1224.7 L2622.6 1223.2 L2623.9 1221.4 L2625.2 1219.6 L2626.5 1218.8 L2627.8 1218.5 L2629.1 1217.2 L2630.4 1215.5 L2631.7 1213.5 L2633.0 1211.5 L2634.3 1209.9 L2635.6 1208.6 L2636.9 1207.0 L2638.0 1205.6 L2638.2 1205.3 L2639.5 1203.8 L2640.8 1202.4 L2642.1 1200.9 L2643.4 1199.2 L2644.7 1197.4 L2646.0 1195.5 L2647.3 1193.5 L2648.6 1191.4 L2649.9 1189.4 L2651.2 1187.4 L2652.5 1185.8 L2653.8 1184.4 L2655.1 1182.4 L2656.4 1180.3 L2657.7 1178.8 L2658.0 1178.6 L2659.0 1177.6 L2660.3 1175.1 L2661.6 1171.9 L2662.9 1169.6 L2664.2 1167.6 L2665.5 1165.1 L2666.8 1162.5 L2668.1 1160.0 L2669.4 1157.6 L2670.7 1156.0 L2672.0 1154.8 L2673.3 1153.4 L2674.6 1152.0 L2675.9 1151.0 L2677.0 1150.6 L2677.2 1150.6 L2678.5 1153.5 L2679.8 1159.8 L2681.1 1167.9 L2682.4 1176.3 L2683.7 1182.5 L2685.0 1185.5 L2685.0 1185.5 L2686.3 1187.4 L2687.6 1189.6 L2688.9 1190.8 L2690.2 1191.6 L2691.5 1191.9 L2692.8 1191.9 L2693.0 1191.9 L2694.1 1189.8 L2695.4 1182.8 L2696.7 1173.3 L2698.0 1164.1 L2699.3 1157.8 L2700.0 1156.6 L2700.6 1157.1 L2701.9 1162.0 L2703.2 1169.0 L2704.5 1175.2 L2705.0 1176.6 L2705.8 1178.1 L2707.1 1180.0 L2708.4 1181.4 L2709.7 1182.1 L2711.0 1182.5 L2712.3 1183.4 L2713.6 1184.5 L2714.9 1185.5 L2716.2 1186.4 L2717.5 1187.4 L2718.0 1187.8 L2718.8 1188.5 L2720.1 1189.4 L2721.4 1190.1 L2722.7 1191.6 L2724.0 1193.3 L2725.3 1194.4 L2726.6 1195.2 L2727.9 1196.2 L2729.2 1197.4 L2730.5 1198.8 L2731.8 1200.4 L2733.0 1201.5 L2733.1 1201.5 L2734.4 1202.6 L2735.7 1204.5 L2737.0 1206.9 L2738.3 1209.3 L2739.6 1211.8 L2740.9 1213.9 L2742.2 1215.8 L2743.5 1217.5 L2744.8 1219.0 L2746.1 1219.9 L2747.0 1220.3 L2747.4 1220.4 L2748.7 1220.3 L2750.0 1220.1 L2751.3 1220.3 L2752.6 1220.6 L2753.9 1220.3 L2755.2 1219.8 L2756.5 1219.8 L2757.8 1220.0 L2759.1 1219.8 L2760.4 1219.3 L2761.7 1219.5 L2763.0 1219.8 L2764.3 1219.8 L2765.6 1219.7 L2766.9 1220.0 L2767.0 1220.1 L2768.2 1220.7 L2769.5 1221.0 L2770.8 1221.3 L2772.1 1221.8 L2773.4 1222.4 L2774.7 1223.4 L2776.0 1224.7 L2777.3 1225.6 L2778.6 1226.4 L2779.9 1227.1 L2781.2 1227.8 L2782.5 1228.2 L2783.8 1228.5 L2785.1 1228.9 L2786.4 1229.1 L2787.0 1229.2 L2787.7 1229.6 L2789.0 1230.3 L2790.3 1230.6 L2791.6 1230.7 L2792.9 1230.8 L2794.2 1230.8 L2795.5 1231.0 L2796.8 1231.3 L2798.1 1231.2 L2799.4 1231.0 L2800.7 1231.6 L2802.0 1232.7 L2803.3 1232.6 L2804.6 1232.1 L2805.9 1232.2 L2807.0 1232.6 L2807.2 1232.6 L2808.5 1233.3 L2809.8 1234.2 L2811.1 1234.6 L2812.4 1234.8 L2813.7 1235.9 L2815.0 1237.5 L2816.3 1238.5 L2817.6 1239.3 L2818.9 1239.8 L2820.2 1240.1 L2821.5 1240.3 L2822.8 1240.4 L2824.0 1240.5 L2824.1 1240.5 L2825.4 1239.1 L2826.7 1235.3 L2828.0 1230.0 L2829.3 1225.1 L2830.6 1220.8 L2831.9 1216.8 L2832.0 1216.5 L2833.2 1213.3 L2834.5 1210.0 L2835.8 1206.9 L2837.1 1204.1 L2838.4 1201.5 L2839.7 1199.3 L2841.0 1197.5 L2842.3 1195.8 L2843.6 1194.3 L2844.0 1193.9 L2844.9 1192.2 L2846.2 1189.8 L2847.5 1188.0 L2848.8 1186.6 L2850.1 1184.9 L2851.4 1183.1 L2852.7 1182.2 L2854.0 1181.6 L2855.3 1180.6 L2856.6 1179.6 L2857.9 1179.2 L2859.2 1179.4 L2860.5 1178.8 L2861.0 1178.6 L2861.8 1178.2 L2863.1 1178.4 L2864.4 1179.1 L2865.7 1180.2 L2867.0 1181.4 L2868.3 1183.2 L2869.6 1185.3 L2870.9 1186.6 L2872.2 1187.5 L2873.5 1189.3 L2874.8 1191.4 L2876.1 1192.7 L2877.0 1193.2 L2877.4 1193.4 L2878.7 1194.1 L2880.0 1194.6 L2881.3 1195.2 L2882.6 1195.7 L2883.9 1196.7 L2885.2 1197.8 L2886.5 1198.7 L2887.8 1199.5 L2889.1 1199.7 L2890.4 1199.6 L2891.7 1200.2 L2893.0 1201.1 L2894.3 1202.1 L2895.6 1203.1 L2896.9 1203.5 L2897.0 1203.5 L2898.2 1203.6 L2899.5 1204.2 L2900.8 1205.2 L2902.1 1205.9 L2903.4 1206.5 L2904.7 1207.5 L2906.0 1208.7 L2907.3 1209.7 L2908.6 1210.7 L2909.9 1211.6 L2911.2 1212.4 L2912.5 1213.2 L2913.8 1214.1 L2915.1 1214.8 L2916.0 1215.2 L2916.4 1215.5 L2917.7 1216.4 L2919.0 1217.4 L2920.3 1218.6 L2921.6 1219.7 L2922.9 1221.1 L2924.2 1222.7 L2925.5 1223.6 L2926.8 1224.3 L2928.1 1225.2 L2929.4 1226.0 L2930.7 1227.1 L2932.0 1228.4 L2933.3 1229.2 L2934.6 1229.8 L2935.9 1230.0 L2936.0 1230.0 L2937.2 1230.1 L2938.5 1230.4 L2939.8 1230.9 L2941.1 1231.6 L2942.4 1232.3 L2943.7 1232.7 L2945.0 1232.8 L2946.3 1232.8 L2947.6 1232.6 L2948.9 1232.7 L2949.0 1232.8 L2950.2 1233.0 L2951.5 1232.9 L2952.8 1232.5 L2954.1 1232.3 L2955.4 1232.2 L2956.7 1231.4 L2958.0 1230.2 L2959.0 1229.7 L2959.3 1229.7 L2960.6 1228.6 L2961.9 1226.3 L2963.2 1223.2 L2964.5 1219.7 L2965.8 1216.3 L2967.1 1214.1 L2968.0 1213.2 L2968.4 1213.0 L2969.7 1211.7 L2971.0 1210.3 L2972.3 1208.5 L2973.6 1206.5 L2974.9 1205.7 L2976.2 1205.5 L2977.5 1204.1 L2978.8 1202.3 L2980.1 1201.2 L2981.4 1200.6 L2982.7 1200.2 L2984.0 1200.0 L2985.3 1200.1 L2986.0 1200.2 L2986.6 1200.7 L2987.9 1203.6 L2989.2 1208.2 L2990.5 1213.4 L2991.8 1218.0 L2993.0 1221.2 L2993.1 1221.4 L2994.4 1223.9 L2995.7 1225.8 L2997.0 1227.4 L2998.3 1229.1 L2999.6 1230.8 L3000.9 1232.2 L3002.2 1233.3 L3003.0 1233.4 L3003.5 1233.2 L3004.8 1232.6 L3006.1 1232.1 L3007.4 1231.4 L3008.7 1231.7 L3010.0 1232.5 L3011.3 1232.6 L3012.6 1232.4 L3013.0 1232.4 L3013.9 1232.2 L3015.2 1230.8 L3016.5 1228.3 L3017.8 1225.1 L3019.1 1221.5 L3020.4 1218.3 L3021.7 1216.1 L3023.0 1215.3 L3023.0 1215.3 L3024.3 1215.6 L3025.6 1216.2 L3026.9 1216.8 L3028.2 1217.4 L3029.5 1217.6 L3030.8 1217.6 L3032.1 1218.8 L3033.0 1219.9 L3033.4 1220.4 L3034.7 1221.2 L3036.0 1221.6 L3037.3 1222.2 L3038.6 1222.9 L3039.9 1223.7 L3041.2 1224.6 L3042.5 1225.1 L3043.8 1225.5 L3045.1 1226.4 L3046.4 1227.5 L3047.7 1228.7 L3049.0 1229.8 L3050.3 1230.7 L3051.6 1231.5 L3052.9 1232.2 L3054.2 1232.8 L3055.0 1233.2 L3055.5 1233.4 L3056.8 1234.0 L3058.1 1234.5 L3059.4 1235.1 L3060.7 1236.3 L3062.0 1237.6 L3063.3 1238.4 L3064.6 1238.9 L3065.9 1239.4 L3067.2 1239.9 L3068.5 1240.3 L3069.8 1240.5 L3071.1 1241.5 L3072.4 1242.7 L3073.7 1243.4 L3075.0 1244.0 L3075.0 1244.0 L3076.3 1245.5 L3077.6 1247.5 L3078.9 1248.7 L3080.2 1249.6 L3081.5 1250.6 L3082.8 1251.5 L3084.1 1252.8 L3085.4 1254.1 L3086.7 1255.9 L3088.0 1257.7 L3089.3 1258.6 L3090.6 1258.9 L3091.9 1258.9 L3093.0 1258.6 L3093.2 1258.5 L3094.5 1258.8 L3095.8 1259.4 L3097.1 1259.5 L3098.4 1259.3 L3099.7 1259.2 L3100.0 1259.1 L3101.0 1258.8 L3102.3 1258.2 L3103.6 1257.3 L3104.9 1256.0 L3106.2 1254.6 L3107.5 1252.4 L3108.8 1250.0 L3110.1 1247.6 L3111.4 1245.6 L3112.7 1244.3 L3114.0 1243.8 L3114.0 1243.8 L3115.3 1244.7 L3116.6 1246.9 L3117.9 1249.7 L3119.2 1252.4 L3120.0 1253.4 L3120.5 1253.7 L3121.8 1254.4 L3123.1 1255.4 L3124.4 1256.6 L3125.7 1258.6 L3127.0 1260.9 L3128.3 1262.1 L3129.6 1262.7 L3130.9 1263.9 L3132.2 1265.3 L3133.5 1266.2 L3134.8 1266.7 L3136.1 1267.8 L3137.4 1269.0 L3138.7 1269.6 L3140.0 1269.8 L3140.0 1269.8 L3141.3 1270.7 L3142.6 1271.8 L3143.9 1272.8 L3145.2 1273.8 L3146.5 1274.5 L3147.8 1275.0 L3149.1 1275.2 L3150.4 1275.4 L3151.7 1276.2 L3153.0 1277.3 L3154.3 1277.8 L3155.0 1278.0 L3155.6 1278.1 L3156.9 1278.7 L3158.2 1279.5 L3159.5 1280.9 L3160.8 1282.4 L3162.1 1283.6 L3163.4 1284.5 L3164.7 1284.7 L3165.0 1284.7 L3166.0 1283.0 L3167.3 1276.9 L3168.6 1268.2 L3169.9 1259.9 L3171.2 1253.3 L3172.0 1250.5 L3172.5 1249.1 L3173.8 1245.8 L3175.1 1242.6 L3176.4 1239.7 L3177.7 1236.8 L3179.0 1234.0 L3180.3 1232.5 L3181.6 1231.7 L3182.9 1230.1 L3184.0 1228.5 L3184.2 1228.3 L3185.5 1226.4 L3186.8 1224.5 L3188.1 1222.3 L3189.4 1220.0 L3190.7 1218.3 L3192.0 1216.9 L3193.3 1216.0 L3194.6 1215.4 L3195.9 1214.3 L3197.2 1213.0 L3198.5 1211.8 L3199.0 1211.4 L3199.8 1210.7 L3201.1 1209.4 L3202.4 1208.1 L3203.7 1207.1 L3205.0 1206.3 L3206.3 1205.2 L3207.6 1204.1 L3208.9 1203.4 L3210.2 1203.0 L3211.5 1202.7 L3212.0 1202.6 L3212.8 1202.6 L3214.1 1202.8 L3215.4 1203.4 L3216.7 1203.6 L3218.0 1203.8 L3219.3 1204.4 L3220.6 1205.3 L3221.9 1205.9 L3223.2 1206.4 L3224.5 1206.6 L3225.8 1206.7 L3227.1 1207.6 L3228.4 1208.9 L3229.7 1209.1 L3231.0 1208.7 L3232.3 1209.2 L3233.6 1210.0 L3234.0 1210.3 L3234.9 1210.6 L3236.2 1211.2 L3237.5 1211.6 L3238.8 1212.0 L3240.1 1211.6 L3241.4 1211.0 L3242.7 1211.7 L3244.0 1213.0 L3245.3 1213.6 L3246.6 1214.0 L3247.9 1214.4 L3249.2 1214.8 L3250.5 1214.4 L3251.8 1213.6 L3253.1 1213.8 L3254.4 1214.5 L3255.7 1215.0 L3257.0 1215.4 L3258.3 1215.5 L3259.6 1215.6 L3260.9 1216.0 L3262.2 1216.6 L3263.5 1216.4 L3264.0 1216.2 L3264.8 1215.8 L3266.1 1216.0 L3267.4 1216.6 L3268.7 1216.6 L3270.0 1216.4 L3271.3 1215.9 L3272.6 1215.3 L3273.9 1215.2 L3275.2 1215.3 L3276.5 1215.4 L3277.8 1215.5 L3279.1 1215.7 L3280.4 1215.8 L3281.7 1216.0 L3283.0 1216.2 L3284.3 1216.0 L3285.6 1215.7 L3286.9 1215.7 L3288.2 1216.0 L3289.5 1215.5 L3290.8 1214.7 L3292.1 1214.1 L3293.4 1213.6 L3294.7 1214.0 L3296.0 1214.7 L3297.3 1215.1 L3298.6 1215.2 L3299.0 1215.3 L3299.9 1215.0 L3301.2 1214.2 L3302.5 1213.3 L3303.8 1212.0 L3305.1 1211.0 L3306.4 1210.0 L3307.7 1208.9 L3309.0 1207.7 L3310.3 1205.7 L3311.6 1203.3 L3312.9 1201.3 L3314.0 1199.7"/>
</g>
<text x="73.4" y="1803.5" text-anchor="middle">08/08</text>
<text x="419.0" y="1803.5" text-anchor="middle">08/09</text>
<text x="764.4" y="1803.5" text-anchor="middle">08/10</text>
<text x="1112.2" y="1803.5" text-anchor="middle">08/11</text>
<text x="1457.6" y="1803.5" text-anchor="middle">08/12</text>
<text x="1803.3" y="1803.5" text-anchor="middle">08/13</text>
<text x="2150.8" y="1803.5" text-anchor="middle">08/14</text>
<text x="2496.5" y="1803.5" text-anchor="middle">08/15</text>
<text x="2841.8" y="1803.5" text-anchor="middle">08/16</text>
<text x="3189.8" y="1803.5" text-anchor="middle">08/17</text>
<text x="37.0" y="177.5" text-anchor="end">35</text>
<text x="37.0" y="588.0" text-anchor="end">30</text>
<text x="37.0" y="999.2" text-anchor="end">25</text>
<text x="37.0" y="1410.3" text-anchor="end">20</text>
<rect x="83" y="25" width="437" height="1383" fill="rgba(34,38,46,0.25)"/>
<text x="155" y="78.7">Départ (°C)</text>
<rect x="105" y="46.9" width="394" height="43.8" fill="rgba(255,255,255,0.7)"/>
<text x="155" y="140.4">Retour (°C)</text>
<rect x="105" y="108.6" width="394" height="43.8" fill="rgba(255,255,255,0.7)"/>
<text x="155" y="202.0">PAC départ (°C)</text>
<rect x="105" y="170.2" width="394" height="43.8" fill="rgba(255,255,255,0.7)"/>
<text x="155" y="263.7">PAC retour (°C)</text>
<rect x="105" y="231.9" width="394" height="43.8" fill="rgba(255,255,255,0.7)"/>
<text x="155" y="325.4">Débit (°C)</text>
<rect x="105" y="293.6" width="394" height="43.8" fill="rgba(255,255,255,0.7)"/>
<text x="155" y="387.1">Pompe (°C)</text>
<rect x="105" y="355.3" width="394" height="43.8" fill="rgba(255,255,255,0.7)"/>
<text x="155" y="448.7">Étage Bureau (°C)</text>
<rect x="105" y="416.9" width="394" height="43.8" fill="rgba(255,255,255,0.7)"/>
<text x="155" y="510.4">Étage PCBT depart (°C)</text>
<rect x="105" y="478.6" width="394" height="43.8" fill="rgba(255,255,255,0.7)"/>
<text x="155" y="572.1">Étage PCBT retour (°C)</text>
<rect x="105" y="540.3" width="394" height="43.8" fill="rgba(255,255,255,0.7)"/>
<rect x="105" y="620" width="33" height="8" fill="#8000ff"/>
<text x="155" y="633.7">Étage PCBT ambient (°C)</text>
<text x="155" y="695.4">Extérieur parking (°C)</text>
<rect x="105" y="744" width="33" height="8" fill="#808000"/>
<text x="155" y="757.1">Extérieur sous balcon (°C)</text>
<rect x="105" y="805" width="33" height="8" fill="#0000ff"/>
<text x="155" y="818.7">RC Cuisine (°C)</text>
<rect x="105" y="867" width="33" height="8" fill="#00ff00"/>
<text x="155" y="880.4">RC PCBT ambient (°C)</text>
<text x="155" y="942.1">RC PCBT depart (°C)</text>
<rect x="105" y="910.3" width="394" height="43.8" fill="rgba(255,255,255,0.7)"/>
<text x="155" y="1003.8">RC PCBT retour (°C)</text>
<rect x="105" y="972.0" width="394" height="43.8" fill="rgba(255,255,255,0.7)"/>
<rect x="105" y="1052" width="33" height="8" fill="#0080ff"/>
<text x="155" y="1065.4">RC PCBT2 ambient (°C)</text>
<text x="155" y="1127.1">RC PCBT2 depart (°C)</text>
<rect x="105" y="1095.3" width="394" height="43.8" fill="rgba(255,255,255,0.7)"/>
<text x="155" y="1188.8">RC PCBT2 retour (°C)</text>
<rect x="105" y="1157.0" width="394" height="43.8" fill="rgba(255,255,255,0.7)"/>
<text x="155" y="1250.4">PAC puits (°C)</text>
<rect x="105" y="1218.6" width="394" height="43.8" fill="rgba(255,255,255,0.7)"/>
<text x="155" y="1312.1">PAC rejet (°C)</text>
<rect x="105" y="1280.3" width="394" height="43.8" fill="rgba(255,255,255,0.7)"/>
<text x="155" y="1373.8">RC Chauffe-eau (°C)</text>
<rect x="105" y="1342.0" width="394" height="43.8" fill="rgba(255,255,255,0.7)"/>
</svg></body></html>
